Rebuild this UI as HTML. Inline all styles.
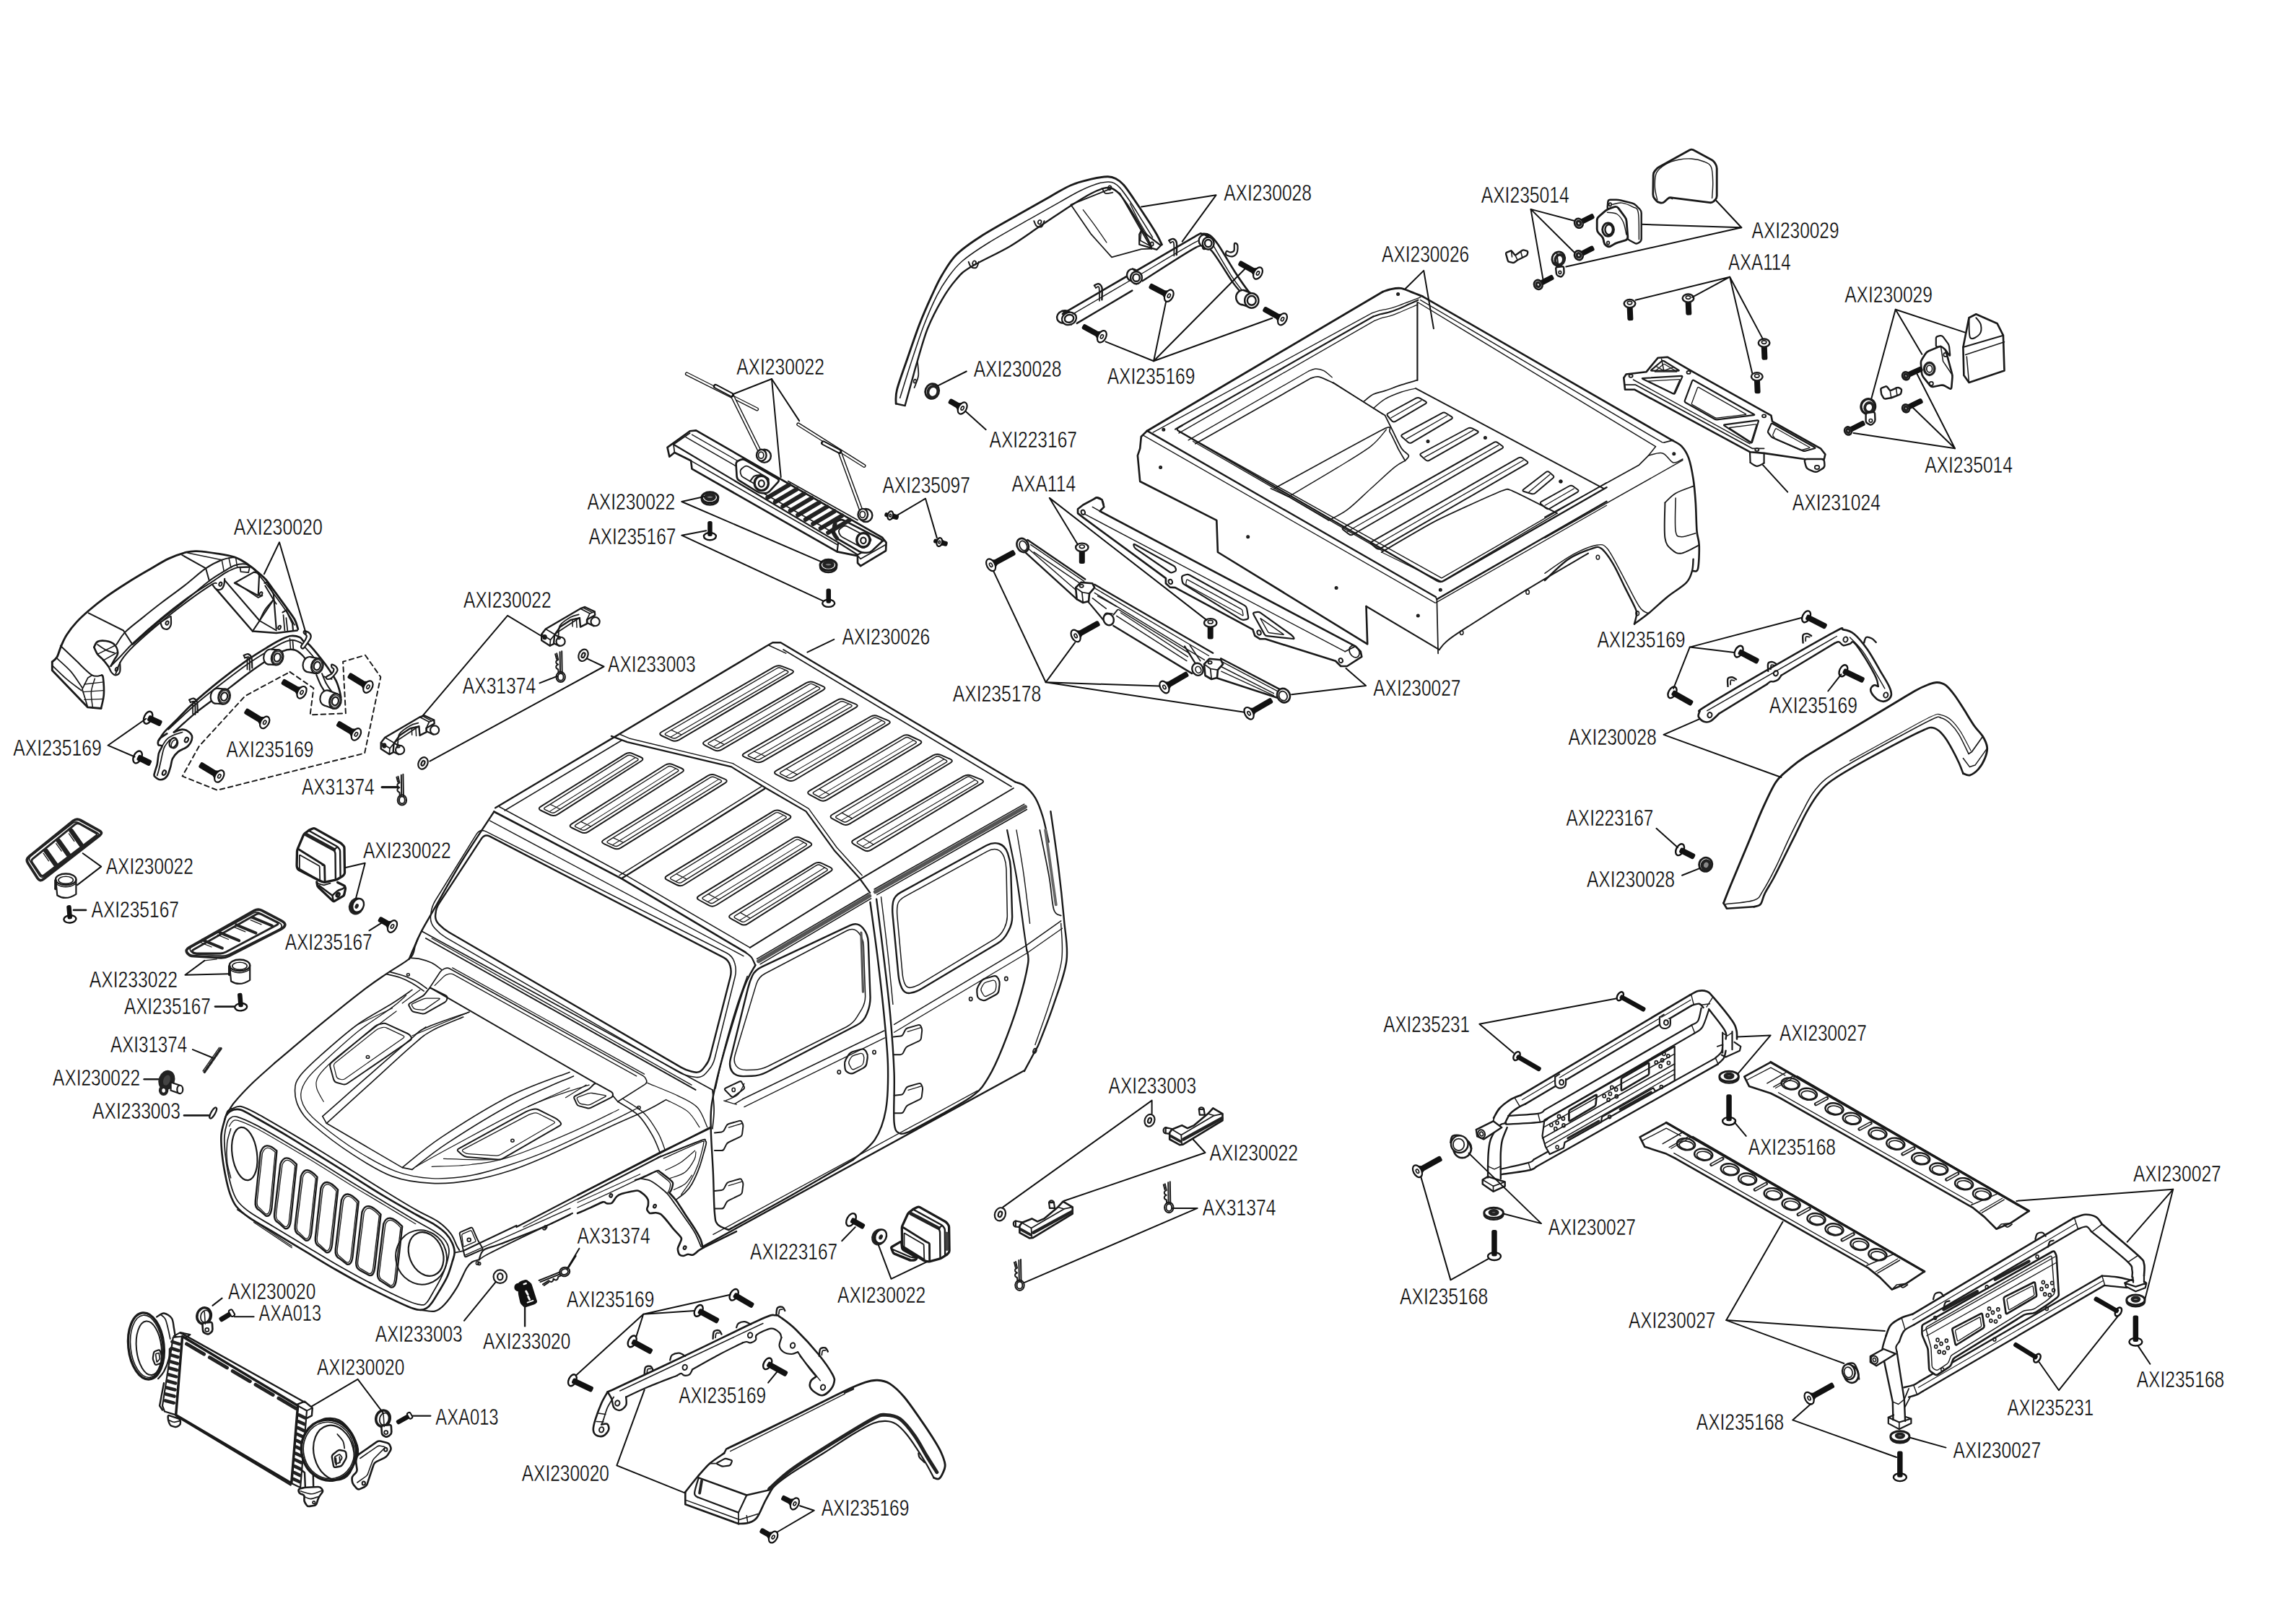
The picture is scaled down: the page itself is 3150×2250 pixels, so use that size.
<!DOCTYPE html>
<html><head><meta charset="utf-8"><title>Body exploded view</title>
<style>
html,body{margin:0;padding:0;background:#fff;}
body{width:3150px;height:2250px;overflow:hidden;}
svg{display:block;}
svg .ld{stroke-width:2;stroke:#111;}
svg text{font-family:"Liberation Sans",sans-serif;font-size:32px;fill:#000;stroke:#fff;stroke-width:0.45px;paint-order:fill stroke;}
</style></head><body>
<svg width="3150" height="2250" viewBox="0 0 3150 2250">
<g fill="none" stroke="#1a1a1a" stroke-width="2" stroke-linejoin="round" stroke-linecap="round">
<path d="M72.3,917 C73.4,915.9 76.9,914 79,910.3 C81.1,906.6 82.5,900 84.8,894.8 C87.1,889.6 89,884.8 92.6,879.3 C96.1,873.8 100.9,867.5 106.1,861.9 C111.2,856.3 116.7,851.3 123.5,845.5 C130.3,839.7 138,833.4 146.7,827.1 C155.4,820.8 166.1,813.8 175.8,807.7 C185.5,801.6 195.1,795.9 204.8,790.3 C214.5,784.7 224.9,778.1 233.8,773.9 C242.7,769.7 251.6,766.9 258,765.2 C264.4,763.5 265.2,763.3 272.5,763.6 C279.8,763.9 292.8,765.7 301.5,767.1 C310.2,768.5 318.4,769.8 324.8,771.9 C331.2,774 335.7,777 340.2,779.7 C344.7,782.5 347.3,784.7 351.8,788.4 C356.3,792.1 362.8,797.1 367.3,801.9 C371.8,806.7 374.4,811.3 378.9,817.4 C383.4,823.5 389.5,831.9 394.4,838.7 C399.2,845.5 404.9,852.5 408,858 C411.1,863.5 412,869.3 412.8,871.6" stroke-width="2.86"/>
<path d="M72.3,917 L72.3,928.7 L121.6,979.9 L140,981.5" stroke-width="2.86"/>
<path d="M140,981.5 C140.6,978.3 143.3,969.5 143.8,962.5 C144.3,955.5 143.4,943.8 142.9,939.3 C142.4,934.8 141.2,936 140.9,935.4" stroke-width="2.64"/>
<path d="M83.9,894.8 C87.3,898 97,907.3 104.2,914.1 C111.5,920.9 121.3,931.9 127.4,935.4 C133.5,938.9 138.7,935.4 140.9,935.4"/>
<path d="M79,912.2 C82.2,915.3 92.6,923.8 98.4,930.6 C104.2,937.4 111.3,949.1 113.9,952.8" stroke-width="1.76"/>
<path d="M73.2,922.8 C76.4,925.9 86,935.6 92.6,941.2 C99.2,946.9 109.5,954.1 112.9,956.7" stroke-width="1.76"/>
<path d="M127.4,935.4 L121.6,939.3 L113.9,954.8 L121.6,979.9" stroke-width="1.76"/>
<path d="M131.3,940.3 C130.5,943.3 126.9,951.8 126.4,958.6 C125.9,965.4 128.1,977.2 128.4,980.9" stroke-width="1.54"/>
<path d="M116.8,948 L141.9,945.1" stroke-width="1.32"/>
<path d="M114.8,958.6 L143.3,956.7" stroke-width="1.32"/>
<path d="M116.8,969.3 L143.6,968.3" stroke-width="1.32"/>
<path d="M122.6,849.3 L170.9,873.5 L183.5,892.9"/>
<path d="M252.2,769 L285.1,787.4 L289.9,804.8"/>
<path d="M307.3,775.8 L310.2,791.3" stroke-width="1.54"/>
<path d="M259.9,766.1 L307.3,775.8" stroke-width="1.54"/>
<path d="M317,772.9 L319.9,786.4" stroke-width="1.54"/>
<path d="M326.7,773.3 L328.6,785.5" stroke-width="1.54"/>
<path d="M161.3,892.9 C163.4,890 167.8,881.5 173.8,875.4 C179.8,869.3 188.7,862.9 197.1,856.1 C205.5,849.3 214.4,842.2 224.1,834.8 C233.8,827.4 244.9,819.5 255.1,811.6 C265.3,803.7 276.4,793.4 285.1,787.4 C293.8,781.4 300.7,778.4 307.3,775.8 C313.9,773.2 321.9,772.5 324.8,771.9"/>
<path d="M183.5,892.9 C187.1,889.7 196.4,880.6 204.8,873.5 C213.2,866.4 224.1,858 233.8,850.3 C243.5,842.6 253.5,834.7 262.8,827.1 C272.1,819.5 282.1,810.6 289.9,804.8 C297.6,799 303.5,795.8 309.3,792.2 C315.1,788.7 319.7,785.3 324.8,783.5 C329.9,781.7 335.7,780.8 340.2,781.6 C344.7,782.4 349.9,787.3 351.8,788.4"/>
<path d="M153.5,922.8 C155.6,920.7 160.8,915.8 166.1,910.3 C171.4,904.8 175.7,899 185.4,890 C195.1,881 211.2,866.8 224.1,856.1 C237,845.5 250.9,834.7 262.8,826.1 C274.7,817.5 287.3,810.3 295.7,804.8 C304.1,799.3 307.6,796.3 313.1,793.2 C318.6,790.1 323.4,787.7 328.6,786.4 C333.8,785.1 341.5,785.6 344.1,785.5"/>
<path d="M160.3,933.5 C161.6,930.4 163.8,921.6 168,915.1 C172.2,908.6 176.1,903.8 185.4,894.8 C194.8,885.8 211.2,871.5 224.1,860.9 C237,850.2 251.2,839.4 262.8,830.9 C274.4,822.4 287.7,813.5 293.8,809.7 C299.9,805.9 298.6,808.4 299.6,808.1" stroke-width="1.98"/>
<path d="M185.4,891.9 C190.2,887.9 206.1,874 214.5,867.7 C222.9,861.4 232.2,856.5 235.8,854.2" stroke-width="1.54"/>
<path d="M130.3,896.7 C131.1,895.4 132.4,890.5 135.1,889 C137.8,887.5 142.8,887.4 146.7,888 C150.6,888.6 155.7,890.1 158.4,892.9 C161.2,895.6 163.2,901 163.2,904.5 C163.2,908 160,911.1 158.4,914.1 C156.8,917.1 154.3,921.3 153.5,922.8" stroke-width="2.64"/>
<path d="M130.3,896.7 C131.1,898.3 133,903.5 135.1,906.4 C137.2,909.3 140.3,911.2 142.9,914.1 C145.5,917 149.3,922.2 150.6,923.8" stroke-width="2.64"/>
<path d="M135.1,892.9 C137,894.2 142.8,898.7 146.7,900.6 C150.6,902.5 156.4,903.9 158.4,904.5" stroke-width="1.76"/>
<path d="M135.1,906.4 L158.4,894.8" stroke-width="1.54"/>
<path d="M142.9,915.1 L161.3,904.5" stroke-width="1.54"/>
<path d="M150.6,923.8 C151.2,925.1 152.9,929.7 154.5,931.6 C156.1,933.5 158.4,935.6 160.3,935.4 C162.2,935.2 165.1,933.5 166.1,930.6 C167.1,927.7 166.1,920.1 166.1,918" stroke-width="2.2"/>
<ellipse cx="161.6" cy="927.3" rx="1.74" ry="2.71" stroke-width="1.98" transform="rotate(20 161.6 927.3)"/>
<path d="M222.2,861.9 C222.7,863.2 223.5,868 225.1,869.6 C226.7,871.2 230,872.2 231.9,871.6 C233.8,871 235.9,868.7 236.7,865.8 C237.5,862.9 236.7,856.1 236.7,854.2" stroke-width="2.2"/>
<ellipse cx="231.5" cy="863.1" rx="1.93" ry="2.71" stroke-width="1.98" transform="rotate(20 231.5 863.1)"/>
<path d="M294.8,810.6 C295.6,811.6 297.7,815.4 299.6,816.4 C301.5,817.4 304.6,817.4 306.4,816.4 C308.2,815.4 309.4,813 310.2,810.6 C311,808.2 311,803.4 311.2,801.9" stroke-width="2.2"/>
<ellipse cx="305.4" cy="809.3" rx="1.93" ry="2.71" stroke-width="1.98" transform="rotate(20 305.4 809.3)"/>
<path d="M299.6,816.4 L349.9,874.5 L382.8,877 L411.8,873.5" stroke-width="2.42"/>
<path d="M311.2,803.9 L359.6,860 L349.9,874.5" stroke-width="2.2"/>
<path d="M359.6,860 L382.8,873.5" stroke-width="1.98"/>
<path d="M359.6,860 C360.9,857.4 364.1,849.4 367.3,844.5 C370.5,839.6 377,833.2 378.9,830.9" stroke-width="1.98"/>
<path d="M324.8,807.7 L351.8,792.6 L359.2,794.2 L357.7,825.1 L324.8,807.7" stroke-width="2.2"/>
<path d="M327.7,808.1 L357.7,828 L363.5,825.1" stroke-width="1.76"/>
<ellipse cx="361.5" cy="822.8" rx="1.74" ry="2.71" stroke-width="1.98" transform="rotate(20 361.5 822.8)"/>
<path d="M332.5,786.4 L346,785.5 L344.1,793.2 L333.5,792.2 L332.5,786.4" stroke-width="1.76"/>
<path d="M366.4,807.7 L370.2,806.8 L378.9,823.2 L382.8,871.6" stroke-width="2.2"/>
<path d="M367.3,811.6 L378.9,830.9 L359.6,860" stroke-width="1.98"/>
<path d="M378.9,830.9 L382.8,836.7" stroke-width="1.76"/>
<path d="M391.5,848.4 L396.4,845.5 L405.1,863.8 L406,873.5" stroke-width="2.2"/>
<path d="M392.5,852.2 L394.4,873.5" stroke-width="1.76"/>
<path d="M396.4,856.1 L398.3,873.5" stroke-width="1.76"/>
<ellipse cx="387.1" cy="869.3" rx="1.74" ry="2.71" stroke-width="1.98" transform="rotate(20 387.1 869.3)"/>
<path d="M351.8,788.4 C354.7,792 363.5,802.3 369.3,809.7 C375.1,817.1 381.6,825.8 386.7,832.9 C391.8,840 396.6,846.7 400.2,852.2 C403.8,857.7 406.7,863.5 408,865.8" stroke-width="1.76"/>
<path d="M220.6,1025.1 C221.7,1023.3 223.7,1018.9 227.4,1014.5 C231.1,1010.1 236.4,1005.5 242.9,999 C249.4,992.5 255.8,985.1 266.1,975.8 C276.4,966.4 291.9,953.2 304.8,942.9 C317.7,932.6 332.2,921.8 343.5,913.9 C354.8,906 364.4,900.4 372.5,895.5 C380.6,890.6 386.7,887.2 391.9,884.8 C397.1,882.4 399.6,881.3 403.5,881 C407.4,880.7 412.2,881.6 415.1,882.9 C418,884.2 418.6,886.9 420.9,888.7 C423.1,890.5 424.7,889.6 428.6,893.5 C432.5,897.4 439.6,906.2 444.1,911.9 C448.6,917.5 452.1,922.2 455.7,927.4 C459.2,932.6 463,938.1 465.4,942.9 C467.8,947.7 469.1,952.5 470.2,956.4 C471.3,960.3 471.9,964.5 472.2,966.1" stroke-width="2.64"/>
<path d="M233.2,1010.6 C239.3,1005 258.1,987 270,976.7 C281.9,966.4 292.6,958.2 304.8,948.7 C317.1,939.2 332.2,927.6 343.5,919.7 C354.8,911.8 364.1,906.3 372.5,901.3 C380.9,896.3 388.3,892.1 393.8,889.7 C399.3,887.3 401.5,886.6 405.4,886.8 C409.3,886.9 415.1,890 417,890.6" stroke-width="1.98"/>
<path d="M240.9,1014.5 C246.4,1009.6 260.9,995.7 273.8,985.4 C286.7,975.1 306.7,961.3 318.3,952.6 C329.9,943.9 335.1,939.3 343.5,933.2 C351.9,927.1 360.5,921 368.6,915.8 C376.7,910.6 385.4,904.8 391.9,902.2 C398.3,899.6 402.8,899.3 407.3,900.3 C411.8,901.3 415.4,904.5 419,908 C422.6,911.5 427,919.3 428.6,921.6" stroke-width="2.42"/>
<path d="M405.4,886.8 L406.4,900.3" stroke-width="1.76"/>
<path d="M401.5,884.8 L402.5,899.9" stroke-width="1.54"/>
<path d="M417,890.6 C419.6,893.5 427.7,902.2 432.5,908 C437.3,913.8 443.8,922.6 446,925.5" stroke-width="1.76"/>
<path d="M438.3,935.1 C439.3,937.4 441.9,944.3 444.1,948.7 C446.4,953.1 450.5,959.2 451.8,961.3" stroke-width="2.2"/>
<path d="M446,933.2 C447,935.5 449.5,942.5 451.8,946.7 C454.1,950.9 458.3,956.5 459.6,958.4" stroke-width="1.98"/>
<path d="M448,937.1 L459.6,940.9" stroke-width="1.76"/>
<ellipse cx="373.5" cy="910" rx="8.13" ry="10.64" stroke-width="2.2" fill="#fff" transform="rotate(15 373.5 910)"/>
<path d="M381.4,921.2 L370.8,920.3 L376.3,899.7 L386.9,900.7Z" fill="#fff" stroke="none"/>
<path d="M381.4,921.2 L370.8,920.3" stroke-width="2.2"/>
<path d="M386.9,900.7 L376.3,899.7" stroke-width="2.2"/>
<ellipse cx="384.1" cy="910.9" rx="8.13" ry="10.64" stroke-width="2.2" fill="#fff" transform="rotate(15 384.1 910.9)"/>
<ellipse cx="384.1" cy="910.9" rx="6.66" ry="8.73" stroke-width="1.32" transform="rotate(15 384.1 910.9)"/>
<ellipse cx="384.1" cy="910.9" rx="4.47" ry="5.85" stroke-width="2.2" transform="rotate(15 384.1 910.9)"/>
<ellipse cx="300" cy="964.2" rx="8.13" ry="10.64" stroke-width="2.2" fill="#fff" transform="rotate(15 300 964.2)"/>
<path d="M307.8,975.4 L297.2,974.5 L302.8,953.9 L313.4,954.8Z" fill="#fff" stroke="none"/>
<path d="M307.8,975.4 L297.2,974.5" stroke-width="2.2"/>
<path d="M313.4,954.8 L302.8,953.9" stroke-width="2.2"/>
<ellipse cx="310.6" cy="965.1" rx="8.13" ry="10.64" stroke-width="2.2" fill="#fff" transform="rotate(15 310.6 965.1)"/>
<ellipse cx="310.6" cy="965.1" rx="6.66" ry="8.73" stroke-width="1.32" transform="rotate(15 310.6 965.1)"/>
<ellipse cx="310.6" cy="965.1" rx="4.47" ry="5.85" stroke-width="2.2" transform="rotate(15 310.6 965.1)"/>
<ellipse cx="427.8" cy="920.5" rx="8.13" ry="10.64" stroke-width="2.2" fill="#fff" transform="rotate(15 427.8 920.5)"/>
<path d="M436.5,932.8 L425.1,930.8 L430.6,910.3 L442,912.3Z" fill="#fff" stroke="none"/>
<path d="M436.5,932.8 L425.1,930.8" stroke-width="2.2"/>
<path d="M442,912.3 L430.6,910.3" stroke-width="2.2"/>
<ellipse cx="439.3" cy="922.6" rx="8.13" ry="10.64" stroke-width="2.2" fill="#fff" transform="rotate(15 439.3 922.6)"/>
<ellipse cx="439.3" cy="922.6" rx="6.66" ry="8.73" stroke-width="1.32" transform="rotate(15 439.3 922.6)"/>
<ellipse cx="439.3" cy="922.6" rx="4.47" ry="5.85" stroke-width="2.2" transform="rotate(15 439.3 922.6)"/>
<ellipse cx="451.7" cy="966.9" rx="8.13" ry="10.64" stroke-width="2.2" fill="#fff" transform="rotate(15 451.7 966.9)"/>
<path d="M461.7,981.8 L448.9,977.2 L454.5,956.6 L467.2,961.2Z" fill="#fff" stroke="none"/>
<path d="M461.7,981.8 L448.9,977.2" stroke-width="2.2"/>
<path d="M467.2,961.2 L454.5,956.6" stroke-width="2.2"/>
<ellipse cx="464.4" cy="971.5" rx="8.13" ry="10.64" stroke-width="2.2" fill="#fff" transform="rotate(15 464.4 971.5)"/>
<ellipse cx="464.4" cy="971.5" rx="6.66" ry="8.73" stroke-width="1.32" transform="rotate(15 464.4 971.5)"/>
<ellipse cx="464.4" cy="971.5" rx="4.47" ry="5.85" stroke-width="2.2" transform="rotate(15 464.4 971.5)"/>
<path d="M337.7,908 C338.7,907.7 341.7,905.6 343.5,906.1 C345.3,906.6 347.3,907.7 348.3,910.9 C349.3,914.1 349.1,923.1 349.3,925.5" stroke-width="2.2"/>
<path d="M339.2,911.5 C340.1,911.3 343.4,909.7 344.5,910.4 C345.6,911.1 345.6,912.8 345.8,915.8 C346,918.8 345.8,926.3 345.8,928.4" stroke-width="1.98"/>
<path d="M337.7,908 L339.2,911.5" stroke-width="1.98"/>
<path d="M342.5,911.9 L342.5,927.4" stroke-width="1.76"/>
<path d="M262.2,969.6 C263.2,969.3 266.2,967.1 268,967.6 C269.8,968.1 271.9,969.3 272.9,972.5 C273.9,975.7 273.6,984.6 273.8,987" stroke-width="2.2"/>
<path d="M263.8,973.1 C264.7,972.9 267.9,971.2 269,971.9 C270.1,972.6 270.2,974.3 270.4,977.3 C270.6,980.3 270.4,987.8 270.4,989.9" stroke-width="1.98"/>
<path d="M262.2,969.6 L263.8,973.1" stroke-width="1.98"/>
<path d="M267.1,973.4 L267.1,988.9" stroke-width="1.76"/>
<path d="M231.3,1016.4 C229.5,1017.7 222.6,1021.5 220.6,1024.1 C218.6,1026.7 218.7,1030.3 219.3,1031.9 C220,1033.5 224.4,1031.9 224.5,1033.8 C224.6,1035.7 221.1,1039.3 220,1043.5 C218.9,1047.7 218.6,1054.8 217.7,1059 C216.8,1063.2 215.4,1065.9 214.8,1068.6 C214.2,1071.3 212.6,1073.5 213.9,1075.4 C215.2,1077.4 219.7,1080.3 222.6,1080.3 C225.5,1080.3 229.1,1078.3 231.3,1075.4 C233.6,1072.5 234.8,1066.8 236.1,1062.8 C237.4,1058.8 237.2,1054.7 239,1051.2 C240.8,1047.7 243.1,1044.5 246.7,1041.6 C250.2,1038.7 257.1,1037 260.3,1033.8 C263.5,1030.6 265.8,1025.4 266.1,1022.2 C266.4,1019 264.4,1016.4 262.2,1014.5 C259.9,1012.6 256.1,1010.6 252.6,1010.6 C249.1,1010.6 242.8,1013.9 240.9,1014.5" stroke-width="2.64"/>
<path d="M235.1,1025.1 C233.8,1026.9 229.4,1031.1 227.4,1035.8 C225.4,1040.5 224.3,1048 223.1,1053.2 C221.9,1058.4 220.9,1063.2 220,1066.7 C219.1,1070.2 218.1,1073.2 217.7,1074.5" stroke-width="1.76"/>
<path d="M224.5,1033.8 C225.6,1032.2 228.6,1026.7 231.3,1024.1 C234,1021.5 237.4,1019.9 240.9,1018.3 C244.4,1016.7 250.7,1015.1 252.6,1014.5" stroke-width="1.76"/>
<ellipse cx="240" cy="1029" rx="5.03" ry="6.97" stroke-width="2.42" transform="rotate(25 240 1029)"/>
<ellipse cx="241.9" cy="1030.9" rx="4.26" ry="6.19" stroke-width="1.54" transform="rotate(25 241.9 1030.9)"/>
<ellipse cx="258.4" cy="1025.1" rx="2.32" ry="3.48" stroke-width="2.2" transform="rotate(25 258.4 1025.1)"/>
<ellipse cx="227.4" cy="1070.6" rx="2.32" ry="3.48" stroke-width="2.2" transform="rotate(25 227.4 1070.6)"/>
<path d="M421.9,874.2 C423.2,874.2 427.2,875.7 428.6,877.1 C430.1,878.5 431.2,880.3 430.6,882.9 C430,885.5 426.6,890 424.8,892.6 C423,895.2 421.2,897.9 419.9,898.4 C418.6,898.9 416.5,897.4 417,895.5 C417.5,893.6 421.5,889.2 422.8,886.8 C424.1,884.4 425.1,882.6 424.8,881 C424.5,879.4 421.4,878.2 420.9,877.1 C420.4,876 420.6,874.2 421.9,874.2Z" stroke-width="2.2" fill="#fff"/>
<path d="M459.6,920.6 C460.6,920.4 464.1,922 465.4,923.5 C466.7,925 468.3,926.7 467.3,929.3 C466.3,931.9 461.9,937.1 459.6,939 C457.4,940.9 455.1,941.1 453.8,940.9 C452.5,940.7 450.8,939.3 451.8,938 C452.8,936.7 457.8,935 459.6,933.2 C461.4,931.4 462.5,928.9 462.5,927.4 C462.5,925.9 460.1,925.6 459.6,924.5 C459.1,923.4 458.6,920.8 459.6,920.6Z" stroke-width="2.2" fill="#fff"/>
<g transform="translate(509.9 951.6) rotate(-148.7)"><rect x="0" y="-4.3" width="31.7" height="8.6" rx="2.5" fill="#111" stroke="none"/><path d="M8.1,-4.3 L0,-9 L0,9 L8.1,4.3Z" fill="#111" stroke="none"/><ellipse cx="0" cy="0" rx="5.6" ry="9" fill="#fff" stroke="#111" stroke-width="2.2"/><ellipse cx="0" cy="0" rx="1.8" ry="2.9" fill="none" stroke="#111" stroke-width="1.6"/></g>
<g transform="translate(418 959.3) rotate(-150.2)"><rect x="0" y="-4.3" width="31.2" height="8.6" rx="2.5" fill="#111" stroke="none"/><path d="M8.1,-4.3 L0,-9 L0,9 L8.1,4.3Z" fill="#111" stroke="none"/><ellipse cx="0" cy="0" rx="5.6" ry="9" fill="#fff" stroke="#111" stroke-width="2.2"/><ellipse cx="0" cy="0" rx="1.8" ry="2.9" fill="none" stroke="#111" stroke-width="1.6"/></g>
<g transform="translate(366.7 1000.9) rotate(-148.8)"><rect x="0" y="-4.3" width="31.7" height="8.6" rx="2.5" fill="#111" stroke="none"/><path d="M8.1,-4.3 L0,-9 L0,9 L8.1,4.3Z" fill="#111" stroke="none"/><ellipse cx="0" cy="0" rx="5.6" ry="9" fill="#fff" stroke="#111" stroke-width="2.2"/><ellipse cx="0" cy="0" rx="1.8" ry="2.9" fill="none" stroke="#111" stroke-width="1.6"/></g>
<g transform="translate(493.4 1017.4) rotate(-149.3)"><rect x="0" y="-4.3" width="30.4" height="8.6" rx="2.5" fill="#111" stroke="none"/><path d="M8.1,-4.3 L0,-9 L0,9 L8.1,4.3Z" fill="#111" stroke="none"/><ellipse cx="0" cy="0" rx="5.6" ry="9" fill="#fff" stroke="#111" stroke-width="2.2"/><ellipse cx="0" cy="0" rx="1.8" ry="2.9" fill="none" stroke="#111" stroke-width="1.6"/></g>
<g transform="translate(303.8 1075.4) rotate(-148.8)"><rect x="0" y="-4.3" width="31.7" height="8.6" rx="2.5" fill="#111" stroke="none"/><path d="M8.1,-4.3 L0,-9 L0,9 L8.1,4.3Z" fill="#111" stroke="none"/><ellipse cx="0" cy="0" rx="5.6" ry="9" fill="#fff" stroke="#111" stroke-width="2.2"/><ellipse cx="0" cy="0" rx="1.8" ry="2.9" fill="none" stroke="#111" stroke-width="1.6"/></g>
<g transform="translate(205.1 994.2) rotate(25.3)"><ellipse cx="0" cy="0" rx="5.4" ry="9" fill="#fff" stroke="#111" stroke-width="2.4"/><rect x="0" y="-4.3" width="20.4" height="8.6" rx="2.5" fill="#111" stroke="none"/></g>
<g transform="translate(190.6 1048.9) rotate(26.3)"><ellipse cx="0" cy="0" rx="5.4" ry="9" fill="#fff" stroke="#111" stroke-width="2.4"/><rect x="0" y="-4.3" width="20.5" height="8.6" rx="2.5" fill="#111" stroke="none"/></g>
<path d="M401.5,930.9 L434.4,953.5 L429.6,990.3 L478.9,988.3 L475.1,916.8 L506,907.7 L527.3,938 L505.1,1043.5 L300.9,1094.8 L252.6,1075.4 L275.8,1033.8 L339.6,964.2Z" stroke-width="1.98" stroke-dasharray="6.5 5"/>
<text x="313.5" y="1048.9" textLength="120.9" lengthAdjust="spacingAndGlyphs">AXI235169</text>
<text x="418" y="1101.2" textLength="100.6" lengthAdjust="spacingAndGlyphs">AX31374</text>
<text x="323.7" y="741.3" textLength="123.1" lengthAdjust="spacingAndGlyphs">AXI230020</text>
<text x="18.3" y="1046.7" textLength="122.4" lengthAdjust="spacingAndGlyphs">AXI235169</text>
<path class="ld" d="M365.9,795.3 L387,751.3 L423.9,877.9"/>
<path class="ld" d="M202.3,995.8 L149.5,1032.7 L186.5,1048.5"/>
<path d="M813.4,850.4 L822.8,854.9 L822.8,867.5 L813.4,863Z" stroke-width="2.2" fill="#fff"/>
<ellipse cx="824.6" cy="861.2" rx="6.06" ry="6.06" stroke-width="2.2" fill="#fff"/>
<path d="M765.4,878 L774.8,882.5 L774.8,895.1 L765.4,890.6Z" stroke-width="2.2" fill="#fff"/>
<ellipse cx="776.6" cy="888.8" rx="6.06" ry="6.06" stroke-width="2.2" fill="#fff"/>
<path d="M750.2,878.7 L755.8,871.5 L804,843.2 L810.3,841 L823.7,847.3 L824.2,852.2 L813,858.5 L813,864.1 L804,868.6 L802.9,856.3 L790.5,858.9 L775.9,868.6 L768.1,879.8 L767,892.1 L761.8,894.8 L750.2,887.2Z" stroke-width="2.42" fill="#fff"/>
<path d="M755.8,871.5 L768.1,878.7 L802.9,855.8" stroke-width="1.76"/>
<path d="M804,843.2 L817,850 L813,858.5" stroke-width="1.76"/>
<path d="M807.3,841.7 L820.1,848.4" stroke-width="1.54"/>
<path d="M817,850 L824.2,847.3" stroke-width="1.54"/>
<path d="M750.2,878.7 L762.5,886.5 L768.1,879.8" stroke-width="1.76"/>
<path d="M762.5,886.5 L761.8,894.8" stroke-width="1.76"/>
<path d="M792.8,858.5 L793.2,867.9" stroke-width="1.54"/>
<path d="M798.4,856.7 L799.1,869.3" stroke-width="1.54"/>
<path d="M773.7,878.7 C774.1,876.6 773.1,870.2 775.9,866.3 C778.7,862.4 786.2,857.6 790.5,855.1 C794.8,852.6 799.8,851.9 801.7,851.3" stroke-width="1.76"/>
<path d="M773.7,878.7 L773,885.4" stroke-width="1.76"/>
<ellipse cx="754.6" cy="882.7" rx="1.57" ry="2.02" stroke-width="3.3" fill="#111"/>
<ellipse cx="774.4" cy="883.6" rx="1.79" ry="1.79" stroke-width="1.76"/>
<path d="M590.9,1000.7 L600.3,1005.2 L600.3,1017.7 L590.9,1013.2Z" stroke-width="2.2" fill="#fff"/>
<ellipse cx="602.1" cy="1011.5" rx="6.06" ry="6.06" stroke-width="2.2" fill="#fff"/>
<path d="M542.9,1028.3 L552.3,1032.8 L552.3,1045.3 L542.9,1040.8Z" stroke-width="2.2" fill="#fff"/>
<ellipse cx="554.1" cy="1039" rx="6.06" ry="6.06" stroke-width="2.2" fill="#fff"/>
<path d="M527.7,1028.9 L533.3,1021.8 L581.5,993.5 L587.8,991.3 L601.2,997.5 L601.7,1002.5 L590.5,1008.8 L590.5,1014.4 L581.5,1018.9 L580.4,1006.5 L568,1009.2 L553.5,1018.9 L545.6,1030.1 L544.5,1042.4 L539.3,1045.1 L527.7,1037.5Z" stroke-width="2.42" fill="#fff"/>
<path d="M533.3,1021.8 L545.6,1028.9 L580.4,1006.1" stroke-width="1.76"/>
<path d="M581.5,993.5 L594.5,1000.2 L590.5,1008.8" stroke-width="1.76"/>
<path d="M584.9,991.9 L597.7,998.7" stroke-width="1.54"/>
<path d="M594.5,1000.2 L601.7,997.5" stroke-width="1.54"/>
<path d="M527.7,1028.9 L540,1036.8 L545.6,1030.1" stroke-width="1.76"/>
<path d="M540,1036.8 L539.3,1045.1" stroke-width="1.76"/>
<path d="M570.3,1008.8 L570.7,1018.2" stroke-width="1.54"/>
<path d="M575.9,1007 L576.6,1019.5" stroke-width="1.54"/>
<path d="M551.2,1028.9 C551.6,1026.9 550.7,1020.5 553.5,1016.6 C556.3,1012.7 563.7,1007.9 568,1005.4 C572.3,1002.9 577.4,1002.2 579.3,1001.6" stroke-width="1.76"/>
<path d="M551.2,1028.9 L550.6,1035.7" stroke-width="1.76"/>
<ellipse cx="532.2" cy="1033" rx="1.57" ry="2.02" stroke-width="3.3" fill="#111"/>
<ellipse cx="551.9" cy="1033.9" rx="1.79" ry="1.79" stroke-width="1.76"/>
<g transform="translate(778.2 902.2) rotate(0) scale(1.0)" stroke-width="2"><path d="M0,0 L0.5,30.2"/><path d="M-2.6,1 L-2.2,29.4"/><ellipse cx="-1.5" cy="35.7" rx="6.2" ry="7.2"/><ellipse cx="-1.5" cy="35.7" rx="3.9" ry="4.9"/><path d="M-7,3 L-5,11.8 C-9,13.4 -9,16.8 -5,18.5 C-9,20.2 -9,23.5 -5,25.2 L-4.5,30.2"/><path d="M-9,4 L-7.2,10.9"/></g>
<g transform="translate(558.4 1072.7) rotate(0) scale(1.0)" stroke-width="2"><path d="M0,0 L0.5,30.2"/><path d="M-2.6,1 L-2.2,29.4"/><ellipse cx="-1.5" cy="35.7" rx="6.2" ry="7.2"/><ellipse cx="-1.5" cy="35.7" rx="3.9" ry="4.9"/><path d="M-7,3 L-5,11.8 C-9,13.4 -9,16.8 -5,18.5 C-9,20.2 -9,23.5 -5,25.2 L-4.5,30.2"/><path d="M-9,4 L-7.2,10.9"/></g>
<ellipse cx="808" cy="907.8" rx="6.28" ry="8.52" stroke-width="2.2" fill="#fff" transform="rotate(25 808 907.8)"/>
<ellipse cx="808" cy="907.8" rx="2.11" ry="3.58" stroke-width="2.2" transform="rotate(25 808 907.8)"/>
<ellipse cx="586" cy="1057.4" rx="6.28" ry="8.52" stroke-width="2.2" fill="#fff" transform="rotate(25 586 1057.4)"/>
<ellipse cx="586" cy="1057.4" rx="2.11" ry="3.58" stroke-width="2.2" transform="rotate(25 586 1057.4)"/>
<text x="642.1" y="842.3" textLength="121.6" lengthAdjust="spacingAndGlyphs">AXI230022</text>
<text x="842.1" y="931.3" textLength="121.6" lengthAdjust="spacingAndGlyphs">AXI233003</text>
<text x="640.7" y="961.1" textLength="101.6" lengthAdjust="spacingAndGlyphs">AX31374</text>
<path class="ld" d="M751.3,882 L703.1,852.9 L585.3,991.9"/>
<path class="ld" d="M813,912.3 L836.5,923.5 L595.4,1054.7"/>
<path class="ld" d="M747.5,946.4 L771.5,937"/>
<path d="M529.2,1090.6 L550.6,1090.6" stroke-width="3.3"/>
<path d="M1070.3,890.3 L1081.4,890.3 L1406.5,1083.5 L1419.4,1089 L1434.2,1105.6 L1445.3,1133.4 L1419.4,1118.6 L1046.3,1337.3 L1031.6,1318 L684.3,1124.5 L688,1114.9Z" fill="#fff" stroke="none"/>
<path d="M686.2,1119.3 L856.1,1018.1 L1061.1,895.5 L1070.3,890.3 L1081.4,890.3 L1406.5,1083.5" stroke-width="2.42"/>
<path d="M1406.5,1083.5 C1408.7,1084.4 1414.8,1085.3 1419.4,1089 C1424,1092.7 1430,1098.5 1434.2,1105.6 C1438.4,1112.7 1441.4,1121.3 1444.5,1131.5 C1447.6,1141.7 1451.3,1160.8 1452.7,1166.6" stroke-width="2.42"/>
<path d="M699.1,1123 L861.6,1025.5" stroke-width="1.54"/>
<path d="M1085.1,899.9 L1400.9,1089.8" stroke-width="1.76"/>
<path d="M1064.8,894 L1088.8,905.1" stroke-width="1.54"/>
<path d="M684.3,1124.5 L861.6,1217.6 L1032.3,1319.2" stroke-width="2.64"/>
<path d="M691.7,1117.8 L865.3,1211.7 L1038.9,1312.9" stroke-width="1.54"/>
<path d="M1032.3,1319.2 C1033.7,1320.4 1038.5,1323.2 1040.8,1326.2 C1043.1,1329.2 1045.4,1335.5 1046.3,1337.3" stroke-width="2.2"/>
<path d="M846.9,1019.9 L869,1028.1 L1013.1,1062.4 L1061.1,1092 L1116.5,1124.1 L1155.3,1177.7 L1190.4,1216.5 L1205.2,1236.8" stroke-width="2.2"/>
<path d="M857.9,1017 L872.7,1023.3 L1014.9,1057.6 L1064.8,1087.2 L1120.2,1120.4 L1159,1174 L1194.1,1212.8" stroke-width="1.43"/>
<path d="M1059.3,1092.7 L861.6,1216.8" stroke-width="2.2"/>
<path d="M1054.5,1089.8 L857.9,1212.8" stroke-width="1.43"/>
<path d="M1038.9,1312.9 L1192.2,1217.6 L1403.9,1092" stroke-width="1.98"/>
<path d="M1050.8,1331.7 L1204.4,1241.2" stroke-width="5.5" stroke="#555"/>
<path d="M1212.6,1235.7 L1420.2,1117.8" stroke-width="5.5" stroke="#555"/>
<path d="M1048.5,1328.4 L1203,1237.5" stroke-width="1.54"/>
<path d="M1053,1335.8 L1206.6,1244.9" stroke-width="1.54"/>
<path d="M1211.1,1232 L1418.7,1114.1" stroke-width="1.54"/>
<path d="M1214.8,1239.7 L1422.4,1121.5" stroke-width="1.54"/>
<path d="M916.9,1019.5 Q911.5,1017 916.6,1014 L1072.6,923.9 Q1077.7,920.9 1083.2,923.1 L1096.2,928.1 Q1101.7,930.2 1096.6,933.2 L940.6,1025.1 Q935.5,1028.1 930.1,1025.6 Z" stroke-width="1.98"/>
<path d="M922.8,1018.6 Q919.8,1017.2 922.7,1015.5 L1076.2,926 Q1079,924.3 1082,925.7 L1090.4,929.5 Q1093.4,930.9 1090.6,932.6 L937.1,1022.1 Q934.2,1023.8 931.2,1022.4 Z" stroke-width="1.43"/>
<path d="M929.7,1011.4 L944.1,1018" stroke-width="1.21"/>
<path d="M928.8,1021.3 L1088,928.4" stroke-width="1.1"/>
<path d="M976.6,1032.6 Q971.3,1029.9 976.5,1027 L1116.9,946.1 Q1122.1,943.1 1127.5,945.4 L1139.9,950.8 Q1145.3,953.1 1140.2,956.1 L999.7,1038.7 Q994.6,1041.7 989.3,1039.1 Z" stroke-width="1.98"/>
<path d="M982.5,1031.7 Q979.5,1030.2 982.4,1028.6 L1120.3,948.3 Q1123.2,946.6 1126.2,948.1 L1134.2,952.2 Q1137.2,953.7 1134.3,955.4 L996.3,1035.7 Q993.5,1037.3 990.5,1035.8 Z" stroke-width="1.43"/>
<path d="M989.4,1024.5 L1003.4,1031.6" stroke-width="1.21"/>
<path d="M988.2,1034.7 L1131.9,951" stroke-width="1.1"/>
<path d="M1031.4,1048.9 Q1026,1046.5 1031.1,1043.6 L1159.4,970.1 Q1164.5,967.1 1170,969.3 L1184.9,975.3 Q1190.4,977.5 1185.3,980.4 L1057,1054.7 Q1051.9,1057.6 1046.4,1055.3 Z" stroke-width="1.98"/>
<path d="M1037.8,1048 Q1034.7,1046.7 1037.6,1045.1 L1163.3,972.7 Q1166.2,971 1169.2,972.3 L1178.6,976.3 Q1181.7,977.6 1178.8,979.3 L1053.1,1051.7 Q1050.2,1053.4 1047.2,1052.1 Z" stroke-width="1.43"/>
<path d="M1044.6,1041 L1060.1,1047.7" stroke-width="1.21"/>
<path d="M1044.4,1050.9 L1175.9,975.2" stroke-width="1.1"/>
<path d="M1075.6,1073.2 Q1070.3,1070.6 1075.5,1067.6 L1205.6,993 Q1210.7,990 1216.2,992.3 L1230,998.1 Q1235.5,1000.4 1230.4,1003.4 L1101.3,1080.5 Q1096.2,1083.5 1090.9,1080.8 Z" stroke-width="1.98"/>
<path d="M1082,1072.6 Q1079,1071.1 1081.9,1069.4 L1209,995.1 Q1211.8,993.4 1214.8,994.9 L1224.4,999.6 Q1227.3,1001.1 1224.5,1002.8 L1097.4,1077.2 Q1094.5,1078.8 1091.6,1077.4 Z" stroke-width="1.43"/>
<path d="M1088.9,1065.3 L1104.4,1073.1" stroke-width="1.21"/>
<path d="M1088.7,1075.9 L1221.5,998.2" stroke-width="1.1"/>
<path d="M1121.7,1101.1 Q1116.5,1098.3 1121.6,1095.3 L1249.9,1020 Q1255,1017 1260.4,1019.5 L1273.7,1025.6 Q1279.1,1028.1 1274,1031.1 L1145.6,1108.1 Q1140.5,1111.2 1135.3,1108.4 Z" stroke-width="1.98"/>
<path d="M1127.7,1100.3 Q1124.8,1098.8 1127.7,1097.1 L1253.5,1022.4 Q1256.3,1020.7 1259.3,1022.3 L1267.8,1026.9 Q1270.8,1028.5 1267.9,1030.2 L1142.1,1104.8 Q1139.2,1106.5 1136.3,1105 Z" stroke-width="1.43"/>
<path d="M1134.7,1092.9 L1149.1,1100.7" stroke-width="1.21"/>
<path d="M1133.8,1103.6 L1265.4,1025.6" stroke-width="1.1"/>
<path d="M1153.1,1134.3 Q1147.9,1131.5 1153,1128.5 L1292.4,1046.6 Q1297.5,1043.6 1302.9,1045.9 L1316.1,1051.6 Q1321.5,1053.9 1316.5,1057 L1177,1141.4 Q1171.9,1144.4 1166.7,1141.6 Z" stroke-width="1.98"/>
<path d="M1159.1,1133.6 Q1156.2,1132 1159.1,1130.3 L1296,1048.7 Q1298.8,1047 1301.8,1048.5 L1310.3,1053.1 Q1313.2,1054.7 1310.4,1056.4 L1173.5,1138.1 Q1170.6,1139.8 1167.7,1138.2 Z" stroke-width="1.43"/>
<path d="M1166,1126.1 L1180.4,1133.9" stroke-width="1.21"/>
<path d="M1165.2,1136.9 L1307.8,1051.8" stroke-width="1.1"/>
<path d="M1182.6,1169.6 Q1177.5,1166.6 1182.6,1163.6 L1334.9,1075.4 Q1340,1072.4 1345.5,1074.6 L1359.3,1080.2 Q1364.7,1082.4 1359.7,1085.4 L1206.5,1177.6 Q1201.5,1180.6 1196.4,1177.7 Z" stroke-width="1.98"/>
<path d="M1188.6,1169 Q1185.8,1167.3 1188.6,1165.6 L1338.8,1076.9 Q1341.7,1075.2 1344.5,1076.9 L1353.2,1082 Q1356.1,1083.7 1353.2,1085.4 L1203,1174.1 Q1200.2,1175.8 1197.3,1174.1 Z" stroke-width="1.43"/>
<path d="M1195.6,1161.5 L1210,1169.9" stroke-width="1.21"/>
<path d="M1194.8,1172.6 L1350.7,1080.5" stroke-width="1.1"/>
<path d="M749.5,1123 Q744.2,1120.4 749.2,1117.3 L865.8,1044.9 Q870.9,1041.7 876.3,1044.1 L887.6,1049 Q893,1051.3 888.1,1054.5 L772.4,1128.3 Q767.4,1131.5 762.1,1129 Z" stroke-width="1.98"/>
<path d="M755.3,1121.9 Q752.3,1120.5 755.1,1118.7 L868.7,1047.2 Q871.5,1045.4 874.5,1046.8 L882.5,1050.6 Q885.5,1052 882.7,1053.8 L769,1125.4 Q766.2,1127.1 763.2,1125.7 Z" stroke-width="1.43"/>
<path d="M762,1114.4 L775.9,1121" stroke-width="1.21"/>
<path d="M761,1124.6 L880.3,1049.5" stroke-width="1.1"/>
<path d="M792.3,1147 Q787,1144.4 792,1141.3 L921.3,1060 Q926.3,1056.9 931.7,1059.2 L944.1,1064.5 Q949.6,1066.9 944.6,1070 L814.9,1152.3 Q809.9,1155.5 804.6,1152.9 Z" stroke-width="1.98"/>
<path d="M798,1145.9 Q795,1144.5 797.8,1142.7 L924.8,1062.5 Q927.6,1060.7 930.6,1062.2 L938.4,1065.9 Q941.4,1067.4 938.5,1069.1 L811.6,1149.4 Q808.8,1151.1 805.8,1149.7 Z" stroke-width="1.43"/>
<path d="M804.7,1138.4 L818.5,1145" stroke-width="1.21"/>
<path d="M803.6,1148.6 L936.2,1064.9" stroke-width="1.1"/>
<path d="M836.7,1169.1 Q831.3,1166.6 836.4,1163.5 L980.4,1074.8 Q985.4,1071.7 990.8,1073.9 L1003.9,1079.4 Q1009.4,1081.6 1004.4,1084.8 L860,1174.6 Q855,1177.7 849.6,1175.2 Z" stroke-width="1.98"/>
<path d="M842.5,1168.1 Q839.5,1166.7 842.4,1164.9 L984,1077.2 Q986.8,1075.5 989.9,1076.9 L998,1080.7 Q1001,1082.1 998.2,1083.9 L856.5,1171.6 Q853.7,1173.3 850.7,1171.9 Z" stroke-width="1.43"/>
<path d="M849.3,1160.6 L863.4,1167.3" stroke-width="1.21"/>
<path d="M848.4,1170.8 L995.7,1079.6" stroke-width="1.1"/>
<path d="M924.2,1219.1 Q918.9,1216.5 923.9,1213.4 L1070.8,1124.2 Q1075.9,1121.2 1081.2,1123.7 L1092.7,1129 Q1098,1131.5 1093,1134.6 L947.9,1225.5 Q942.9,1228.7 937.6,1226 Z" stroke-width="1.98"/>
<path d="M930.1,1218.3 Q927.2,1216.8 930,1215 L1073.5,1126.6 Q1076.3,1124.8 1079.3,1126.3 L1087.7,1130.6 Q1090.7,1132.1 1087.9,1133.9 L944.4,1222.3 Q941.6,1224.1 938.6,1222.6 Z" stroke-width="1.43"/>
<path d="M936.9,1210.8 L951.3,1218.1" stroke-width="1.21"/>
<path d="M936.2,1221.3 L1085.3,1129.4" stroke-width="1.1"/>
<path d="M968.4,1247 Q963.2,1244.2 968.3,1241.1 L1098.5,1161.5 Q1103.6,1158.5 1108.9,1161 L1121.5,1167 Q1126.9,1169.6 1121.9,1172.7 L992.2,1254 Q987.2,1257.1 982,1254.3 Z" stroke-width="1.98"/>
<path d="M974.4,1246.2 Q971.5,1244.6 974.3,1242.9 L1101.7,1164 Q1104.6,1162.3 1107.5,1163.8 L1116,1168.5 Q1119,1170 1116.1,1171.8 L988.7,1250.6 Q985.9,1252.4 983,1250.8 Z" stroke-width="1.43"/>
<path d="M981.2,1238.6 L995.6,1246.3" stroke-width="1.21"/>
<path d="M980.5,1249.5 L1113.6,1167.1" stroke-width="1.1"/>
<path d="M1012.7,1272.9 Q1007.5,1270 1012.6,1267 L1128.1,1196.6 Q1133.1,1193.6 1138.5,1196.1 L1150,1201.7 Q1155.3,1204.3 1150.3,1207.4 L1035.8,1279.8 Q1030.8,1283 1025.7,1280.1 Z" stroke-width="1.98"/>
<path d="M1018.6,1272.1 Q1015.7,1270.5 1018.5,1268.7 L1131,1198.9 Q1133.8,1197.2 1136.7,1198.8 L1144.8,1203.3 Q1147.8,1204.9 1144.9,1206.7 L1032.4,1276.5 Q1029.6,1278.2 1026.7,1276.6 Z" stroke-width="1.43"/>
<path d="M1025.4,1264.4 L1039.3,1272.2" stroke-width="1.21"/>
<path d="M1024.4,1275.3 L1142.5,1202" stroke-width="1.1"/>
<text x="1166.4" y="893.1" textLength="121.9" lengthAdjust="spacingAndGlyphs">AXI230026</text>
<path class="ld" d="M1155.3,885.9 L1118.4,903.6"/>
<path d="M380,1473.1 C391.4,1463.6 427.8,1432.7 448.2,1415.9 C468.6,1399.1 488.2,1383.4 502.7,1372.3 C517.2,1361.2 524.5,1356.6 535.4,1349.1 C546.3,1341.6 561.5,1333.7 568.1,1327.3 C574.7,1320.9 573.1,1315.5 574.9,1310.9 C576.7,1306.4 578.3,1301.8 579,1300" stroke-width="2.2"/>
<path d="M535.4,1349.6 C538.6,1350.4 548.6,1352.4 554.5,1354.5 C560.4,1356.6 565.4,1359.1 570.9,1362.2 C576.4,1365.3 584.5,1371.3 587.2,1373.1" stroke-width="1.65"/>
<path d="M539.5,1346.4 C542.5,1347.2 551.3,1349.3 557.2,1351.3 C563.1,1353.3 569.2,1355.6 574.9,1358.6 C580.6,1361.6 588.6,1367.7 591.3,1369.5" stroke-width="1.65"/>
<path d="M568.1,1327.3 C570.4,1327.5 576.8,1327.5 581.8,1328.6 C586.8,1329.7 593.1,1331.6 598.1,1334.1 C603.1,1336.6 609.5,1342 611.8,1343.6" stroke-width="1.65"/>
<ellipse cx="565.4" cy="1350.4" rx="1.91" ry="1.64" stroke-width="1.54"/>
<path d="M595.4,1368.2 L824.4,1500.4" stroke-width="1.98"/>
<path d="M595.4,1368.2 L609.6,1346.8 Q611.8,1343.6 615.3,1342.2 L616.4,1341.8 Q619.9,1340.4 623.3,1342.2 L890.6,1490.4 Q893.9,1492.2 895.1,1495.8 L895.5,1496.8 Q896.7,1500.4 893.4,1502.4 L855.8,1526.3" stroke-width="1.65"/>
<path d="M602.2,1365.4 L614.5,1353.1 Q617.2,1350.4 620.9,1349.6 L621.7,1349.4 Q625.4,1348.5 628.7,1350.4 L881.7,1490.9" stroke-width="1.32"/>
<path d="M626.7,1340.9 L892.6,1488.1" stroke-width="1.21"/>
<path d="M855.8,1526.3 L849,1518.1" stroke-width="1.65"/>
<path d="M446.8,1546.7 C456.6,1538.1 485.2,1512.6 505.4,1494.9 C525.6,1477.2 554,1452.2 568.1,1440.4 C582.2,1428.6 576.3,1430.5 589.9,1424.1 C603.5,1417.7 639.9,1405.8 649.9,1402.2" stroke-width="1.65"/>
<path d="M452.3,1556.3 C462.1,1547.4 491.1,1521 510.9,1503.1 C530.7,1485.1 556.4,1461.1 570.9,1448.6 C585.4,1436.1 586.3,1434.7 598.1,1428.1 C609.9,1421.5 634.4,1412.3 641.7,1409.1" stroke-width="1.65"/>
<path d="M446.8,1546.7 L452.3,1556.3 L557.2,1617.6 L570.9,1620.4" stroke-width="1.65"/>
<path d="M557.2,1617.6 C566.3,1610.6 586.8,1592 611.8,1575.4 C636.8,1558.8 677.7,1533.1 707.2,1518.1 C736.7,1503.1 775.4,1490.9 789,1485.4" stroke-width="1.65"/>
<path d="M570.9,1620.4 C579.1,1614.3 596.3,1599 619.9,1583.6 C643.5,1568.1 683.5,1543.2 712.6,1527.7 C741.7,1512.2 780.8,1497 794.4,1490.9" stroke-width="1.65"/>
<path d="M576.3,1616.3 C584.5,1611.8 599,1603.1 625.4,1589 C651.8,1574.9 702.6,1546.1 734.4,1531.8 C766.2,1517.5 802.6,1507.9 816.2,1503.1" stroke-width="1.32"/>
<path d="M570.9,1435 L649.9,1402.2" stroke-width="1.32"/>
<path d="M574.9,1433.6 L589.9,1422.7" stroke-width="1.32"/>
<path d="M570.9,1371.4 C566.4,1374.5 556.3,1381.9 543.6,1390 C530.9,1398.1 511.3,1407.7 494.5,1420 C477.7,1432.3 455.9,1451.8 442.7,1463.6 C429.5,1475.4 421.1,1483.2 415.4,1490.9 C409.7,1498.6 408.8,1502.6 408.6,1509.9 C408.4,1517.2 409.8,1526.3 414.1,1534.5 C418.4,1542.7 422,1548.1 434.5,1559 C447,1569.9 470.9,1588.1 489.1,1599.9 C507.3,1611.7 525.4,1623.3 543.6,1629.9 C561.8,1636.5 579.9,1638.5 598.1,1639.4 C616.3,1640.3 634.4,1638.4 652.6,1635.4 C670.8,1632.5 689,1627.6 707.2,1621.7 C725.4,1615.8 739,1609.9 761.7,1599.9 C784.4,1589.9 820.8,1572.2 843.5,1561.7 C866.2,1551.2 884.8,1543.6 898,1537.2 C911.2,1530.8 918.5,1525.9 922.6,1523.6" stroke-width="1.65"/>
<path d="M562.7,1379.1 C559.5,1381.8 554.5,1387.2 543.6,1395.4 C532.7,1403.6 512.6,1415.8 497.2,1428.1 C481.8,1440.4 462.7,1458.1 450.9,1469 C439.1,1479.9 432.1,1485.9 426.4,1493.6 C420.7,1501.3 417.3,1508.1 416.8,1515.4 C416.3,1522.7 418.8,1529.9 423.6,1537.2 C428.4,1544.5 433.6,1549.5 445.4,1559 C457.2,1568.5 477.2,1583.8 494.5,1594.5 C511.8,1605.2 531.7,1616.8 549,1623.1 C566.3,1629.4 580.8,1631.7 598.1,1632.6 C615.4,1633.5 634.4,1631.7 652.6,1628.5 C670.8,1625.3 689,1619.4 707.2,1613.5 C725.4,1607.6 739,1602.9 761.7,1593.1 C784.4,1583.3 823,1564.7 843.5,1554.9 C864,1545.1 877.6,1537.9 884.4,1534.5" stroke-width="1.32"/>
<path d="M549,1400.9 C541.3,1406.8 517.2,1425 502.7,1436.3 C488.2,1447.6 472,1459.9 461.8,1469 C451.6,1478.1 445.2,1484.5 441.3,1490.9 C437.4,1497.3 437.5,1501.3 438.6,1507.2 C439.8,1513.1 446.6,1523.1 448.2,1526.3" stroke-width="1.21"/>
<path d="M598.1,1616.3 C607.2,1615.8 634.4,1615.8 652.6,1613.5 C670.8,1611.2 684.5,1609.9 707.2,1602.6 C729.9,1595.3 764,1580.8 789,1569.9 C814,1559 845.8,1542.7 857.1,1537.2" stroke-width="1.21"/>
<path d="M614.5,1605.4 C620.9,1605.6 639.4,1606.5 652.6,1606.7 C665.8,1606.9 686.7,1606.7 693.5,1606.7" stroke-width="1.21"/>
<path d="M457.4,1478.2 Q456.3,1474.5 459.3,1472.1 L518.8,1422.4 Q521.8,1420 525.5,1419 L529,1418.2 Q532.7,1417.2 536.1,1418.8 L564.7,1432 Q568.1,1433.6 569.5,1436.6 L569.5,1436.6 Q570.9,1439.6 567.7,1441.8 L481.3,1501 Q478.2,1503.1 474.5,1502.1 L466.8,1500 Q463.2,1499 462.1,1495.4 Z" stroke-width="1.98"/>
<path d="M462.6,1477.7 Q461.8,1474.5 464.3,1472.5 L520.6,1427.5 Q523.1,1425.4 526.3,1424.5 L529.5,1423.6 Q532.7,1422.7 535.6,1424.1 L558.4,1434.9 Q561.3,1436.3 558.6,1438.2 L478.1,1494.4 Q475.4,1496.3 472.3,1495.5 L469.9,1494.9 Q466.7,1494.1 465.9,1491 Z" stroke-width="1.21"/>
<path d="M494.5,1420 L543.6,1396.8" stroke-width="1.21"/>
<ellipse cx="509.5" cy="1464.4" rx="2.18" ry="1.91" stroke-width="1.54"/>
<path d="M635.1,1595.6 Q632.2,1593.1 635.5,1591.3 L728.4,1540.4 Q731.7,1538.6 735.4,1537.6 L738.9,1536.8 Q742.6,1535.8 746,1537.5 L769.2,1549.1 Q772.6,1550.8 775.1,1553.7 L776.1,1554.8 Q778.6,1557.7 775.3,1559.6 L696.9,1604.8 Q693.5,1606.7 689.7,1606.4 L646.9,1602.9 Q643.1,1602.6 640.2,1600.1 Z" stroke-width="1.98"/>
<path d="M641.7,1595.8 Q639,1593.9 641.9,1592.4 L730.2,1545.6 Q733.1,1544 736.2,1543.1 L739.5,1542.2 Q742.6,1541.3 745.5,1542.8 L767,1553.5 Q769.9,1554.9 767.1,1556.6 L693.6,1599.6 Q690.8,1601.3 687.6,1601.1 L649.1,1598.7 Q645.8,1598.5 643.1,1596.7 Z" stroke-width="1.21"/>
<path d="M731.7,1533.1 L789,1507.2" stroke-width="1.21"/>
<ellipse cx="709.9" cy="1580.3" rx="2.18" ry="1.91" stroke-width="1.54"/>
<path d="M566.7,1393.7 Q565.4,1391.3 567.8,1390 L584.8,1380.4 Q587.2,1379.1 588.8,1376.9 L593.8,1370.3 Q595.4,1368.2 597.8,1369.4 L617.5,1379.2 Q619.9,1380.4 619.4,1383.1 L619.1,1384.6 Q618.6,1387.2 616.2,1388.6 L589.6,1403.6 Q587.2,1405 584.5,1404.4 L573.5,1402 Q570.9,1401.4 569.6,1399 Z" stroke-width="1.98"/>
<path d="M570.9,1393.7 Q569.5,1391.3 572,1390.3 L586.1,1384.2 Q588.6,1383.2 591.3,1383.2 L607.7,1383.2 Q610.4,1383.2 608.2,1384.7 L589.4,1397.9 Q587.2,1399.5 584.5,1399.2 L576.3,1398.4 Q573.6,1398.2 572.2,1395.8 Z" stroke-width="1.32"/>
<path d="M557.2,1390 L581.8,1371.4" stroke-width="1.21"/>
<path d="M795.5,1522 Q794.4,1519.5 796.9,1518.3 L813.8,1509.8 Q816.2,1508.6 818.2,1506.6 L822.5,1502.3 Q824.4,1500.4 826.8,1501.7 L846.6,1512.7 Q849,1514 849,1516.8 L849,1516.8 Q849,1519.5 846.5,1520.7 L818.7,1534.6 Q816.2,1535.8 813.6,1535.2 L802.5,1532.4 Q799.9,1531.8 798.8,1529.3 Z" stroke-width="1.98"/>
<path d="M799.7,1523.3 Q798.5,1520.8 801.1,1519.9 L815,1514.9 Q817.6,1514 820.3,1514.5 L838.1,1517.6 Q840.8,1518.1 838.4,1519.4 L818.6,1529.9 Q816.2,1531.2 813.5,1530.8 L805.3,1529.5 Q802.6,1529 801.4,1526.6 Z" stroke-width="1.32"/>
<path d="M783.5,1520.8 L812.1,1503.1" stroke-width="1.21"/>
<ellipse cx="884.9" cy="1534.5" rx="2.18" ry="1.91" stroke-width="1.54"/>
<path d="M855.8,1526.3 C860.6,1529.5 876.4,1537.7 884.4,1545.4 C892.4,1553.1 898.5,1564 903.5,1572.6 C908.5,1581.2 912.6,1593.1 914.4,1597.2" stroke-width="1.65"/>
<path d="M862.6,1522.2 C867.6,1525.6 884.4,1534.8 892.6,1542.7 C900.8,1550.7 906.9,1561.5 911.7,1569.9 C916.5,1578.3 919.6,1589.2 921.2,1593.1" stroke-width="1.32"/>
<path d="M896.7,1500.4 C903.7,1503.4 927.3,1512.4 938.9,1518.1 C950.5,1523.8 959.4,1527.2 966.2,1534.5 C973,1541.8 977.5,1557.2 979.8,1561.7" stroke-width="1.32"/>
<path d="M922.6,1523.6 C927.6,1526.3 944.9,1533.6 952.6,1539.9 C960.3,1546.2 966.2,1558.1 968.9,1561.7" stroke-width="1.21"/>
<path d="M715.4,1700 L914.4,1596.6 L983.9,1563.1" stroke-width="2.2"/>
<path d="M724.9,1700 L915.8,1601.3" stroke-width="1.32"/>
<path d="M589.9,1300 L963.5,1509.9" stroke-width="1.98"/>
<path d="M598.1,1300 L958,1503.1" stroke-width="1.32"/>
<path d="M310.9,1552.8 C312.2,1548 312.2,1546.5 314.2,1544 C316.2,1541.5 319.7,1538.8 323,1537.8 C326.3,1536.8 328.5,1535.8 334,1537.8 C339.5,1539.8 345,1543.3 356,1549.5 C367,1555.7 385.2,1566 399.9,1574.8 C414.5,1583.6 429.2,1593 443.9,1602.2 C458.6,1611.4 473.2,1620.5 487.9,1629.7 C502.6,1638.9 517.2,1648.4 531.9,1657.2 C546.5,1666 564.1,1675.9 575.8,1682.5 C587.5,1689.1 595.2,1692.4 602.2,1696.8 C609.2,1701.2 613.6,1704.7 617.6,1708.9 C621.6,1713.1 624.4,1717.7 626.4,1722.1 C628.4,1726.5 629.7,1730.9 629.7,1735.3 C629.7,1739.7 628,1743 626.4,1748.5 C624.8,1754 622.7,1761.6 619.8,1768.2 C616.9,1774.8 612.5,1781.8 608.8,1788 C605.1,1794.2 600.7,1801.6 597.8,1805.6 C594.9,1809.6 593.8,1810.7 591.2,1812.2 C588.6,1813.8 586.8,1815.3 582.4,1814.9 C578,1814.5 576.9,1815.2 564.8,1810 C552.7,1804.8 526.4,1792 509.9,1783.6 C493.4,1775.2 480.6,1767.9 465.9,1759.5 C451.2,1751.1 436.5,1741.9 421.9,1733.1 C407.2,1724.3 390.8,1714.4 378,1706.7 C365.2,1699 353.4,1692.8 345,1686.9 C336.6,1681 331.8,1677 327.4,1671.5 C323,1666 321.2,1661.2 318.6,1653.9 C316,1646.6 313.8,1636.7 312,1627.5 C310.2,1618.3 308.5,1608.1 307.6,1598.9 C306.7,1589.8 305.9,1580.3 306.5,1572.6 C307.1,1564.9 309.6,1557.6 310.9,1552.8Z" stroke-width="2.64" fill="#fff"/>
<path d="M314.2,1557.2 C315.5,1553 316.2,1551.2 318.6,1549.5 C321,1547.8 322.3,1545.6 328.5,1547.3 C334.7,1549 344.1,1553.2 356,1559.4 C367.9,1565.6 385.2,1576.1 399.9,1584.7 C414.5,1593.3 429.2,1602 443.9,1611 C458.6,1620 473.2,1629.5 487.9,1638.5 C502.6,1647.5 517.2,1656.1 531.9,1664.9 C546.5,1673.7 563.7,1684.2 575.8,1691.3 C587.9,1698.4 597.4,1703 604.4,1707.8 C611.4,1712.6 614.7,1715.7 617.6,1719.9 C620.5,1724.1 621.8,1728 622,1733.1 C622.2,1738.2 620.5,1744.5 618.7,1750.7 C616.9,1756.9 614.1,1763.8 611,1770.4 C607.9,1777 603.3,1784.5 600,1790.2 C596.7,1795.9 594,1801.6 591.2,1804.5 C588.5,1807.4 587.9,1808.2 583.5,1807.8 C579.1,1807.4 577.1,1807.6 564.8,1802.3 C552.5,1797 526.4,1784.3 509.9,1775.9 C493.4,1767.5 480.6,1760.2 465.9,1751.8 C451.2,1743.4 436.5,1734.2 421.9,1725.4 C407.2,1716.6 390.4,1706.5 378,1699 C365.6,1691.5 355.1,1685.8 347.2,1680.3 C339.3,1674.8 334.7,1670.8 330.7,1666 C326.7,1661.2 325.4,1658.1 323,1651.7 C320.6,1645.3 318.2,1636.3 316.4,1627.5 C314.6,1618.7 312.9,1607.7 312,1598.9 C311.1,1590.1 310.5,1581.8 310.9,1574.8 C311.3,1567.8 312.9,1561.4 314.2,1557.2Z" stroke-width="1.76"/>
<path d="M317.5,1560.5 C318.2,1559.4 319.9,1555.3 321.9,1553.9 C323.9,1552.5 323.9,1550.7 329.6,1552.3 C335.3,1553.9 344.3,1557.7 356,1563.8 C367.7,1569.9 385.2,1580.5 399.9,1589.1 C414.5,1597.7 429.2,1606.4 443.9,1615.4 C458.6,1624.4 473.2,1633.9 487.9,1642.9 C502.6,1651.9 517.2,1660.5 531.9,1669.3 C546.5,1678.1 568.5,1691.3 575.8,1695.7" stroke-width="1.21"/>
<path d="M320.8,1536.3 C323,1535.8 328.1,1531.9 334,1533 C339.9,1534.1 345,1537 356,1542.9 C367,1548.8 385.2,1559.6 399.9,1568.2 C414.5,1576.8 429.2,1585.5 443.9,1594.5 C458.6,1603.5 473.2,1612.8 487.9,1622 C502.6,1631.2 517.2,1640.5 531.9,1649.5 C546.5,1658.5 563.3,1668.8 575.8,1675.9 C588.2,1683.1 598.5,1686.9 606.6,1692.4 C614.7,1697.9 619.8,1703.2 624.2,1708.9 C628.6,1714.6 631,1722.7 633,1726.5 C635,1730.3 635.8,1731.1 636.3,1732" stroke-width="1.98"/>
<path d="M310.9,1552.8 C311.6,1550.6 313.6,1542.3 315.3,1539.6 C317,1536.8 319.9,1536.8 320.8,1536.3" stroke-width="1.98"/>
<path d="M360.8 1596.7 Q367 1579.2 383.4 1594.5 L376.4 1673.7 Q374.7 1686.9 368.1 1684.3 L359.3 1676.6 Q352.7 1673.7 353.8 1663.8 Z" stroke-width="2.42"/>
<path d="M363.4 1597.8 Q368.5 1583.6 381.2 1596.3 L374 1673.7 Q372.9 1683.8 367.6 1681.6 L360.4 1674.4 Q355.1 1671.7 356.2 1663.8 Z" stroke-width="1.32"/>
<path d="M388.3 1613.2 Q394.4 1595.6 410.9 1613.2 L402.8 1691.3 Q401 1704.5 394.4 1701.8 L385.6 1694.2 Q379.1 1691.3 380.1 1681.4 Z" stroke-width="2.42"/>
<path d="M390.9 1614.3 Q396 1600 408.7 1615 L400.4 1691.3 Q399.3 1701.4 394 1699.2 L386.7 1692 Q381.5 1689.3 382.6 1681.4 Z" stroke-width="1.32"/>
<path d="M416.9 1629.7 Q423 1612.1 439.5 1630.8 L431.4 1707.8 Q429.6 1721 423 1718.3 L414.2 1710.6 Q407.6 1707.8 408.7 1697.9 Z" stroke-width="2.42"/>
<path d="M419.5 1630.8 Q424.6 1616.5 437.3 1632.6 L429 1707.8 Q427.9 1717.9 422.6 1715.7 L415.3 1708.4 Q410.1 1705.8 411.2 1697.9 Z" stroke-width="1.32"/>
<path d="M444.4 1646.2 Q450.5 1628.6 468.1 1648.4 L460 1724.3 Q458.2 1737.5 451.6 1734.8 L442.4 1727.1 Q435.8 1724.3 436.9 1714.4 Z" stroke-width="2.42"/>
<path d="M447 1647.3 Q452 1633 465.9 1650.2 L457.5 1724.3 Q456.4 1734.4 451.2 1732.2 L443.5 1724.9 Q438.2 1722.3 439.3 1714.4 Z" stroke-width="1.32"/>
<path d="M472.9 1662.7 Q479.1 1645.1 496.7 1664.9 L488.5 1740.8 Q486.8 1754 480.2 1751.3 L470.3 1743.6 Q463.7 1740.8 464.8 1730.9 Z" stroke-width="2.42"/>
<path d="M475.6 1663.8 Q480.6 1649.5 494.5 1666.7 L486.1 1740.8 Q485 1750.9 479.8 1748.7 L471.4 1741.4 Q466.1 1738.8 467.2 1730.9 Z" stroke-width="1.32"/>
<path d="M501.5 1679.2 Q507.7 1661.6 527.5 1682.5 L519.3 1756.2 Q517.6 1769.3 511 1766.7 L498.9 1760.1 Q492.3 1757.3 493.4 1747.4 Z" stroke-width="2.42"/>
<path d="M504.2 1680.3 Q509.2 1666 525.3 1684.3 L516.9 1756.2 Q515.8 1766.3 510.5 1764.1 L500 1757.9 Q494.7 1755.3 495.8 1747.4 Z" stroke-width="1.32"/>
<path d="M531.2 1695.7 Q537.4 1678.1 557.2 1699 L549 1772.6 Q547.3 1785.8 540.7 1783.2 L528.6 1775.5 Q522 1772.6 523.1 1762.8 Z" stroke-width="2.42"/>
<path d="M533.8 1696.8 Q538.9 1682.5 555 1700.7 L546.6 1772.6 Q545.5 1782.8 540.2 1780.6 L529.7 1773.3 Q524.4 1770.7 525.5 1762.8 Z" stroke-width="1.32"/>
<ellipse cx="338.8" cy="1598.5" rx="17.15" ry="36.94" stroke-width="2.2" transform="rotate(-8 338.8 1598.5)"/>
<path d="M319.7,1563.8 C318.9,1567.1 315.5,1575.9 314.6,1583.6 C313.8,1591.3 313.8,1601.9 314.6,1609.9 C315.5,1618 318.9,1628.2 319.7,1631.9" stroke-width="1.54"/>
<ellipse cx="583.5" cy="1741.9" rx="35.18" ry="37.82" stroke-width="1.98" transform="rotate(-15 583.5 1741.9)"/>
<ellipse cx="590.1" cy="1737.5" rx="23.09" ry="31.22" stroke-width="2.2" transform="rotate(-22 590.1 1737.5)"/>
<path d="M328.5,1675.9 L404.3,1726.5" stroke-width="1.32"/>
<path d="M351.6,1693.5 L404.3,1728.7" stroke-width="1.32"/>
<path d="M583.5,1814.9 C586.6,1815.2 596.9,1817.8 602.2,1816.6 C607.5,1815.4 610.3,1813.3 615.4,1807.8 C620.5,1802.3 627.9,1792 633,1783.6 C638.1,1775.2 642.7,1763.1 646.2,1757.3 C649.7,1751.5 651,1750.5 653.9,1748.5 C656.8,1746.5 662.1,1745.8 663.8,1745.2" stroke-width="2.2"/>
<path d="M636.8,1709.9 Q636.3,1707.8 638.3,1706.9 L651.9,1701 Q653.9,1700.1 654.8,1702.1 L660.7,1715.7 Q661.6,1717.7 662.7,1719.6 L668.2,1729 Q669.3,1730.9 667.3,1731.7 L646,1741 Q644,1741.9 643.5,1739.7 Z" stroke-width="1.98"/>
<path d="M639.8,1711.7 Q639.6,1710 641.2,1709.3 L651.2,1705.2 Q652.8,1704.5 653.5,1706.1 L658.7,1718.3 Q659.4,1719.9 657.8,1720.6 L643.4,1726.9 Q641.8,1727.6 641.6,1725.8 Z" stroke-width="1.32"/>
<ellipse cx="649.7" cy="1717.7" rx="2.42" ry="2.42" stroke-width="1.76"/>
<path d="M629.7,1735.7 L641.8,1733.1" stroke-width="1.76"/>
<text x="315.9" y="1800.1" textLength="121.4" lengthAdjust="spacingAndGlyphs">AXI230020</text>
<text x="358.6" y="1830.4" textLength="86.4" lengthAdjust="spacingAndGlyphs">AXA013</text>
<path class="ld" d="M324.7,1824.3 L351.6,1824.3"/>
<path class="ld" d="M294.4,1808.9 L307.6,1798.6"/>
<g transform="translate(319.7 1819.9) rotate(148.9)"><rect x="0" y="-3.5" width="18" height="7" rx="2.5" fill="#111" stroke="none"/><rect x="-4.2" y="-4.8" width="5.4" height="9.6" rx="2" fill="#fff" stroke="#111" stroke-width="2"/></g>
<ellipse cx="692.8" cy="1768.7" rx="9.23" ry="9.23" stroke-width="2.2" fill="#fff"/>
<ellipse cx="692.8" cy="1768.7" rx="3.69" ry="4.62" stroke-width="2.2"/>
<path class="ld" d="M686.9,1775.9 L642.9,1829.8"/>
<path d="M380,1473.3 C374.8,1478 358.5,1492 349,1501.3 C339.5,1510.6 328.9,1522.1 323.1,1529.3 C317.4,1536.5 315.9,1541.9 314.5,1544.4" stroke-width="2.2"/>
<path d="M684.3,1124.6 C677,1135.9 654.2,1169.7 640.3,1192.2 C626.4,1214.8 610.5,1243.6 601.1,1259.9 C591.7,1276.2 588.6,1281.1 583.9,1290.1 C579.2,1299.1 576,1307.3 573.1,1313.8 C570.2,1320.3 567.7,1326.4 566.6,1328.9" stroke-width="2.42"/>
<path d="M667.1,1161.7 Q671.4,1155.2 678.3,1158.7 L1002.4,1326.6 Q1009.3,1330.2 1011.3,1337.7 L1011.6,1338.6 Q1013.6,1346.1 1011.7,1353.6 L983.6,1463.6 Q981.7,1471.1 976.8,1477.1 L973.7,1481 Q968.8,1487.1 961.2,1485.3 L957.8,1484.5 Q950.3,1482.8 943.6,1478.9 L622.1,1291.8 Q615.3,1287.9 609.9,1282.4 L607.9,1280.5 Q602.4,1275 603.2,1267.3 L603.4,1265.5 Q604.1,1257.8 608.4,1251.3 Z" stroke-width="2.42"/>
<path d="M659.9,1155.9 Q664.9,1147.8 673.4,1152.1 L1006.4,1320.3 Q1014.9,1324.6 1017.5,1333.7 L1017.9,1334.9 Q1020.5,1344 1018.2,1353.2 L990.1,1466.2 Q987.8,1475.4 981.6,1482.6 L978,1486.8 Q971.8,1494 962.5,1492.3 L956.6,1491.3 Q947.2,1489.7 939,1484.9 L617.9,1299.1 Q609.7,1294.4 603.4,1287.3 L601.8,1285.5 Q595.5,1278.4 596.6,1269 L597,1265 Q598.1,1255.6 603.1,1247.5 Z" stroke-width="1.54"/>
<path d="M678.7,1137.1 L1030,1324.6" stroke-width="1.43"/>
<path d="M583.9,1290.1 L986.9,1509.9" stroke-width="1.76"/>
<path d="M1046.4,1337.1 C1044,1341.8 1037.2,1351.4 1031.7,1365.5 C1026.2,1379.6 1019.5,1402.2 1013.6,1421.6 C1007.7,1441 1001,1464 996.4,1481.9 C991.8,1499.9 988,1515.7 986,1529.3 C984,1542.9 984.4,1548 984.7,1563.8 C985,1579.6 986.9,1604.7 987.8,1624.1 C988.7,1643.5 988.8,1668.1 989.9,1680.2 C991,1692.3 991,1692.6 994.2,1696.6 C997.4,1700.5 1006.8,1702.7 1009.3,1703.9" stroke-width="2.42"/>
<path d="M1035.2,1352.6 C1032.7,1359.8 1025.5,1378.5 1020.1,1395.7 C1014.7,1412.9 1007.6,1437.3 1002.8,1456 C998,1474.7 993.1,1499.2 991.2,1507.8" stroke-width="1.54"/>
<path d="M986.9,1509.9 C987.3,1514.6 989.1,1528.9 989.1,1537.9 C989.1,1546.9 987.3,1559.5 986.9,1563.8" stroke-width="1.76"/>
<path d="M1042.3,1351.5 Q1045.9,1344 1056.1,1339.2 L1178,1281.9 Q1188.2,1277.2 1195.3,1285.8 L1195.3,1285.8 Q1202.4,1294.4 1202.8,1305.6 L1205.5,1380.2 Q1205.9,1391.4 1201.9,1401.8 L1200.8,1404.6 Q1196.8,1415.1 1186.9,1420.3 L1062.3,1485.3 Q1052.4,1490.5 1041.2,1490.8 L1030,1491.1 Q1018.8,1491.4 1014.1,1484.5 L1014.1,1484.5 Q1009.3,1477.6 1012,1466.7 L1035.9,1369.9 Q1038.6,1359.1 1042.3,1351.5 Z" stroke-width="2.42"/>
<path d="M1047.7,1363.4 Q1050.7,1353.4 1059.9,1348.7 L1173.4,1289.3 Q1182.6,1284.5 1189.3,1292.2 L1189.3,1292.2 Q1195.9,1300 1196.3,1310.3 L1198.6,1378.9 Q1199,1389.2 1193.7,1398.1 L1187,1409.2 Q1181.7,1418.1 1172.5,1422.7 L1063.8,1477.3 Q1054.6,1481.9 1044.2,1482.2 L1034.7,1482.5 Q1024.4,1482.8 1019.9,1476.9 L1019.9,1476.9 Q1015.3,1471.1 1018.3,1461.2 Z" stroke-width="1.54"/>
<path d="M1192.9,1292.2 L1195.5,1374.1" stroke-width="3.3" stroke="#555"/>
<path d="M1236.6,1268.1 Q1235.6,1257.8 1237.1,1249.6 L1237.1,1249.6 Q1238.6,1241.4 1247.7,1236.4 L1366.6,1171.3 Q1375.7,1166.4 1383.9,1169 L1383.9,1169 Q1392.1,1171.6 1395.6,1181.3 L1396.3,1183.4 Q1399.8,1193.1 1400.1,1203.4 L1402.1,1269 Q1402.4,1279.3 1397.6,1288.5 L1395.5,1292.5 Q1390.8,1301.7 1381.9,1307 L1276.8,1369.7 Q1267.9,1375 1260.4,1375.9 L1260.4,1375.9 Q1252.8,1376.7 1249.2,1369 L1249.2,1369 Q1245.5,1361.2 1244.5,1350.9 Z" stroke-width="2.42"/>
<path d="M1242.9,1269.4 Q1242.1,1259.9 1243.4,1253.4 L1243.4,1253.4 Q1244.7,1247 1253,1242.4 L1367.4,1179.6 Q1375.7,1175 1381.7,1177.2 L1381.7,1177.2 Q1387.8,1179.3 1390.8,1187.3 L1390.8,1187.3 Q1393.8,1195.3 1394,1204.7 L1395.3,1267.7 Q1395.5,1277.2 1391.4,1285.7 L1390.6,1287.2 Q1386.5,1295.7 1378.3,1300.6 L1275.2,1362.8 Q1267.1,1367.7 1261.5,1368.3 L1261.5,1368.3 Q1255.9,1369 1253.3,1362.9 L1253.3,1362.9 Q1250.7,1356.9 1249.9,1347.5 Z" stroke-width="1.54"/>
<path d="M1205.4,1250 C1207.2,1263.5 1213,1304.6 1216.2,1331 C1219.4,1357.4 1222.5,1384.2 1224.8,1408.6 C1227.1,1433 1229.6,1456 1230,1477.6 C1230.4,1499.1 1230,1521 1227,1537.9 C1224,1554.8 1219.5,1567.4 1211.9,1578.9 C1204.4,1590.4 1186.7,1602.2 1181.7,1606.9" stroke-width="2.42"/>
<path d="M1214.1,1245.7 C1215.9,1259.9 1221.6,1303.8 1224.8,1331 C1228,1358.2 1231.1,1382.7 1233.4,1408.6 C1235.7,1434.5 1237.7,1461.8 1238.6,1486.2 C1239.5,1510.6 1237.3,1541.2 1238.6,1555.2 C1239.9,1569.2 1243,1568.2 1246.4,1570.3 C1249.9,1572.4 1257.2,1568.5 1259.3,1568.1" stroke-width="2.42"/>
<path d="M1220.5,1242.7 C1222.1,1256 1227.3,1297.6 1230,1322.4 C1232.7,1347.2 1235.8,1379.9 1236.9,1391.4" stroke-width="1.43"/>
<path d="M1028.7,1522.8 L1224.8,1428" stroke-width="1.54"/>
<path d="M1017.9,1529.3 L1028.7,1522.8" stroke-width="1.54"/>
<path d="M1030.9,1533.6 L1225.7,1437.9" stroke-width="1.32"/>
<path d="M1238.6,1419.4 L1420.9,1310.3 L1469.7,1275.9" stroke-width="1.54"/>
<path d="M1238.6,1430.2 L1422.2,1320.7 L1471.4,1286.2" stroke-width="1.32"/>
<path d="M1009.3,1703.9 C1023.7,1696 1066.8,1672.7 1095.5,1656.5 C1124.2,1640.3 1167.3,1615.2 1181.7,1606.9" stroke-width="2.42"/>
<path d="M1259.3,1568.1 C1267.9,1563.4 1295.9,1548.7 1311,1540.1 C1326.1,1531.5 1340.1,1524.3 1349.8,1516.4 C1359.5,1508.5 1362.7,1503.5 1369.2,1492.7 C1375.7,1481.9 1381.8,1468.6 1388.6,1451.7 C1395.4,1434.8 1404.3,1410.8 1410.2,1391.4 C1416.1,1372 1422,1347.9 1424,1335.3 C1426,1322.7 1422.5,1319.1 1422.2,1315.9" stroke-width="2.42"/>
<path d="M1395.1,1150 C1397.2,1160.8 1404,1191 1408,1214.7 C1412,1238.4 1416.4,1275.3 1418.8,1292.2 C1421.2,1309.1 1421.6,1312 1422.2,1315.9" stroke-width="2.2"/>
<path d="M1408,1150 C1409.7,1160 1414.8,1188.8 1417.9,1210.3 C1421,1231.8 1425.1,1267.8 1426.6,1279.3" stroke-width="1.43"/>
<path d="M1440.3,1150 C1442.5,1160.8 1450.1,1196.4 1453.3,1214.7 C1456.5,1233 1457,1250.9 1459.7,1259.9 C1462.4,1268.9 1468,1267.1 1469.7,1268.5" stroke-width="1.76"/>
<path d="M1448.1,1150 L1462.8,1253.4" stroke-width="3.85" stroke="#666"/>
<path d="M1455.4,1124.1 C1457.2,1137 1463.1,1176.5 1466.2,1201.7 C1469.3,1226.9 1472.1,1253.5 1474,1275 C1475.9,1296.5 1479.8,1311.6 1477.4,1331 C1475,1350.4 1465.9,1372.7 1459.7,1391.4 C1453.5,1410.1 1444.6,1432.3 1440.3,1443.1 C1436,1453.9 1437.5,1449.2 1433.9,1456 C1430.3,1462.8 1421.3,1479.4 1418.8,1484.1" stroke-width="2.42"/>
<path d="M1469.7,1279.3 C1469.8,1287.9 1473.2,1312.3 1470.5,1331 C1467.8,1349.7 1459.4,1372 1453.3,1391.4 C1447.2,1410.8 1437.1,1438.1 1433.9,1447.4" stroke-width="1.43"/>
<ellipse cx="1433.4" cy="1456" rx="2.16" ry="3.45" stroke-width="1.76" transform="rotate(20 1433.4 1456)"/>
<path d="M972.7,1727.6 L1418.8,1483.2" stroke-width="2.42"/>
<path d="M987.8,1710.3 L1354.1,1511.2" stroke-width="1.32"/>
<path d="M1170.1,1475.4 Q1169.7,1471.1 1171.9,1467.4 L1175.2,1461.9 Q1177.4,1458.2 1181.6,1457 L1192.7,1453.8 Q1196.8,1452.6 1199.2,1456.2 L1200.1,1457.6 Q1202.4,1461.2 1201.7,1465.5 L1200.5,1473.3 Q1199.8,1477.6 1196,1479.6 L1183.4,1486.3 Q1179.6,1488.4 1175.7,1486.4 L1174.8,1486 Q1170.9,1484.1 1170.5,1479.8 Z" stroke-width="2.2"/>
<path d="M1176.6,1475.4 Q1174.8,1472.4 1176.5,1469.4 L1178.3,1466 Q1180,1462.9 1183.3,1462 L1191.3,1459.6 Q1194.7,1458.6 1195.9,1461.6 L1195.9,1461.6 Q1197.2,1464.7 1196.7,1468.1 L1196.1,1472 Q1195.5,1475.4 1192.4,1477 L1183.9,1481.2 Q1180.9,1482.8 1179.1,1479.8 Z" stroke-width="1.32"/>
<ellipse cx="1211" cy="1457.8" rx="2.16" ry="2.59" stroke-width="1.65"/>
<ellipse cx="1162.3" cy="1485.3" rx="2.16" ry="2.59" stroke-width="1.65"/>
<path d="M1353.3,1374.1 Q1352.8,1369.8 1355.1,1366.1 L1358.4,1360.6 Q1360.6,1356.9 1364.7,1355.7 L1375.9,1352.5 Q1380,1351.3 1382.2,1355 L1383,1356.2 Q1385.2,1359.9 1384.6,1364.2 L1383.6,1372 Q1383,1376.3 1379.2,1378.3 L1366.6,1385 Q1362.8,1387.1 1358.9,1385.1 L1358,1384.7 Q1354.1,1382.8 1353.7,1378.5 Z" stroke-width="2.2"/>
<path d="M1359.8,1374.1 Q1358,1371.1 1359.7,1368.1 L1361.5,1364.7 Q1363.2,1361.6 1366.5,1360.7 L1374.5,1358.3 Q1377.8,1357.3 1379.1,1360.3 L1379.1,1360.3 Q1380.4,1363.4 1379.9,1366.8 L1379.3,1370.7 Q1378.7,1374.1 1375.6,1375.7 L1367.1,1379.9 Q1364.1,1381.5 1362.3,1378.5 Z" stroke-width="1.32"/>
<ellipse cx="1393.8" cy="1356" rx="2.16" ry="2.59" stroke-width="1.65"/>
<ellipse cx="1344.7" cy="1384.1" rx="2.16" ry="2.59" stroke-width="1.65"/>
<path d="M989.9,1569.4 L999.4,1568.4 Q1002,1568.1 1003.1,1565.8 L1006,1560.1 Q1007.2,1557.8 1009.6,1557 L1024.1,1552.9 Q1026.6,1552.2 1027.6,1554.5 L1028.5,1556.3 Q1029.6,1558.6 1029.3,1561.2 L1028.1,1571.1 Q1027.8,1573.7 1025.5,1574.8 L1009.5,1582.5 Q1007.2,1583.6 1006,1585.9 L1003.1,1591.7 Q1002,1594 999.4,1594 L989.9,1594" stroke-width="1.98"/>
<path d="M1009.3,1562.1 L1027.8,1556.5" stroke-width="1.32"/>
<path d="M989.9,1650 L999.4,1649 Q1002,1648.7 1003.1,1646.4 L1006,1640.7 Q1007.2,1638.4 1009.6,1637.6 L1024.1,1633.5 Q1026.6,1632.8 1027.6,1635.1 L1028.5,1636.9 Q1029.6,1639.2 1029.3,1641.8 L1028.1,1651.7 Q1027.8,1654.3 1025.5,1655.4 L1009.5,1663.1 Q1007.2,1664.2 1006,1666.5 L1003.1,1672.3 Q1002,1674.6 999.4,1674.6 L989.9,1674.6" stroke-width="1.98"/>
<path d="M1009.3,1642.7 L1027.8,1637.1" stroke-width="1.32"/>
<path d="M1237.8,1436.6 L1247.3,1435.6 Q1249.8,1435.3 1251,1433 L1253.8,1427.3 Q1255,1425 1257.5,1424.3 L1271.9,1420.1 Q1274.4,1419.4 1275.5,1421.7 L1276.3,1423.5 Q1277.4,1425.9 1277.1,1428.4 L1276,1438.4 Q1275.7,1440.9 1273.4,1442.1 L1257.3,1449.7 Q1255,1450.9 1253.8,1453.2 L1251,1458.9 Q1249.8,1461.2 1247.2,1461.2 L1237.8,1461.2" stroke-width="1.98"/>
<path d="M1257.2,1429.3 L1275.7,1423.7" stroke-width="1.32"/>
<path d="M1238.6,1517.7 L1248.1,1516.7 Q1250.7,1516.4 1251.8,1514.1 L1254.7,1508.3 Q1255.9,1506 1258.3,1505.3 L1272.8,1501.1 Q1275.3,1500.4 1276.4,1502.8 L1277.2,1504.6 Q1278.3,1506.9 1278,1509.5 L1276.8,1519.4 Q1276.6,1522 1274.2,1523.1 L1258.2,1530.8 Q1255.9,1531.9 1254.7,1534.2 L1251.8,1539.9 Q1250.7,1542.2 1248.1,1542.2 L1238.6,1542.2" stroke-width="1.98"/>
<path d="M1258,1510.3 L1276.6,1504.7" stroke-width="1.32"/>
<path d="M1004.6,1510.5 Q1002.8,1508.6 1005.2,1507.5 L1024.2,1498.5 Q1026.6,1497.4 1027.7,1499.7 L1030.6,1505.4 Q1031.7,1507.8 1029.7,1509.3 L1016.6,1519.1 Q1014.5,1520.7 1012.7,1518.8 Z" stroke-width="1.98"/>
<ellipse cx="1016.2" cy="1509.9" rx="2.16" ry="2.59" stroke-width="1.54"/>
<path d="M1005,1525 C1007.9,1523.6 1017.9,1520.4 1022.2,1516.4 C1026.5,1512.5 1029.5,1503.8 1030.9,1501.3" stroke-width="1.32"/>
<path d="M1002.8,1525 L1020.1,1530.2" stroke-width="1.32"/>
<path d="M800,1655.8 L984.2,1561.9" stroke-width="2.42"/>
<path d="M800,1661.9 L915.1,1602.6 L972.7,1579.6" stroke-width="1.32"/>
<path d="M800,1666 L886.7,1626.7" stroke-width="1.21"/>
<path d="M911.1,1603.9 C918.2,1601.1 964.3,1582.3 972,1579.6 C979.7,1576.9 976.1,1580 976.8,1580.6 C977.5,1581.2 979,1580.9 978.1,1585 C977.2,1589.1 971.6,1609.5 969.3,1615.9 C967,1622.3 960.9,1635.9 958.5,1640.2 C956.1,1644.5 951.5,1649.9 949,1652.4 C946.5,1654.9 938.2,1660.8 936.8,1661.9" stroke-width="1.76"/>
<path d="M919.2,1604.8 C925.2,1602.2 963.9,1584.6 970.4,1582.3 C976.9,1580 974.9,1581.2 974.5,1585 C974.1,1588.8 968.8,1608.4 966.6,1614.5 C964.4,1620.6 958.5,1632.8 955.8,1637.5 C953.1,1642.2 945,1653 943.6,1655.1" stroke-width="1.32"/>
<path d="M921.9,1621.3 C925.3,1619.6 935.4,1615.6 942.2,1611.1 C949,1606.6 959.2,1597 962.6,1594.2" stroke-width="1.21"/>
<path d="M928.7,1632.4 C932.1,1631 943.5,1628.3 949,1624 C954.5,1619.7 959.4,1611.1 961.9,1606.4 C964.4,1601.7 963.6,1597.6 963.9,1595.8" stroke-width="1.21"/>
<path d="M933.4,1648.4 C936,1647 944.8,1643.6 949,1640.2 C953.2,1636.8 956.9,1630.1 958.5,1628.1" stroke-width="1.21"/>
<path d="M879.9,1635.1 C881.3,1634.6 883.4,1634.1 888.1,1632.1 C892.9,1630.1 904.4,1624.6 908.4,1622.9 C912.4,1621.2 911.7,1622.2 912.4,1622.1" stroke-width="2.42"/>
<path d="M912.4,1622.1 C914.3,1623.6 926.4,1632.8 928.7,1634.8 C931,1636.8 931.9,1637.6 932.1,1639.2 C932.3,1640.8 930.6,1646.8 930,1648.4 C929.4,1650 927.6,1652.2 927.3,1652.7" stroke-width="2.42"/>
<path d="M910.4,1623.7 C912.2,1625.2 923.9,1634.3 926,1636.2 C928.1,1638.1 928.6,1638.8 928.7,1640.2 C928.8,1641.6 927.6,1646.9 927.1,1648.4 C926.6,1649.9 924.9,1652.6 924.6,1653.1" stroke-width="1.32"/>
<path d="M927.3,1652.7 C928.9,1654.5 933.2,1658.6 936.8,1663.5 C940.4,1668.4 944.7,1675.7 949,1682.2 C953.3,1688.7 959,1696.7 962.6,1702.6 C966.2,1708.5 968.9,1713.2 970.7,1717.5 C972.5,1721.8 973,1726.8 973.4,1728.6" stroke-width="2.64"/>
<path d="M888.1,1632.9 C890.4,1633.5 897.1,1634.1 901.6,1636.2 C906.1,1638.3 911.3,1642.7 915.1,1645.7 C918.9,1648.7 921.2,1650.3 924.6,1654.1 C928,1657.9 931.4,1663.1 935.5,1668.7 C939.6,1674.3 944.5,1681.2 949,1687.7 C953.5,1694.2 958.9,1701.4 962.6,1708 C966.3,1714.6 969.6,1724 971,1727.2" stroke-width="1.76"/>
<path d="M800,1680.9 C802.3,1679.9 812.9,1675.5 817.6,1673.4 C822.3,1671.3 832.1,1666.2 835.2,1665.4 C838.3,1664.6 839,1667.1 840.6,1667.3 C842.2,1667.5 845.6,1668 847.4,1666.7 C849.2,1665.4 852.4,1659.6 854.2,1657.9 C856,1656.2 858.1,1655.1 861,1654.1 C863.9,1653.1 872.8,1651.1 875.9,1650.5 C879,1649.9 881.8,1649.1 884,1649.7 C886.2,1650.3 890.3,1653.5 892.1,1655.1 C893.9,1656.7 896.7,1659.9 897.5,1661.9 C898.3,1663.9 898,1668.2 897.8,1670 C897.6,1671.8 895.9,1674 896.2,1675.5 C896.5,1677 898.6,1680.3 900.2,1680.9 C901.8,1681.5 906.4,1680.1 908.4,1680.3 C910.4,1680.5 913.3,1681 915.1,1682.2 C916.9,1683.4 919.5,1686.3 921.9,1689 C924.3,1691.7 929.9,1699.2 932.8,1702.6 C935.7,1706 942.3,1712.3 943.6,1714.8 C944.9,1717.3 942.8,1719.5 942.2,1721.5 C941.6,1723.5 939.1,1727.5 938.9,1729.7 C938.7,1731.9 939.9,1736.4 940.9,1737.8 C941.9,1739.2 944.7,1740 946.3,1740 C947.9,1740 951.3,1738 953.1,1737.8 C954.9,1737.6 957.9,1739.3 959.9,1738.6 C961.9,1737.9 966,1733.8 968,1732.4 C970,1731 973.9,1728.8 974.8,1728.3" stroke-width="2.64"/>
<path d="M800,1673 L844.7,1652.7 L881.3,1635.1" stroke-width="1.32"/>
<ellipse cx="846.3" cy="1656.5" rx="1.76" ry="2.3" stroke-width="2.2" transform="rotate(25 846.3 1656.5)"/>
<ellipse cx="907" cy="1671.1" rx="1.76" ry="2.3" stroke-width="2.2" transform="rotate(25 907 1671.1)"/>
<ellipse cx="948.6" cy="1728.6" rx="1.76" ry="2.3" stroke-width="2.2" transform="rotate(25 948.6 1728.6)"/>
<path d="M974.8,1728.3 L1020,1706.1" stroke-width="2.42"/>
<ellipse cx="661.5" cy="1750" rx="2.16" ry="2.16" stroke-width="1.54"/>
<ellipse cx="754.1" cy="1701.7" rx="2.16" ry="2.16" stroke-width="1.54"/>
<path d="M663.6,1745.3 C664.7,1743.1 665.1,1735.6 670.1,1731.9 C675.1,1728.2 679.8,1728.7 693.8,1723.3 C707.8,1717.9 737.6,1706.6 754.1,1699.6 C770.6,1692.5 786.4,1684.1 792.9,1681" stroke-width="2.2"/>
<path d="M641.8,1733.1 L715.5,1697.9" stroke-width="2.2"/>
<path d="M644,1739.2 L790,1674.1" stroke-width="1.32"/>
<path d="M663.8,1745.2 C666,1743.8 666,1742.7 677,1737 C688,1731.3 711,1720.1 729.8,1711.1 C748.6,1702.1 780,1687.6 790,1682.9" stroke-width="1.76"/>
<ellipse cx="663.8" cy="1750.7" rx="1.98" ry="1.98" stroke-width="1.54"/>
<ellipse cx="755.7" cy="1700.1" rx="1.98" ry="1.98" stroke-width="1.54"/>
<text x="799.4" y="1723" textLength="101.3" lengthAdjust="spacingAndGlyphs">AX31374</text>
<path class="ld" d="M802.4,1729.7 L785.2,1758.6"/>
<path d="M38.8,1195.9 Q35.4,1190.7 40.3,1186.7 L101.4,1137.3 Q106.2,1133.4 111.7,1136.5 L137.6,1150.8 Q143.1,1153.8 138.1,1157.6 L60.2,1218 Q55.2,1221.8 51.9,1216.6 Z" stroke-width="3.74" fill="#fff" stroke="#222"/>
<path d="M41.7,1193.3 Q38.9,1189.1 42.9,1185.9 L100.7,1140.7 Q104.8,1137.6 109.2,1140 L134.5,1153.5 Q139,1155.9 134.9,1159 L61.4,1214.1 Q57.3,1217.1 54.5,1212.9 Z" stroke-width="1.65" stroke="#222"/>
<path d="M44.7,1195.3 Q42.5,1192.1 45.6,1189.6 L104,1142.2 Q107.1,1139.7 110.6,1141.6 L132.5,1153.9 Q136,1155.8 132.8,1158.2 L61.2,1212.3 Q58.1,1214.7 55.8,1211.5 Z" stroke-width="2.86" stroke="#222"/>
<path d="M63.3,1178.4 L76.9,1197.7" stroke-width="6.6" stroke="#222"/>
<path d="M60,1182.2 L67.5,1192.8" stroke-width="1.32"/>
<path d="M81,1164.8 L94.6,1184" stroke-width="6.6" stroke="#222"/>
<path d="M77.7,1168.6 L85.2,1179.2" stroke-width="1.32"/>
<path d="M98.7,1151.1 L112.3,1170.4" stroke-width="6.6" stroke="#222"/>
<path d="M95.4,1154.9 L102.9,1165.5" stroke-width="1.32"/>
<path d="M77.1 1218.4 L79.3 1240.5 Q91.2 1248.2 105.4 1238.8 L105.4 1218.4" stroke-width="2.2" fill="#fff"/>
<ellipse cx="91.2" cy="1218.4" rx="14.17" ry="7.93" stroke-width="2.42" fill="#fff"/>
<ellipse cx="91.2" cy="1219.3" rx="10.2" ry="5.1" stroke-width="1.65"/>
<path d="M77.6 1224.7 Q91.2 1233.2 105.4 1224.1" stroke-width="1.54"/>
<path d="M77.1,1219.8 L77.1,1231.2" stroke-width="3.85"/>
<g transform="translate(96.9 1273.4) rotate(-95.0)"><ellipse cx="0" cy="0" rx="5.1" ry="8.5" fill="#fff" stroke="#111" stroke-width="2.4"/><rect x="0" y="-3.2" width="19.4" height="6.5" rx="2.5" fill="#111" stroke="none"/></g>
<g transform="translate(333.7 1395.2) rotate(-95.0)"><ellipse cx="0" cy="0" rx="5.1" ry="8.5" fill="#fff" stroke="#111" stroke-width="2.4"/><rect x="0" y="-3.2" width="19.4" height="6.5" rx="2.5" fill="#111" stroke="none"/></g>
<text x="146.8" y="1211.1" textLength="121" lengthAdjust="spacingAndGlyphs">AXI230022</text>
<text x="126.6" y="1271.4" textLength="121.3" lengthAdjust="spacingAndGlyphs">AXI235167</text>
<path class="ld" d="M114.7,1182.2 L140.2,1200.6 L107.1,1226.1"/>
<path d="M102,1260.9 L119,1260.9" stroke-width="2.64"/>
<path d="M259.2,1320.1 Q256.4,1315.9 261.8,1312.8 L352.1,1261.7 Q357.5,1258.7 363.1,1261.6 L389.7,1275.6 Q395.2,1278.5 394.8,1281.6 L394.8,1281.6 Q394.4,1284.7 388.8,1287.6 L317.2,1324.4 Q311.6,1327.2 305.4,1326.9 L268.3,1324.7 Q262.1,1324.4 259.2,1320.1 Z" stroke-width="3.74" fill="#fff" stroke="#222"/>
<path d="M264.2,1317.9 Q261.5,1314.1 266,1311.7 L351.1,1265.1 Q355.6,1262.6 360.1,1264.9 L386.1,1278.1 Q390.6,1280.5 390.2,1283.3 L390.2,1283.3 Q389.8,1286.1 385.3,1288.3 L317.5,1322 Q312.9,1324.3 307.8,1324 L271.9,1322 Q266.8,1321.8 264.2,1317.9 Z" stroke-width="1.65" stroke="#222"/>
<path d="M266.7,1319.1 Q264.9,1317.3 268.4,1315.4 L354.9,1266.8 Q358.4,1264.9 361.9,1266.7 L383.5,1277.8 Q387,1279.6 383.5,1281.5 L312.9,1319.1 Q309.4,1321 305.4,1321 L272.5,1321 Q268.6,1321 266.7,1319.1 Z" stroke-width="2.86" stroke="#222"/>
<path d="M280.7,1302.4 L307.9,1313.7" stroke-width="3.96" stroke="#222"/>
<path d="M278.1,1305.8 L293,1312" stroke-width="1.32"/>
<path d="M304,1291.8 L331.2,1303.2" stroke-width="3.96" stroke="#222"/>
<path d="M301.4,1295.2 L316.4,1301.5" stroke-width="1.32"/>
<path d="M327.3,1281.3 L354.5,1292.6" stroke-width="3.96" stroke="#222"/>
<path d="M324.7,1284.7 L339.7,1290.9" stroke-width="1.32"/>
<path d="M349.7,1271.2 L376.9,1282.5" stroke-width="3.96" stroke="#222"/>
<path d="M347.1,1274.6 L362,1280.8" stroke-width="1.32"/>
<path d="M300.3,1328.9 L283.3,1330.9" stroke-width="1.32"/>
<path d="M317.9 1337.4 L320.1 1359.5 Q332 1367.2 346.2 1357.8 L346.2 1337.4" stroke-width="2.2" fill="#fff"/>
<ellipse cx="332" cy="1337.4" rx="14.17" ry="7.93" stroke-width="2.42" fill="#fff"/>
<ellipse cx="332" cy="1338.3" rx="10.2" ry="5.1" stroke-width="1.65"/>
<path d="M318.4 1343.6 Q332 1352.1 346.2 1343.1" stroke-width="1.54"/>
<path d="M317.9,1338.8 L317.9,1350.2" stroke-width="3.85"/>
<text x="123.8" y="1367.5" textLength="122.1" lengthAdjust="spacingAndGlyphs">AXI233022</text>
<text x="172" y="1405.2" textLength="119.8" lengthAdjust="spacingAndGlyphs">AXI235167</text>
<path class="ld" d="M283.3,1330.9 L256.4,1350.7 L317.3,1349.3"/>
<path d="M298,1394.6 L324.4,1394.6" stroke-width="2.64"/>
<path d="M411.5,1179.6 Q411.6,1177.6 412.4,1175.8 L420.2,1157.3 Q421,1155.5 422.6,1154.3 L426.1,1151.7 Q427.7,1150.5 429.5,1149.6 L433.1,1148 Q434.9,1147.2 436.6,1148.1 L471.4,1167.8 Q473.1,1168.8 474.4,1170.3 L475.7,1171.7 Q477,1173.2 477,1175.2 L477.5,1208.9 Q477.6,1210.9 476.1,1212.3 L475.6,1212.8 Q474.2,1214.2 472.5,1215.2 L468.2,1217.7 Q466.5,1218.7 464.5,1219.1 L450.7,1222.1 Q448.7,1222.5 446.9,1221.8 L445,1221.1 Q443.2,1220.3 441.4,1219.4 L413.9,1205.2 Q412.1,1204.2 411.7,1202.3 L411.5,1201.8 Q411,1199.8 411.1,1197.8 Z" stroke-width="3.3" fill="#fff"/>
<path d="M423.8,1156 L462.6,1177.1" stroke-width="4.95" stroke="#222"/>
<path d="M427.7,1150.8 L466,1172.3 Q467.6,1173.2 468.7,1174.6 L470,1176.3 Q471.1,1177.6 471.1,1179.4 L471.6,1215.3" stroke-width="2.42"/>
<path d="M462.6,1177.1 L464.1,1181 Q464.5,1182.1 464.5,1183.2 L464.9,1218.7" stroke-width="2.42"/>
<path d="M462.6,1177.1 L467.6,1173.4" stroke-width="1.98"/>
<path d="M413.8,1176.8 L444.3,1195.8 Q445.4,1196.5 446.6,1197.2 L448.5,1198.3 Q449.6,1198.9 449.6,1200.3 L450.1,1221.4" stroke-width="2.86"/>
<path d="M414.9,1203.1 L414.9,1185.2 Q414.9,1184.3 415.7,1184.7 L441.9,1199.6 Q442.6,1200 442.7,1200.9 L443.2,1219.8" stroke-width="1.76"/>
<path d="M412.1,1202 L443.2,1219.8" stroke-width="1.54"/>
<path d="M445.4,1196.5 L446.5,1198.9 L449.6,1198.9" stroke-width="1.54"/>
<path d="M438.8,1222 L439.6,1226.6 Q439.9,1228.1 441,1229.2 L460.9,1248.1 Q462,1249.1 463.4,1248.4 L475.1,1241.6 Q476.4,1240.8 476.8,1239.3 L478.3,1232.4 Q478.7,1230.9 478.2,1229.4 L478,1229 Q477.6,1227.5 476.2,1226.8 L467.6,1222.5" stroke-width="3.3"/>
<path d="M442.1,1227 L460.4,1240.8 L462,1249.1" stroke-width="2.42"/>
<path d="M460.4,1240.8 C461.6,1239.7 465.1,1235.8 467.6,1234.2 C470.1,1232.6 473.6,1232 475.3,1230.9 C477,1229.8 477.2,1228.3 477.6,1227.8" stroke-width="2.42"/>
<path d="M440.4,1224.2 L448.7,1226.4 L457.6,1223.6" stroke-width="1.76"/>
<ellipse cx="468.1" cy="1239.7" rx="2.22" ry="3.1" stroke-width="2.42" transform="rotate(25 468.1 1239.7)"/>
<ellipse cx="468.4" cy="1239.9" rx="1.11" ry="1.66" stroke-width="1.65" transform="rotate(25 468.4 1239.9)"/>
<ellipse cx="493.6" cy="1255.5" rx="9.31" ry="11.09" stroke-width="2.2" fill="#222" stroke="#222" transform="rotate(25 493.6 1255.5)"/>
<ellipse cx="496.1" cy="1254.4" rx="7.54" ry="9.76" stroke-width="2.42" fill="#fff" transform="rotate(25 496.1 1254.4)"/>
<ellipse cx="494.2" cy="1255.5" rx="1.33" ry="2.44" stroke-width="2.2" fill="#222" stroke="#222" transform="rotate(25 494.2 1255.5)"/>
<g transform="translate(543.5 1283.5) rotate(-150.4)"><rect x="0" y="-4" width="21.6" height="8" rx="2.5" fill="#111" stroke="none"/><path d="M8.1,-4 L0,-9 L0,9 L8.1,4Z" fill="#111" stroke="none"/><ellipse cx="0" cy="0" rx="5.6" ry="9" fill="#fff" stroke="#111" stroke-width="2.2"/><ellipse cx="0" cy="0" rx="1.8" ry="2.9" fill="none" stroke="#111" stroke-width="1.6"/></g>
<text x="502.9" y="1189" textLength="121.8" lengthAdjust="spacingAndGlyphs">AXI230022</text>
<text x="394.7" y="1315.9" textLength="121" lengthAdjust="spacingAndGlyphs">AXI235167</text>
<path class="ld" d="M478.8,1202 L505.7,1195.8 L493,1244.5"/>
<path class="ld" d="M511.4,1289.3 L529.8,1277.9"/>
<text x="153" y="1457.6" textLength="106.2" lengthAdjust="spacingAndGlyphs">AXI31374</text>
<path class="ld" d="M266.9,1454.1 L294.6,1465.5"/>
<path d="M306,1452.7 L283.3,1485.3" stroke-width="3.52" stroke="#222" stroke-dasharray="5 2.5"/>
<path d="M303.7,1451.3 L281,1483.9" stroke-width="1.32"/>
<text x="73.1" y="1504.3" textLength="121" lengthAdjust="spacingAndGlyphs">AXI230022</text>
<path d="M199.7,1495.2 L223.8,1495.2" stroke-width="2.64"/>
<ellipse cx="230.9" cy="1496.6" rx="7.93" ry="10.77" stroke-width="6.6" fill="#444" stroke="#222" transform="rotate(20 230.9 1496.6)"/>
<path d="M236.6,1499.5 L249.3,1503.7 L249.3,1515.1 L236.6,1510.8Z" stroke-width="2.2" fill="#fff"/>
<ellipse cx="249.3" cy="1509.4" rx="3.97" ry="5.67" stroke-width="2.2" fill="#fff"/>
<ellipse cx="226.6" cy="1510.8" rx="4.53" ry="5.1" stroke-width="4.4" fill="#fff" stroke="#222"/>
<text x="128.1" y="1550.2" textLength="121.8" lengthAdjust="spacingAndGlyphs">AXI233003</text>
<path d="M255,1545.4 L289,1545.4" stroke-width="2.64"/>
<ellipse cx="295.2" cy="1542" rx="2.83" ry="8.5" stroke-width="2.2" fill="#fff" transform="rotate(30 295.2 1542)"/>
<path d="M217.1,1824.5 C218.8,1823.7 223.6,1819.2 227,1819.5 C230.4,1819.8 235.5,1823.1 237.8,1826.4 C240.1,1829.7 240,1835.1 240.8,1839.2 C241.6,1843.3 242.4,1849.1 242.7,1851.1" stroke-width="2.42"/>
<path d="M223,1821.5 C224,1822.5 227.2,1824.1 228.9,1827.4 C230.6,1830.7 231.8,1836.6 232.9,1841.2 C234.1,1845.8 235.3,1852.7 235.8,1855" stroke-width="1.76"/>
<ellipse cx="202.4" cy="1864.9" rx="24.62" ry="46.29" stroke-width="3.3" fill="#fff" transform="rotate(-6 202.4 1864.9)"/>
<ellipse cx="202.9" cy="1865.3" rx="22.06" ry="43.34" stroke-width="1.65" transform="rotate(-6 202.9 1865.3)"/>
<ellipse cx="206.3" cy="1867.8" rx="17.34" ry="37.43" stroke-width="1.98" transform="rotate(-6 206.3 1867.8)"/>
<path d="M212.9,1874.7 Q213.2,1872.7 215,1872 L219.2,1870.5 Q221.1,1869.8 221.7,1871.7 L223.4,1876.8 Q224,1878.6 223.8,1880.6 L223.2,1886.5 Q223,1888.5 221.2,1889.2 L217,1890.8 Q215.2,1891.5 214.4,1889.6 L212.3,1884.4 Q211.6,1882.6 211.9,1880.6 Z" stroke-width="2.2" fill="#fff"/>
<path d="M215.7,1876.9 Q215.6,1875.7 216.7,1875.4 L219,1874.7 Q220.1,1874.3 220.3,1875.5 L221.3,1881.4 Q221.5,1882.6 220.7,1883.5 L217.9,1886.6 Q217.1,1887.5 217,1886.3 Z" stroke-width="1.65"/>
<path d="M219.1,1910.2 C220.4,1908.5 224.5,1904.9 227,1900.3 C229.5,1895.7 232.6,1887.8 233.9,1882.6 C235.2,1877.3 234.7,1871.1 234.9,1868.8" stroke-width="2.2"/>
<path d="M240.8,1851.1 L249.6,1846.1 L263.4,1849.1 L254.6,1855Z" stroke-width="2.2" fill="#fff"/>
<path d="M239.8,1853 L225,1947.6 L228,1955.5 L243.7,1960.4 L252.6,1851.5Z" stroke-width="2.2" fill="#fff"/>
<path d="M238.4,1858.9 L248.3,1862.1" stroke-width="4.62" stroke="#222"/>
<path d="M237.3,1868 L247.4,1871.2" stroke-width="4.62" stroke="#222"/>
<path d="M236.2,1877.1 L246.6,1880.2" stroke-width="4.62" stroke="#222"/>
<path d="M235.2,1886.1 L245.8,1889.3" stroke-width="4.62" stroke="#222"/>
<path d="M234.1,1895.2 L244.9,1898.3" stroke-width="4.62" stroke="#222"/>
<path d="M233,1904.3 L244.1,1907.4" stroke-width="4.62" stroke="#222"/>
<path d="M231.9,1913.3 L243.3,1916.5" stroke-width="4.62" stroke="#222"/>
<path d="M230.8,1922.4 L242.5,1925.5" stroke-width="4.62" stroke="#222"/>
<path d="M229.7,1931.4 L241.6,1934.6" stroke-width="4.62" stroke="#222"/>
<path d="M228.7,1940.5 L240.8,1943.7" stroke-width="4.62" stroke="#222"/>
<path d="M227,1916.1 L221.1,1947.6 L225,1953.5" stroke-width="2.42"/>
<path d="M412.2,1945.6 L422,1941.7 L432.8,1950.6 L431.9,1961.4 L424,1965.3" stroke-width="2.42" fill="#fff"/>
<path d="M412.6,1947.6 L425,1954.5 L416.1,2060.9 L403.7,2055Z" stroke-width="2.2" fill="#fff"/>
<path d="M414.1,1960.4 L422.4,1964.3" stroke-width="4.62" stroke="#222"/>
<path d="M413.4,1969.3 L421.7,1973.2" stroke-width="4.62" stroke="#222"/>
<path d="M412.6,1978.1 L420.9,1982.1" stroke-width="4.62" stroke="#222"/>
<path d="M411.9,1987 L420.2,1990.9" stroke-width="4.62" stroke="#222"/>
<path d="M411.1,1995.9 L419.4,1999.8" stroke-width="4.62" stroke="#222"/>
<path d="M410.4,2004.7 L418.7,2008.7" stroke-width="4.62" stroke="#222"/>
<path d="M409.6,2013.6 L417.9,2017.5" stroke-width="4.62" stroke="#222"/>
<path d="M408.9,2022.5 L417.2,2026.4" stroke-width="4.62" stroke="#222"/>
<path d="M408.1,2031.3 L416.4,2035.3" stroke-width="4.62" stroke="#222"/>
<path d="M407.4,2040.2 L415.7,2044.1" stroke-width="4.62" stroke="#222"/>
<path d="M406.6,2049.1 L414.9,2053" stroke-width="4.62" stroke="#222"/>
<path d="M425,1954.5 L432.8,1950.6" stroke-width="1.76"/>
<path d="M252.6,1851.5 L412.6,1947.6 L403.7,2055 L243.7,1960.4Z" stroke-width="3.52" fill="#fff"/>
<path d="M254.6,1849.1 L422,1942.7" stroke-width="2.42"/>
<path d="M249.6,1847.1 L254.6,1849.1" stroke-width="1.76"/>
<path d="M258.5,1861.9 L410.2,1951.5" stroke-width="4.95" stroke="#222" stroke-dasharray="28 9"/>
<path d="M244.7,1962.4 L402.7,2057.5" stroke-width="2.2"/>
<path d="M232.6,1963.2 Q232.5,1960.4 235.1,1961.3 L247,1965.4 Q249.6,1966.3 249.9,1969.1 L250,1970.5 Q250.2,1973.2 248.1,1974.9 L246.9,1975.8 Q244.7,1977.5 242,1976.8 L238.5,1975.9 Q235.8,1975.2 234.8,1972.6 L234,1970.8 Q232.9,1968.3 232.8,1965.5 Z" stroke-width="2.42" fill="#fff"/>
<path d="M233.3,1967.3 C234.6,1967.8 238.1,1970.1 240.8,1970.3 C243.6,1970.5 248.3,1968.6 249.8,1968.3" stroke-width="1.65"/>
<path d="M417.1,2036.2 L422,2040.2 L423,2063.8" stroke-width="2.42"/>
<path d="M433.8,2044.1 L434.2,2061.9" stroke-width="2.42"/>
<path d="M413.6,2065.8 Q413.1,2062.8 416.2,2062.2 L418.9,2061.6 Q422,2060.9 425.2,2060.7 L440.5,2060 Q443.7,2059.9 445.5,2062.4 L446.1,2063.3 Q448,2065.8 446,2068.3 L443.7,2071.2 Q441.7,2073.7 440.7,2076.7 L438.8,2082.5 Q437.8,2085.5 434.7,2086 L429.1,2086.9 Q425.9,2087.5 424.3,2084.8 L422.7,2082.3 Q421,2079.6 421.4,2076.5 L421.6,2074.8 Q422,2071.7 419.1,2070.6 L417.1,2069.9 Q414.1,2068.8 413.6,2065.8 Z" stroke-width="2.64" fill="#fff"/>
<path d="M416.1,2065.8 C418.7,2066.5 426.8,2069.9 431.9,2069.7 C437,2069.5 444.2,2065.6 446.6,2064.8" stroke-width="1.65"/>
<path d="M422,2073.7 C423.3,2074.2 426.8,2076.6 429.9,2076.6 C433,2076.6 438.9,2074.2 440.7,2073.7" stroke-width="1.65"/>
<ellipse cx="434.8" cy="2081.6" rx="1.77" ry="1.77" stroke-width="1.65"/>
<ellipse cx="455.5" cy="2009.1" rx="37.82" ry="42.35" stroke-width="3.52" fill="#fff" transform="rotate(-12 455.5 2009.1)"/>
<ellipse cx="455.5" cy="2009.5" rx="35.07" ry="39.4" stroke-width="1.65" transform="rotate(-12 455.5 2009.5)"/>
<ellipse cx="462.4" cy="2012.6" rx="27.58" ry="38.41" stroke-width="2.2" transform="rotate(-14 462.4 2012.6)"/>
<path d="M435.8,1972.2 C438.4,1971 446,1966.1 451.6,1965.3 C457.2,1964.5 463.7,1964.5 469.3,1967.3 C474.9,1970.1 480.7,1976.2 485,1982.1 C489.3,1988 493.1,1997.1 494.9,2002.8 C496.7,2008.5 495.7,2014.2 495.9,2016.5" stroke-width="2.42"/>
<path d="M467.3,1987 C468.6,1988.6 473.6,1993.5 475.2,1996.8 C476.8,2000.1 476.9,2005 477.2,2006.7" stroke-width="1.76"/>
<path d="M459.9,2019.3 Q459.4,2016.5 461.6,2014.8 L467.1,2010.4 Q469.3,2008.7 472,2009.2 L476.4,2010.1 Q479.1,2010.6 479.4,2013.4 L479.8,2016.8 Q480.1,2019.5 478.7,2021.9 L474.6,2028.9 Q473.2,2031.3 470.5,2031.8 L465.1,2032.8 Q462.4,2033.3 461.9,2030.6 Z" stroke-width="2.42" fill="#fff"/>
<path d="M463.6,2020.1 Q463.4,2018.5 464.7,2017.7 L468.9,2015.4 Q470.3,2014.6 471.3,2015.8 L473.2,2018.3 Q474.2,2019.5 473.4,2020.8 L470.1,2026 Q469.3,2027.4 467.7,2027.4 L465.9,2027.4 Q464.4,2027.4 464.2,2025.8 Z" stroke-width="1.76"/>
<path d="M465,2020.5 L465.7,2029.4" stroke-width="2.42"/>
<path d="M470.3,2018.5 L470.9,2026.4" stroke-width="1.76"/>
<path d="M494.1,2019.6 Q494.9,2016.5 497.5,2014.7 L521.9,1997.7 Q524.4,1995.9 527.5,1996.7 L536.2,1999 Q539.2,1999.8 540.3,2002.8 L541.1,2004.7 Q542.2,2007.7 540.5,2010.3 L537,2015.9 Q535.3,2018.5 532.4,2019.9 L521.4,2025.1 Q518.5,2026.4 517.5,2029.4 L513.6,2041.1 Q512.6,2044.1 511.6,2047.1 L508.7,2055.9 Q507.7,2058.9 504.8,2060.2 L498.8,2062.9 Q495.9,2064.2 493.8,2061.8 L490,2057.4 Q488,2055 487.8,2051.8 L487.6,2049.2 Q487.4,2046.1 489.6,2043.9 L492.7,2040.8 Q494.9,2038.6 494.5,2035.5 L493.4,2027.5 Q492.9,2024.4 493.7,2021.4 Z" stroke-width="2.64" fill="#fff"/>
<path d="M498.8,2020.5 L522.5,2004.1 Q524.4,2002.8 526.8,2003.2 L532,2004.3 Q534.3,2004.7 532.6,2006.4 L518.2,2020.8 Q516.6,2022.5 515.8,2024.7 L509.5,2041.9 Q508.7,2044.1 506.8,2045.5 L494.9,2054" stroke-width="1.54"/>
<ellipse cx="534.3" cy="2008.3" rx="2.17" ry="2.56" stroke-width="1.98"/>
<ellipse cx="503.8" cy="2055" rx="2.17" ry="2.56" stroke-width="1.98"/>
<ellipse cx="282.6" cy="1823.1" rx="9.63" ry="11.33" stroke-width="3.52" fill="#fff" transform="rotate(15 282.6 1823.1)"/>
<ellipse cx="284.3" cy="1823.7" rx="6.23" ry="8.5" stroke-width="1.76" transform="rotate(15 284.3 1823.7)"/>
<path d="M280.5,1835.8 Q280.3,1833 283.1,1832.7 L291.1,1831.9 Q293.9,1831.6 294,1834.4 L294.4,1841.5 Q294.5,1844.3 292.2,1846.1 L290.5,1847.4 Q288.3,1849.2 285.7,1847.9 L283.7,1847 Q281.2,1845.8 281,1842.9 Z" stroke-width="2.64" fill="#fff"/>
<ellipse cx="286.8" cy="1842.4" rx="2.55" ry="2.55" stroke-width="1.76"/>
<path d="M283.2,1817.4 L284.3,1834.4" stroke-width="1.54"/>
<ellipse cx="530.5" cy="1965.3" rx="9.63" ry="11.33" stroke-width="3.52" fill="#fff" transform="rotate(15 530.5 1965.3)"/>
<ellipse cx="532.2" cy="1965.9" rx="6.23" ry="8.5" stroke-width="1.76" transform="rotate(15 532.2 1965.9)"/>
<path d="M528.4,1978.1 Q528.2,1975.2 531,1974.9 L539,1974.1 Q541.8,1973.8 541.9,1976.6 L542.3,1983.7 Q542.4,1986.6 540.1,1988.3 L538.4,1989.6 Q536.2,1991.4 533.6,1990.2 L531.6,1989.2 Q529.1,1988 528.9,1985.2 Z" stroke-width="2.64" fill="#fff"/>
<ellipse cx="534.7" cy="1984.6" rx="2.55" ry="2.55" stroke-width="1.76"/>
<path d="M531.1,1959.7 L532.2,1976.6" stroke-width="1.54"/>
<g transform="translate(566.5 1961.9) rotate(150.5)"><rect x="0" y="-3.2" width="19.5" height="6.5" rx="2.5" fill="#111" stroke="none"/><rect x="-3.8" y="-4.4" width="5" height="8.8" rx="2" fill="#fff" stroke="#111" stroke-width="2"/></g>
<text x="519.7" y="1858.8" textLength="121" lengthAdjust="spacingAndGlyphs">AXI233003</text>
<text x="669" y="1869" textLength="121.3" lengthAdjust="spacingAndGlyphs">AXI233020</text>
<text x="439" y="1905" textLength="121.3" lengthAdjust="spacingAndGlyphs">AXI230020</text>
<path class="ld" d="M431.9,1948.3 L495.6,1910.9 L531.1,1958.2"/>
<text x="603.3" y="1974.4" textLength="87.3" lengthAdjust="spacingAndGlyphs">AXA013</text>
<path d="M571.6,1961.6 L596.2,1961.6" stroke-width="2.42"/>
<ellipse cx="717.8" cy="1783.5" rx="4.33" ry="4.73" stroke-width="2.2" fill="#111" stroke="#111"/>
<path d="M718.9,1780.5 Q718.8,1779.1 719.8,1778.2 L720.8,1777.3 Q721.8,1776.4 723.1,1776 L727.3,1774.8 Q728.7,1774.4 729.8,1775.2 L733.7,1778.3 Q734.8,1779.1 735.2,1780.4 L742.2,1802.4 Q742.7,1803.7 741.5,1804.5 L740.7,1805 Q739.5,1805.7 738.2,1806.1 L728.2,1809.4 Q726.9,1809.9 725.9,1808.9 L723.2,1806.2 Q722.3,1805.2 722,1803.9 L719.9,1794.3 Q719.6,1792.9 719.5,1791.5 Z" stroke-width="3.3" fill="#111" stroke="#111"/>
<path d="M725.7,1779.1 L728.7,1778.1" stroke-width="2.42" stroke="#fff"/>
<path d="M728.7,1789 L731.1,1793.4" stroke-width="2.86" stroke="#fff"/>
<path d="M731.6,1796.4 L733.6,1800.3" stroke-width="2.86" stroke="#fff"/>
<path d="M730.6,1804.7 L738.5,1801.8" stroke-width="1.76" stroke="#fff"/>
<path d="M727.1,1808.1 L727.1,1837.3" stroke-width="2.42"/>
<path d="M949.3,2067.2 C952.1,2063.7 960.6,2052.6 966.3,2046 C972,2039.4 977.2,2033 983.3,2027.6 C989.4,2022.2 999.8,2015.8 1003.1,2013.4" stroke-width="2.64"/>
<path d="M1003.1,2013.4 L1006,2007.7 L1008.8,2006.3" stroke-width="2.42"/>
<path d="M1008.8,2006.3 C1023.4,1999.2 1069.7,1977 1096.6,1963.8 C1123.5,1950.6 1153.3,1935.1 1170.3,1927 C1187.3,1918.9 1191,1917.5 1198.6,1915.1 C1206.1,1912.6 1209.9,1912 1215.6,1912.3 C1221.3,1912.6 1226.4,1913.2 1232.6,1917.1 C1238.8,1921 1245.4,1927.2 1252.5,1935.5 C1259.6,1943.8 1268.5,1957.2 1275.1,1966.6 C1281.7,1976 1287.4,1984.5 1292.1,1992.1 C1296.8,1999.7 1300.7,2005.8 1303.5,2012 C1306.3,2018.2 1308.6,2024.3 1309.1,2029 C1309.6,2033.7 1307.7,2037 1306.3,2040.3 C1304.9,2043.6 1302.7,2047.6 1300.6,2048.8 C1298.5,2050 1294.7,2047.6 1293.5,2047.4" stroke-width="2.86"/>
<path d="M1293.5,2047.4 C1291.8,2044.3 1287.6,2035.8 1283.6,2029 C1279.6,2022.2 1274.2,2013.4 1269.5,2006.3 C1264.8,1999.2 1260,1992.1 1255.3,1986.5 C1250.6,1980.9 1245.8,1975.8 1241.1,1972.9 C1236.4,1970 1232.2,1969.1 1227,1968.9 C1221.8,1968.7 1217.6,1968.7 1210,1971.7 C1202.4,1974.7 1192.9,1980.2 1181.6,1987 C1170.3,1993.8 1156.2,2003.5 1142,2012.5 C1127.8,2021.5 1107.9,2033.3 1096.6,2040.9 C1085.3,2048.5 1079,2053.5 1074,2057.9 C1069,2062.3 1068.1,2065.6 1066.9,2067.2" stroke-width="2.2"/>
<path d="M1065.5,2063 C1070.7,2058.5 1082,2046.7 1096.6,2036.1 C1111.2,2025.5 1134.4,2011 1153.3,1999.2 C1172.2,1987.4 1197.7,1971.7 1210,1965.2 C1222.3,1958.7 1220.9,1960.2 1227,1960.4 C1233.1,1960.6 1240.2,1961.4 1246.8,1966.1 C1253.4,1970.8 1260.5,1980.2 1266.6,1988.7 C1272.7,1997.2 1278.4,2008.6 1283.6,2017.1 C1288.8,2025.6 1295.4,2035.9 1297.8,2039.7" stroke-width="4.95" stroke="#222"/>
<path d="M1066.9,2067.2 C1065.7,2069.3 1062.9,2074.1 1059.8,2080 C1056.7,2085.9 1052.3,2097.7 1048.5,2102.6 C1044.7,2107.5 1041.3,2108.3 1037.1,2109.7 C1032.8,2111.1 1025.3,2110.9 1023,2111.1" stroke-width="2.64"/>
<path d="M1023,2111.1 L949.3,2084.2 L949.3,2067.2" stroke-width="2.64"/>
<path d="M967.7,2047.4 L1034.3,2071.5 L1065.5,2064.4" stroke-width="2.42"/>
<path d="M967.7,2047.4 C966.8,2050.9 962.3,2064.1 962.1,2068.6 C961.9,2073.1 965.6,2073.4 966.3,2074.3" stroke-width="2.2"/>
<path d="M966.3,2074.3 L1023,2095.6 L1034.3,2071.5" stroke-width="2.2"/>
<path d="M950.7,2078.6 L1024.4,2105.5 L1049.9,2097.5" stroke-width="1.54"/>
<path d="M972,2051.6 L969.1,2068.6" stroke-width="3.85" stroke="#222"/>
<path d="M1023,2095.6 L1023,2111.1" stroke-width="1.76"/>
<path d="M1034.3,2099.8 L1035.7,2109.7" stroke-width="1.54"/>
<path d="M993.8,2028.6 Q991.8,2027.6 993.8,2026.5 L1002.6,2021.6 Q1004.6,2020.5 1006.7,2021.1 L1012.3,2022.7 Q1014.5,2023.3 1013.6,2025.4 L1012.5,2028.3 Q1011.6,2030.4 1009.4,2030.7 L1002.6,2031.5 Q1000.3,2031.8 998.3,2030.8 Z" stroke-width="2.2"/>
<path d="M983.3,2027.6 L991.8,2027.6" stroke-width="1.76"/>
<path d="M1170.3,1929.3 L1181.6,1924.2" stroke-width="3.3" stroke="#222"/>
<path d="M1272.3,2013.4 C1272.5,2014.4 1272.3,2017 1273.7,2019.1 C1275.1,2021.2 1279.6,2024.9 1280.8,2026.1" stroke-width="2.2"/>
<path d="M1011.6,2010.6 C1025.8,2003.5 1070.1,1981.3 1096.6,1968.1 C1123,1954.9 1158,1937.3 1170.3,1931.2" stroke-width="1.32"/>
<path d="M841.7,1928.4 C843.8,1927.5 835.5,1931.5 854.4,1922.7 C873.3,1913.9 921.7,1891.2 955,1875.4 C988.3,1859.6 1034.3,1836.7 1054.1,1827.8 C1073.9,1818.9 1069.5,1822.7 1074,1822.2 C1078.5,1821.7 1076.4,1821.7 1081.1,1825 C1085.8,1828.3 1093.6,1833.5 1102.3,1842 C1111,1850.5 1125,1865.6 1133.5,1876 C1142,1886.4 1149.7,1897.7 1153.3,1904.3 C1156.9,1910.9 1156,1911.9 1155.3,1915.7 C1154.6,1919.5 1151.7,1924.1 1149,1927 C1146.3,1929.9 1142.4,1932.8 1139.1,1933.2 C1135.8,1933.6 1132,1931.3 1129.2,1929.3 C1126.4,1927.3 1123,1924 1122.1,1921.3 C1121.2,1918.5 1122.2,1915.1 1123.6,1912.8 C1125,1910.5 1129.4,1908.1 1130.6,1907.2" stroke-width="2.64"/>
<path d="M867.2,1935.5 C872.4,1933.1 886.5,1926.3 898.3,1921.3 C910.1,1916.3 931.4,1908.3 938,1905.7" stroke-width="2.2"/>
<path d="M938,1905.7 C938.9,1905.2 942,1902.9 943.6,1902.9 C945.2,1902.9 946,1905.5 947.9,1905.7 C949.8,1905.9 953.1,1905.7 955,1904.3 C956.9,1902.9 958.5,1898.4 959.2,1897.2" stroke-width="2.2"/>
<path d="M959.2,1897.2 C965.6,1893.7 985.9,1882.1 997.5,1876 C1009.1,1869.9 1023.4,1863 1028.6,1860.4" stroke-width="2.2"/>
<path d="M1028.6,1860.4 C1029.5,1860.2 1032.4,1859 1034.3,1859 C1036.2,1859 1037.9,1860.9 1040,1860.4 C1042.1,1859.9 1045.7,1858.1 1047.1,1856.2 C1048.5,1854.3 1045,1851.7 1048.5,1849.1 C1052,1846.5 1063.1,1841.1 1068.3,1840.6 C1073.5,1840.1 1077.2,1844.1 1079.6,1846.2 C1082,1848.3 1082,1852.1 1082.5,1853.3" stroke-width="2.2"/>
<path d="M1082.5,1853.3 C1082,1855.2 1079.1,1861.4 1079.6,1864.7 C1080.1,1868 1082.5,1871.3 1085.3,1873.2 C1088.1,1875.1 1093.3,1876 1096.6,1876 C1099.9,1876 1103.7,1873.7 1105.1,1873.2" stroke-width="2.2"/>
<path d="M1105.1,1873.2 C1107.5,1876.5 1115,1887.3 1119.3,1893 C1123.5,1898.7 1128.7,1904.8 1130.6,1907.2" stroke-width="2.2"/>
<path d="M1108,1878.8 C1110.8,1882.1 1120.3,1893 1125,1898.7 C1129.7,1904.4 1134.4,1910.5 1136.3,1912.8" stroke-width="1.43"/>
<path d="M858.7,1927 L1057,1833.5" stroke-width="1.43"/>
<path d="M841.7,1928.4 C840.3,1931 836,1937.6 833.2,1944 C830.4,1950.4 826.6,1960.5 824.7,1966.6 C822.8,1972.7 821.6,1977.1 821.8,1980.8 C822,1984.5 823.7,1987.3 826.1,1988.7 C828.5,1990.1 833.2,1990.6 836,1989.3 C838.8,1988 842.2,1983.5 843.1,1980.8 C844,1978.1 842.8,1974.1 841.1,1972.9 C839.5,1971.7 834.5,1973.6 833.2,1973.7" stroke-width="2.64"/>
<path d="M850.2,1935.5 C848.8,1937.9 844.1,1944.5 841.7,1949.7 C839.3,1954.9 837.4,1962.6 836,1966.6 C834.6,1970.6 833.7,1972.5 833.2,1973.7" stroke-width="1.76"/>
<path d="M841.7,1928.4 C842.6,1930.1 845.9,1934.8 847.3,1938.3 C848.7,1941.8 848.3,1947.1 850.2,1949.7 C852.1,1952.3 855.9,1954.4 858.7,1953.9 C861.5,1953.4 865.8,1949.9 867.2,1946.8 C868.6,1943.7 867.2,1937.4 867.2,1935.5" stroke-width="2.42"/>
<ellipse cx="855.3" cy="1944" rx="3.12" ry="3.68" stroke-width="1.98" transform="rotate(15 855.3 1944)"/>
<ellipse cx="948.7" cy="1894.4" rx="3.12" ry="3.68" stroke-width="1.98" transform="rotate(15 948.7 1894.4)"/>
<ellipse cx="1039.1" cy="1849.9" rx="3.12" ry="3.68" stroke-width="1.98" transform="rotate(15 1039.1 1849.9)"/>
<ellipse cx="1098.1" cy="1864.1" rx="3.12" ry="3.68" stroke-width="1.98" transform="rotate(15 1098.1 1864.1)"/>
<ellipse cx="1140" cy="1922.2" rx="3.12" ry="3.68" stroke-width="1.98" transform="rotate(15 1140 1922.2)"/>
<ellipse cx="833.2" cy="1980.8" rx="3.12" ry="3.68" stroke-width="1.98" transform="rotate(15 833.2 1980.8)"/>
<path d="M828.9,1958.1 L838.8,1959.6" stroke-width="1.54"/>
<path d="M826.1,1969.5 L836,1970" stroke-width="1.54"/>
<path d="M928.1,1884.5 C928.6,1883.3 928.8,1879.1 930.9,1877.4 C933,1875.8 937.7,1874.4 940.8,1874.6 C943.9,1874.8 947.9,1878.1 949.3,1878.8" stroke-width="2.2"/>
<path d="M1020.1,1839.2 C1020.6,1838.2 1021.1,1834.8 1023,1833.5 C1024.9,1832.2 1028.7,1831 1031.5,1831.2 C1034.3,1831.4 1038.6,1834.3 1040,1834.9" stroke-width="2.2"/>
<path d="M892.7,1904.3 C892.9,1902.7 892.7,1896.3 894.1,1894.4 C895.5,1892.5 899.5,1892.4 901.2,1893 C903,1893.6 904,1897.2 904.6,1898.1" stroke-width="2.42"/>
<path d="M896.1,1902.9 C896.3,1901.9 896.4,1898.1 897.2,1897 C898.1,1895.9 900.5,1896.5 901.2,1896.4" stroke-width="1.76"/>
<path d="M987.6,1854.7 C987.8,1853 987.6,1846.7 989,1844.8 C990.4,1842.9 994.4,1842.8 996.1,1843.4 C997.9,1844 998.9,1847.7 999.5,1848.5" stroke-width="2.42"/>
<path d="M991,1853.3 C991.2,1852.3 991.2,1848.5 992.1,1847.4 C993,1846.3 995.4,1846.9 996.1,1846.8" stroke-width="1.76"/>
<path d="M1075.4,1822.2 C1075.6,1820.5 1075.4,1814.1 1076.8,1812.2 C1078.2,1810.3 1082.2,1810.2 1083.9,1810.8 C1085.7,1811.4 1086.7,1815.1 1087.3,1815.9" stroke-width="2.42"/>
<path d="M1078.8,1820.7 C1079,1819.7 1079.1,1815.9 1079.9,1814.8 C1080.8,1813.7 1083.2,1814.3 1083.9,1814.2" stroke-width="1.76"/>
<path d="M1134.9,1878.8 C1135.1,1877.2 1134.9,1870.8 1136.3,1868.9 C1137.7,1867 1141.7,1866.9 1143.4,1867.5 C1145.2,1868.1 1146.2,1871.8 1146.8,1872.6" stroke-width="2.42"/>
<path d="M1138.3,1877.4 C1138.5,1876.4 1138.6,1872.6 1139.4,1871.5 C1140.2,1870.4 1142.7,1871 1143.4,1870.9" stroke-width="1.76"/>
<g transform="translate(1016.7 1793.8) rotate(30.3)"><ellipse cx="0" cy="0" rx="5.1" ry="8.5" fill="#fff" stroke="#111" stroke-width="2.4"/><rect x="0" y="-4" width="30.9" height="8" rx="2.5" fill="#111" stroke="none"/></g>
<g transform="translate(967.7 1815.9) rotate(28.3)"><ellipse cx="0" cy="0" rx="5.1" ry="8.5" fill="#fff" stroke="#111" stroke-width="2.4"/><rect x="0" y="-4" width="31.2" height="8" rx="2.5" fill="#111" stroke="none"/></g>
<g transform="translate(875.7 1858.4) rotate(28.4)"><ellipse cx="0" cy="0" rx="5.1" ry="8.5" fill="#fff" stroke="#111" stroke-width="2.4"/><rect x="0" y="-4" width="31.1" height="8" rx="2.5" fill="#111" stroke="none"/></g>
<g transform="translate(792.9 1912.3) rotate(25.3)"><ellipse cx="0" cy="0" rx="5.1" ry="8.5" fill="#fff" stroke="#111" stroke-width="2.4"/><rect x="0" y="-4" width="31.1" height="8" rx="2.5" fill="#111" stroke="none"/></g>
<g transform="translate(1063.2 1889.3) rotate(29.1)"><ellipse cx="0" cy="0" rx="5.1" ry="8.5" fill="#fff" stroke="#111" stroke-width="2.4"/><rect x="0" y="-4" width="30.8" height="8" rx="2.5" fill="#111" stroke="none"/></g>
<g transform="translate(1100.9 2083.4) rotate(-153.1)"><rect x="0" y="-3.8" width="20.1" height="7.5" rx="2.5" fill="#111" stroke="none"/><path d="M7.7,-3.8 L0,-8.5 L0,8.5 L7.7,3.8Z" fill="#111" stroke="none"/><ellipse cx="0" cy="0" rx="5.3" ry="8.5" fill="#fff" stroke="#111" stroke-width="2.2"/><ellipse cx="0" cy="0" rx="1.7" ry="2.7" fill="none" stroke="#111" stroke-width="1.6"/></g>
<g transform="translate(1071.1 2129.6) rotate(-150.7)"><rect x="0" y="-3.8" width="20.4" height="7.5" rx="2.5" fill="#111" stroke="none"/><path d="M7.7,-3.8 L0,-8.5 L0,8.5 L7.7,3.8Z" fill="#111" stroke="none"/><ellipse cx="0" cy="0" rx="5.3" ry="8.5" fill="#fff" stroke="#111" stroke-width="2.2"/><ellipse cx="0" cy="0" rx="1.7" ry="2.7" fill="none" stroke="#111" stroke-width="1.6"/></g>
<text x="785" y="1811.4" textLength="121.3" lengthAdjust="spacingAndGlyphs">AXI235169</text>
<path class="ld" d="M1011.6,1793.8 L891.2,1820.7 L962.1,1815.9"/>
<path class="ld" d="M881.3,1851.9 L891.2,1820.7 L797.7,1905.7"/>
<text x="940.2" y="1944" textLength="121" lengthAdjust="spacingAndGlyphs">AXI235169</text>
<path class="ld" d="M1064.1,1915.7 L1076.8,1900.1"/>
<text x="722.7" y="2052.2" textLength="121.3" lengthAdjust="spacingAndGlyphs">AXI230020</text>
<path class="ld" d="M892.7,1925.6 L854.4,2030.4 L949.3,2068.6"/>
<text x="1137.7" y="2100.4" textLength="121.8" lengthAdjust="spacingAndGlyphs">AXI235169</text>
<path class="ld" d="M1108,2086.2 L1127.8,2092.7 L1076.8,2122.5"/>
<g transform="translate(746.7 1774) rotate(-111) scale(1.0)" stroke-width="2"><path d="M0,0 L0.5,31.7"/><path d="M-2.6,1 L-2.2,30.8"/><ellipse cx="-1.5" cy="37.4" rx="6.2" ry="7.2"/><ellipse cx="-1.5" cy="37.4" rx="3.9" ry="4.9"/><path d="M-7,3 L-5,12.3 C-9,14.1 -9,17.6 -5,19.4 C-9,21.1 -9,24.6 -5,26.4 L-4.5,31.7"/><path d="M-9,4 L-7.2,11.4"/></g>
<path class="ld" d="M787.8,1755.6 L797.7,1740"/>
<g transform="translate(1179 1689.9) rotate(29.4)"><ellipse cx="0" cy="0" rx="5.7" ry="9.5" fill="#fff" stroke="#111" stroke-width="2.4"/><rect x="0" y="-4" width="20.8" height="8" rx="2.5" fill="#111" stroke="none"/></g>
<ellipse cx="1217.6" cy="1713.9" rx="9.09" ry="10.86" stroke-width="2.2" fill="#222" stroke="#222" transform="rotate(25 1217.6 1713.9)"/>
<ellipse cx="1220.1" cy="1713" rx="7.54" ry="9.76" stroke-width="2.42" fill="#fff" transform="rotate(25 1220.1 1713)"/>
<ellipse cx="1220.1" cy="1713.9" rx="1.44" ry="2.66" stroke-width="2.2" fill="#222" stroke="#222" transform="rotate(25 1220.1 1713.9)"/>
<path d="M1234.9,1729.8 Q1234.2,1728.2 1235.8,1727.3 L1247.1,1720.7 Q1248.7,1719.9 1248.8,1721.6 L1249.6,1729.2 Q1249.8,1730.9 1251.3,1731.8 L1269.3,1741.7 Q1270.8,1742.6 1269.6,1743.8 L1268.8,1744.7 Q1267.5,1745.9 1265.7,1746 L1262.6,1746.2 Q1260.9,1746.2 1259.2,1745.6 L1239.2,1737.2 Q1237.6,1736.5 1236.9,1734.8 Z" stroke-width="3.3" fill="#fff"/>
<path d="M1236.5,1730.9 L1260.9,1741.5 L1267.5,1742.6" stroke-width="2.2"/>
<path d="M1238.7,1735.9 L1260.9,1744.8" stroke-width="1.65"/>
<path d="M1249.3,1701.9 Q1249.2,1699.9 1250,1698.1 L1257.3,1682.3 Q1258.1,1680.5 1259.7,1679.3 L1263.1,1676.7 Q1264.7,1675.5 1266.5,1674.6 L1270.7,1672.5 Q1272.5,1671.6 1274.2,1672.6 L1309,1692.3 Q1310.7,1693.3 1312,1694.8 L1313.4,1696.7 Q1314.6,1698.2 1314.6,1700.2 L1315.1,1732.3 Q1315.2,1734.3 1313.9,1735.8 L1313.1,1736.6 Q1311.8,1738.2 1310.2,1739.2 L1304.7,1742.6 Q1303,1743.7 1301.1,1744.2 L1288.3,1747.6 Q1286.4,1748.1 1284.4,1747.7 L1282.8,1747.4 Q1280.8,1747 1279.1,1746 L1251.5,1728.7 Q1249.8,1727.6 1249.7,1725.6 Z" stroke-width="3.3" fill="#fff"/>
<path d="M1261.4,1681.1 L1300.2,1701.6" stroke-width="4.95" stroke="#222"/>
<path d="M1265.3,1675.7 L1303.6,1696.8 Q1305.2,1697.7 1306.3,1699.1 L1307.6,1700.7 Q1308.7,1702.1 1308.8,1703.9 L1309.2,1739.8" stroke-width="2.42"/>
<path d="M1300.2,1701.6 L1301.7,1705.5 Q1302.1,1706.6 1302.1,1707.7 L1302.5,1743.1" stroke-width="2.42"/>
<path d="M1300.2,1701.6 L1305.2,1697.9" stroke-width="1.98"/>
<path d="M1251.4,1700.8 L1281.9,1719.7 Q1283,1720.4 1284.2,1721 L1286.3,1722 Q1287.5,1722.6 1287.5,1724 L1287.7,1747.6" stroke-width="2.86"/>
<path d="M1252.5,1726.5 L1252.5,1709.1 Q1252.5,1708.2 1253.3,1708.7 L1278.9,1723.8 Q1279.7,1724.3 1279.7,1725.2 L1280.3,1745.4" stroke-width="1.76"/>
<path d="M1250.3,1726 L1280.8,1744.8" stroke-width="1.54"/>
<path d="M1311.3,1708.8 L1311.8,1730.9" stroke-width="4.4" stroke="#444"/>
<text x="1039.1" y="1745.3" textLength="121" lengthAdjust="spacingAndGlyphs">AXI223167</text>
<path class="ld" d="M1166.2,1719.2 L1184.7,1700.1"/>
<text x="1160" y="1805.4" textLength="122.2" lengthAdjust="spacingAndGlyphs">AXI230022</text>
<path class="ld" d="M1217,1725.3 L1234.5,1771.8 L1284.7,1747.8"/>
<text x="1535.6" y="1515.4" textLength="121.6" lengthAdjust="spacingAndGlyphs">AXI233003</text>
<path class="ld" d="M1595.6,1543.1 L1595.6,1524.6 L1389.4,1672.4"/>
<ellipse cx="1592.5" cy="1552.3" rx="6.77" ry="8.62" stroke-width="2.2" fill="#fff" transform="rotate(20 1592.5 1552.3)"/>
<ellipse cx="1592.5" cy="1552.3" rx="2.28" ry="3.62" stroke-width="2.2" transform="rotate(20 1592.5 1552.3)"/>
<ellipse cx="1385.4" cy="1682.3" rx="7.39" ry="9.23" stroke-width="2.2" fill="#fff" transform="rotate(20 1385.4 1682.3)"/>
<ellipse cx="1385.4" cy="1682.3" rx="2.48" ry="3.88" stroke-width="2.2" transform="rotate(20 1385.4 1682.3)"/>
<ellipse cx="1614.7" cy="1566.2" rx="3.08" ry="4.0" stroke-width="2.2" fill="#fff"/>
<path d="M1614.7,1562.2 L1623.3,1564 L1623.3,1571.4 L1614.7,1570.2Z" stroke-width="2.2" fill="#fff"/>
<ellipse cx="1664.2" cy="1537" rx="3.39" ry="2.77" stroke-width="2.2" fill="#fff"/>
<path d="M1660.9,1537 L1661.8,1544.7 L1668.9,1544.7 L1667.6,1537Z" stroke-width="2.2" fill="#fff"/>
<path d="M1623.3,1564.7 L1637.2,1559.1 L1644.9,1563.1 L1654.1,1559.1 L1673.2,1543.1 L1680.3,1535.4 L1693.5,1543.1 L1693.5,1552.3 L1638.7,1585.6 L1634.1,1586.2 L1620.2,1578.5 L1620.2,1569.3Z" stroke-width="2.64" fill="#fff"/>
<path d="M1623.3,1564.7 L1636.2,1572.4 L1681.8,1545.6 L1693.5,1543.1" stroke-width="1.76"/>
<path d="M1636.2,1572.4 L1637.2,1585.6" stroke-width="1.76"/>
<path d="M1639.3,1578.5 L1692.6,1549.3" stroke-width="4.4" stroke="#222"/>
<path d="M1621.8,1573.9 L1635.6,1581.6" stroke-width="3.85" stroke="#222"/>
<path d="M1673.2,1543.1 L1681.8,1545.6" stroke-width="1.54"/>
<ellipse cx="1406.9" cy="1695.5" rx="3.08" ry="4.0" stroke-width="2.2" fill="#fff"/>
<path d="M1406.9,1691.5 L1415.5,1693.3 L1415.5,1700.7 L1406.9,1699.5Z" stroke-width="2.2" fill="#fff"/>
<ellipse cx="1456.5" cy="1666.2" rx="3.39" ry="2.77" stroke-width="2.2" fill="#fff"/>
<path d="M1453.1,1666.2 L1454,1673.9 L1461.1,1673.9 L1459.9,1666.2Z" stroke-width="2.2" fill="#fff"/>
<path d="M1415.5,1693.9 L1429.4,1688.4 L1437.1,1692.4 L1446.3,1688.4 L1465.4,1672.4 L1472.5,1664.7 L1485.7,1672.4 L1485.7,1681.6 L1430.9,1714.9 L1426.3,1715.5 L1412.4,1707.8 L1412.4,1698.6Z" stroke-width="2.64" fill="#fff"/>
<path d="M1415.5,1693.9 L1428.5,1701.6 L1474,1674.9 L1485.7,1672.4" stroke-width="1.76"/>
<path d="M1428.5,1701.6 L1429.4,1714.9" stroke-width="1.76"/>
<path d="M1431.5,1707.8 L1484.8,1678.6" stroke-width="4.4" stroke="#222"/>
<path d="M1414,1703.2 L1427.8,1710.9" stroke-width="3.85" stroke="#222"/>
<path d="M1465.4,1672.4 L1474,1674.9" stroke-width="1.54"/>
<text x="1675.6" y="1607.7" textLength="122.5" lengthAdjust="spacingAndGlyphs">AXI230022</text>
<path class="ld" d="M1652.6,1578.5 L1669.5,1597 L1474,1663.8"/>
<text x="1665.8" y="1683.8" textLength="101.6" lengthAdjust="spacingAndGlyphs">AX31374</text>
<path class="ld" d="M1623.3,1673.9 L1658.7,1673.9 L1418.6,1777.1"/>
<g transform="translate(1620.8 1637.3) rotate(0) scale(1.0)" stroke-width="2"><path d="M0,0 L0.5,30.2"/><path d="M-2.6,1 L-2.2,29.4"/><ellipse cx="-1.5" cy="35.7" rx="6.2" ry="7.2"/><ellipse cx="-1.5" cy="35.7" rx="3.9" ry="4.9"/><path d="M-7,3 L-5,11.8 C-9,13.4 -9,16.8 -5,18.5 C-9,20.2 -9,23.5 -5,25.2 L-4.5,30.2"/><path d="M-9,4 L-7.2,10.9"/></g>
<g transform="translate(1414 1745) rotate(0) scale(1.0)" stroke-width="2"><path d="M0,0 L0.5,30.2"/><path d="M-2.6,1 L-2.2,29.4"/><ellipse cx="-1.5" cy="35.7" rx="6.2" ry="7.2"/><ellipse cx="-1.5" cy="35.7" rx="3.9" ry="4.9"/><path d="M-7,3 L-5,11.8 C-9,13.4 -9,16.8 -5,18.5 C-9,20.2 -9,23.5 -5,25.2 L-4.5,30.2"/><path d="M-9,4 L-7.2,10.9"/></g>
<path d="M924.5,619.9 L955.7,597.2 L964.2,596.4 L1222,744.6 L1227.6,751.6 L1227.1,763 L1192.2,784.2 L1188,780 L1188,770.1 L1159.6,764.4 L958.5,649.7 L957.1,638.3 L934.4,627 L927.3,632.7Z" stroke-width="2.64" fill="#fff"/>
<path d="M934.4,627 L933,615.7 L955.7,600.1" stroke-width="1.76"/>
<path d="M933,615.7 L1161.1,751.6 L1159.6,764.4" stroke-width="2.2"/>
<path d="M950,605.7 L1023.6,648.2" stroke-width="1.54"/>
<path d="M957.1,638.3 L1159.6,754.5" stroke-width="1.54"/>
<path d="M964.2,596.4 L1222,744.6" stroke-width="1.54"/>
<path d="M958.5,602.1 L1026.5,641.2" stroke-width="1.32"/>
<path d="M1161.1,751.6 L1188,768.6 L1224.8,748.8" stroke-width="2.2"/>
<path d="M1188,770.1 L1192.2,774.3 L1227.1,754.5" stroke-width="1.76"/>
<path d="M1019.6,643.7 Q1019.4,639.7 1023,638.2 L1025.7,637 Q1029.3,635.5 1032.7,637.5 L1076.9,663.2 Q1080.3,665.2 1077.6,668.1 L1066,680.7 Q1063.3,683.6 1059.3,683.4 L1055.9,683.3 Q1052,683.1 1048.6,681 L1024.2,665.9 Q1020.8,663.8 1020.6,659.9 Z" stroke-width="2.64" fill="#fff"/>
<path d="M1025.6,654.4 Q1025.1,651.1 1027.8,649 L1030.9,646.6 Q1033.6,644.6 1036.5,646.3 L1063.2,662.1 Q1066.1,663.8 1064.1,666.5 L1058.3,673.9 Q1056.2,676.6 1053.3,674.9 L1029.4,661.3 Q1026.5,659.6 1025.9,656.2 Z" stroke-width="1.76"/>
<ellipse cx="1054.8" cy="669.5" rx="9.63" ry="10.2" stroke-width="3.3" fill="#fff"/>
<ellipse cx="1054.8" cy="670" rx="3.97" ry="4.53" stroke-width="2.2"/>
<path d="M1039.2,666.6 C1040.2,665.4 1042.5,661 1044.9,659.6 C1047.3,658.2 1052,658.4 1053.4,658.1" stroke-width="2.2"/>
<path d="M1154.6,730.1 Q1154,726.1 1157.3,724 L1161.9,721.2 Q1165.3,719.1 1168.8,720.9 L1219.9,747 Q1223.4,748.8 1220.5,751.5 L1207.9,763.1 Q1205,765.8 1201,765.8 L1197.6,765.8 Q1193.6,765.8 1190.2,763.8 L1160.2,746.5 Q1156.8,744.6 1156.2,740.6 Z" stroke-width="2.64" fill="#fff"/>
<path d="M1162.2,737.8 Q1161.1,734.6 1163.8,732.6 L1167.7,729.6 Q1170.4,727.6 1173.4,729.2 L1204.8,745.8 Q1207.8,747.4 1205.5,749.9 L1198.7,757.6 Q1196.5,760.1 1193.5,758.5 L1166.9,744.2 Q1163.9,742.6 1162.7,739.4 Z" stroke-width="1.76"/>
<ellipse cx="1195.9" cy="748.2" rx="9.07" ry="9.63" stroke-width="3.3" fill="#fff"/>
<ellipse cx="1195.9" cy="748.8" rx="3.68" ry="4.25" stroke-width="2.2"/>
<path d="M1156.8,726.1 C1156.4,728 1154,734.2 1154.5,737.5 C1155,740.8 1158.8,744.6 1159.6,746" stroke-width="5.5" stroke="#222"/>
<path d="M1063.3,689.3 L1093.1,671.7" stroke-width="6.05" stroke="#222"/>
<path d="M1073.8,695.4 L1103.5,677.8" stroke-width="6.05" stroke="#222"/>
<path d="M1084.3,701.5 L1114,683.9" stroke-width="6.05" stroke="#222"/>
<path d="M1094.8,707.6 L1124.5,690" stroke-width="6.05" stroke="#222"/>
<path d="M1105.2,713.7 L1135,696.1" stroke-width="6.05" stroke="#222"/>
<path d="M1115.7,719.8 L1145.5,702.2" stroke-width="6.05" stroke="#222"/>
<path d="M1126.2,725.9 L1156,708.3" stroke-width="6.05" stroke="#222"/>
<path d="M1136.7,732 L1166.4,714.4" stroke-width="6.05" stroke="#222"/>
<path d="M1147.2,738 L1176.9,720.5" stroke-width="6.05" stroke="#222"/>
<path d="M1059.1,684.2 L1158.2,740.3" stroke-width="1.76"/>
<path d="M1091.6,666.6 L1188,720.5" stroke-width="1.76"/>
<path d="M951.4,517.9 L1048.6,566.9" stroke-width="5.06" stroke="#111"/>
<path d="M951.4,517.9 L1048.6,566.9" stroke-width="2.42" stroke="#fff"/>
<path d="M1013.7,547.1 L1052.5,625.6" stroke-width="5.5" stroke="#111"/>
<path d="M1013.7,547.1 L1052.5,625.6" stroke-width="2.64" stroke="#fff"/>
<ellipse cx="1058.8" cy="631.8" rx="9.07" ry="9.07" stroke-width="2.42" fill="#fff"/>
<ellipse cx="1054.8" cy="630.7" rx="6.8" ry="7.93" stroke-width="2.42" fill="#fff"/>
<ellipse cx="1054.2" cy="630.7" rx="3.68" ry="4.53" stroke-width="1.76"/>
<path d="M991.1,535.2 L1013.7,547.1" stroke-width="6.6" stroke="#111"/>
<path d="M991.6,535.5 L1012.9,546.7" stroke-width="2.75" stroke="#fff"/>
<path d="M1105.8,587.9 L1197,645.4" stroke-width="5.06" stroke="#111"/>
<path d="M1105.8,587.9 L1197,645.4" stroke-width="2.42" stroke="#fff"/>
<path d="M1163,625.6 L1193.1,707.7" stroke-width="5.5" stroke="#111"/>
<path d="M1163,625.6 L1193.1,707.7" stroke-width="2.64" stroke="#fff"/>
<ellipse cx="1199.3" cy="714" rx="9.07" ry="9.07" stroke-width="2.42" fill="#fff"/>
<ellipse cx="1195.3" cy="712.8" rx="6.8" ry="7.93" stroke-width="2.42" fill="#fff"/>
<ellipse cx="1194.8" cy="712.8" rx="3.68" ry="4.53" stroke-width="1.76"/>
<path d="M1140.4,613.7 L1163,625.6" stroke-width="6.6" stroke="#111"/>
<path d="M1140.9,614 L1162.2,625.1" stroke-width="2.75" stroke="#fff"/>
<ellipse cx="983.4" cy="692.1" rx="11.33" ry="7.37" stroke-width="2.64" fill="#fff"/>
<ellipse cx="983.4" cy="689.3" rx="11.33" ry="7.37" stroke-width="3.3" fill="#fff"/>
<ellipse cx="983.4" cy="688.7" rx="6.23" ry="3.4" stroke-width="4.4" fill="#777" stroke="#222"/>
<ellipse cx="1147.5" cy="785.6" rx="11.33" ry="7.37" stroke-width="2.64" fill="#fff"/>
<ellipse cx="1147.5" cy="782.8" rx="11.33" ry="7.37" stroke-width="3.3" fill="#fff"/>
<ellipse cx="1147.5" cy="782.2" rx="6.23" ry="3.4" stroke-width="4.4" fill="#777" stroke="#222"/>
<g transform="translate(983.4 743.1) rotate(-90.0)"><ellipse cx="0" cy="0" rx="5.1" ry="8.5" fill="#fff" stroke="#111" stroke-width="2.4"/><rect x="0" y="-3.2" width="21.2" height="6.5" rx="2.5" fill="#111" stroke="none"/></g>
<g transform="translate(1147.7 835.8) rotate(-90.0)"><ellipse cx="0" cy="0" rx="5.1" ry="8.5" fill="#fff" stroke="#111" stroke-width="2.4"/><rect x="0" y="-3.2" width="20.4" height="6.5" rx="2.5" fill="#111" stroke="none"/></g>
<g transform="translate(1233.3 714.2) rotate(14.4)"><rect x="0" y="-3.5" width="11.7" height="7" rx="2.5" fill="#111" stroke="none"/><path d="M5.4,-3.5 L0,-6 L0,6 L5.4,3.5Z" fill="#111" stroke="none"/><ellipse cx="0" cy="0" rx="3.7" ry="6" fill="#fff" stroke="#111" stroke-width="2.2"/><ellipse cx="0" cy="0" rx="1.2" ry="1.9" fill="none" stroke="#111" stroke-width="1.6"/></g>
<g transform="translate(1230.5 713.7) rotate(-166.8)"><rect x="0" y="-3" width="5.2" height="6" rx="2.5" fill="#111" stroke="none"/></g>
<g transform="translate(1301.3 751.1) rotate(13.9)"><rect x="0" y="-3.5" width="11.6" height="7" rx="2.5" fill="#111" stroke="none"/><path d="M5.4,-3.5 L0,-6 L0,6 L5.4,3.5Z" fill="#111" stroke="none"/><ellipse cx="0" cy="0" rx="3.7" ry="6" fill="#fff" stroke="#111" stroke-width="2.2"/><ellipse cx="0" cy="0" rx="1.2" ry="1.9" fill="none" stroke="#111" stroke-width="1.6"/></g>
<g transform="translate(1298.5 750.5) rotate(-161.6)"><rect x="0" y="-3" width="5.4" height="6" rx="2.5" fill="#111" stroke="none"/></g>
<text x="1020.2" y="518.5" textLength="121.8" lengthAdjust="spacingAndGlyphs">AXI230022</text>
<path class="ld" d="M1015.1,546.2 L1069,525 L1081.7,661"/>
<path class="ld" d="M1069,525 L1107.2,583.1"/>
<text x="813.4" y="705.5" textLength="121.8" lengthAdjust="spacingAndGlyphs">AXI230022</text>
<path class="ld" d="M975.5,687.9 L944.3,695 L1138.4,778.6"/>
<text x="815.4" y="753.7" textLength="121" lengthAdjust="spacingAndGlyphs">AXI235167</text>
<path class="ld" d="M978.3,735.2 L944.3,741.7 L1139.8,832.4"/>
<text x="1222.5" y="682.8" textLength="121.3" lengthAdjust="spacingAndGlyphs">AXI235097</text>
<path class="ld" d="M1242.4,714.2 L1282,690.7 L1297.9,745.4"/>
<path d="M1483.3,283.6 L1540,260.9 L1551.3,268 L1595.2,344.5 L1581.1,345.1 L1540,356.4 L1511.6,324.7Z" stroke-width="1.76" fill="#fff"/>
<path d="M1500.3,290.7 C1503.1,294.5 1511.9,305.8 1517.3,313.3 C1522.7,320.9 1530.3,332.2 1532.9,336" stroke-width="1.32"/>
<path d="M1241.1,559.2 C1241.3,556 1239.9,550.3 1242.5,540 C1245.1,529.7 1251.5,512.6 1256.7,497.5 C1261.9,482.4 1268,463.9 1273.7,449.3 C1279.4,434.7 1285.5,421 1290.7,409.7 C1295.9,398.4 1299.1,390.8 1304.8,381.3 C1310.5,371.9 1315.7,362 1324.7,353 C1333.7,344 1344.1,336.9 1358.7,327.5 C1373.3,318.1 1396.5,305.5 1412.5,296.3 C1428.5,287.1 1443.2,278.8 1455,272.2 C1466.8,265.6 1473.9,260.7 1483.3,256.7 C1492.7,252.7 1503.1,250.2 1511.6,248.2 C1520.1,246.2 1528.6,244.9 1534.3,244.8 C1540,244.7 1541.8,245.6 1545.6,247.6 C1549.4,249.6 1552.8,251.9 1557,256.7 C1561.2,261.5 1565.9,268.9 1571.1,276.5 C1576.3,284.1 1582.9,294 1588.1,302 C1593.3,310 1598.8,318.6 1602.3,324.7 C1605.8,330.8 1608.2,336.4 1609.4,338.8" stroke-width="2.86"/>
<path d="M1253.8,561.2 C1255.7,554.4 1262.4,530.2 1265.2,520.1 C1268,510 1267.5,511.2 1270.8,500.3 C1274.1,489.4 1279.3,469.2 1285,455 C1290.7,440.8 1298.2,426.6 1304.8,415.3 C1311.4,404 1318.1,394.6 1324.7,387 C1331.3,379.4 1332.2,377.6 1344.5,370 C1356.8,362.4 1382.2,351.1 1398.3,341.7 C1414.3,332.2 1426.6,322.8 1440.8,313.3 C1455,303.9 1471.5,292.6 1483.3,285 C1495.1,277.4 1504,272 1511.6,268 C1519.1,264 1523.9,262.1 1528.6,260.9 C1533.3,259.7 1536.5,259.7 1540,260.9 C1543.5,262.1 1546.1,264 1549.9,268 C1553.7,272 1557.6,277.4 1562.6,285 C1567.5,292.6 1574.9,305.3 1579.6,313.3 C1584.3,321.3 1588.4,328 1591,333.2 C1593.6,338.4 1594.5,342.6 1595.2,344.5" stroke-width="2.42"/>
<path d="M1246.7,551.3 C1249.1,543.8 1255.5,522.5 1260.9,506 C1266.3,489.5 1273.2,468.2 1279.3,452.1 C1285.4,436.1 1292,421 1297.7,409.7 C1303.4,398.4 1307.4,392.2 1313.3,384.2 C1319.2,376.2 1323.8,369.5 1333.2,361.5 C1342.7,353.5 1354.4,345.7 1370,336 C1385.6,326.3 1410.1,312.8 1426.6,303.4 C1443.1,293.9 1457.3,285.9 1469.1,279.3 C1480.9,272.7 1488.5,267.9 1497.5,263.7 C1506.5,259.4 1515.9,255.7 1523,253.8 C1530.1,251.9 1535.3,251.3 1540,252.4 C1544.7,253.5 1547,255.6 1551.3,260.1 C1555.5,264.6 1560.3,271.6 1565.5,279.3 C1570.7,287 1577.3,297.9 1582.5,306.2 C1587.7,314.5 1594.2,325.1 1596.6,328.9" stroke-width="1.54"/>
<path d="M1241.1,559.2 L1253.8,562.1" stroke-width="2.42"/>
<path d="M1609.4,338.8 L1602.3,345.9 L1578.2,338.8 L1578.2,324.7 L1581.1,319 L1595.2,330.3 L1608,340.2" stroke-width="2.2"/>
<path d="M1581.1,319 L1579.6,333.2 L1595.2,341.7" stroke-width="1.54"/>
<ellipse cx="1595.8" cy="338" rx="1.98" ry="2.55" stroke-width="1.76"/>
<path d="M1432.3,306.2 C1432.9,307.4 1434.2,312 1436,313.3 C1437.8,314.6 1441.3,315.1 1443.1,313.9 C1444.8,312.7 1445.9,307.5 1446.5,306.2" stroke-width="1.98"/>
<ellipse cx="1440.2" cy="307.7" rx="2.27" ry="2.83" stroke-width="1.76" transform="rotate(20 1440.2 307.7)"/>
<path d="M1341.7,362.9 C1342.3,364.1 1343.5,368.7 1345.3,370 C1347.1,371.3 1350.7,371.8 1352.4,370.6 C1354.2,369.4 1355.2,364.2 1355.8,362.9" stroke-width="1.98"/>
<ellipse cx="1349.6" cy="364.3" rx="2.27" ry="2.83" stroke-width="1.76" transform="rotate(20 1349.6 364.3)"/>
<ellipse cx="1537.1" cy="260.3" rx="2.27" ry="2.83" stroke-width="1.76" transform="rotate(20 1537.1 260.3)"/>
<path d="M1527.2,261.8 C1527.9,262.8 1529.1,267.2 1531.5,268 C1533.9,268.8 1539.8,266.8 1541.4,266.6" stroke-width="1.76"/>
<path d="M1270.8,500.3 C1271,503.6 1272.9,514 1272.2,520.1 C1271.5,526.2 1267.5,534.3 1266.6,537.1" stroke-width="1.76"/>
<ellipse cx="1267.4" cy="528.1" rx="1.7" ry="2.55" stroke-width="1.65" transform="rotate(10 1267.4 528.1)"/>
<path d="M1565.5,282.2 C1567.4,286 1572.9,297.7 1576.8,304.8 C1580.7,311.9 1586.7,321.4 1588.7,324.7" stroke-width="1.32"/>
<ellipse cx="1474.1" cy="438.9" rx="10.2" ry="8.5" stroke-width="2.42" fill="#fff" transform="rotate(-20 1474.1 438.9)"/>
<path d="M1484,449.4 L1477,446.8 L1471.2,430.9 L1478.1,433.4Z" fill="#fff" stroke="none"/>
<path d="M1484,449.4 L1477,446.8" stroke-width="2.42"/>
<path d="M1478.1,433.4 L1471.2,430.9" stroke-width="2.42"/>
<ellipse cx="1481" cy="441.4" rx="10.2" ry="8.5" stroke-width="2.42" fill="#fff" transform="rotate(-20 1481 441.4)"/>
<ellipse cx="1481" cy="441.4" rx="6.32" ry="5.27" stroke-width="2.42" transform="rotate(-20 1481 441.4)"/>
<path d="M1472,435.1 C1473.9,433.9 1467.2,437.5 1483.3,428.1 C1499.3,418.7 1540,395 1568.3,378.5 C1596.6,362 1637.2,338 1653.3,328.9 C1669.3,319.8 1660.8,324.6 1664.6,324.1 C1668.4,323.6 1672.2,323.7 1676,326.1 C1679.8,328.6 1681.6,330.5 1687.3,338.8 C1693,347.1 1702.9,364.8 1710,375.7 C1717.1,386.6 1724.8,397.9 1729.8,404 C1734.8,410.1 1738,411.1 1739.7,412.5" stroke-width="2.64"/>
<path d="M1491.8,447.9 L1568.3,402.6" stroke-width="2.42"/>
<path d="M1582.5,389.3 C1594.8,381.6 1641.9,350.5 1656.1,343.1 C1670.3,335.7 1663.7,344.3 1667.5,345.1 C1671.3,345.9 1672.2,340.3 1678.8,347.9 C1685.4,355.4 1700.5,380.9 1707.1,390.4 C1713.7,399.8 1716.6,402.2 1718.5,404.6" stroke-width="2.42"/>
<path d="M1486.1,435.1 C1499.8,427.1 1540,403.6 1568.3,387 C1596.6,370.4 1639.1,344.4 1656.1,335.4 C1673.1,326.4 1667.9,333.6 1670.3,333.2" stroke-width="1.43"/>
<path d="M1681.6,341.7 C1685.8,348.8 1700,373.3 1707.1,384.2 C1714.2,395.1 1721.3,403 1724.1,406.8" stroke-width="1.43"/>
<ellipse cx="1568.9" cy="381.1" rx="7.93" ry="8.5" stroke-width="2.42" fill="#fff"/>
<path d="M1574,393.2 L1568.9,389.6 L1568.9,372.6 L1574,376.2Z" fill="#fff" stroke="none"/>
<path d="M1574,393.2 L1568.9,389.6" stroke-width="2.42"/>
<path d="M1574,376.2 L1568.9,372.6" stroke-width="2.42"/>
<ellipse cx="1574" cy="384.7" rx="7.93" ry="8.5" stroke-width="2.42" fill="#fff"/>
<ellipse cx="1574" cy="384.7" rx="4.76" ry="5.1" stroke-width="2.42"/>
<ellipse cx="1668.6" cy="333.5" rx="7.93" ry="8.5" stroke-width="2.42" fill="#fff"/>
<path d="M1673.7,345.6 L1668.6,342 L1668.6,325 L1673.7,328.6Z" fill="#fff" stroke="none"/>
<path d="M1673.7,345.6 L1668.6,342" stroke-width="2.42"/>
<path d="M1673.7,328.6 L1668.6,325" stroke-width="2.42"/>
<ellipse cx="1673.7" cy="337.1" rx="7.93" ry="8.5" stroke-width="2.42" fill="#fff"/>
<ellipse cx="1673.7" cy="337.1" rx="4.76" ry="5.1" stroke-width="2.42"/>
<ellipse cx="1721.8" cy="412.1" rx="9.63" ry="10.2" stroke-width="2.42" fill="#fff"/>
<path d="M1733.8,426.6 L1721.8,422.3 L1721.8,401.9 L1733.8,406.3Z" fill="#fff" stroke="none"/>
<path d="M1733.8,426.6 L1721.8,422.3" stroke-width="2.42"/>
<path d="M1733.8,406.3 L1721.8,401.9" stroke-width="2.42"/>
<ellipse cx="1733.8" cy="416.4" rx="9.63" ry="10.2" stroke-width="2.42" fill="#fff"/>
<ellipse cx="1733.8" cy="416.4" rx="5.97" ry="6.32" stroke-width="2.42"/>
<path d="M1515.9,395.5 C1516.9,395.1 1519.8,392.7 1521.6,393.2 C1523.3,393.7 1525.6,394.6 1526.4,398.3 C1527.2,402 1526.4,412.5 1526.4,415.3" stroke-width="2.42"/>
<path d="M1517.9,398.9 C1518.7,398.8 1521.6,395.3 1522.4,398.3 C1523.2,401.3 1522.9,413.6 1523,416.7" stroke-width="1.76"/>
<path d="M1515.9,395.5 L1517.9,398.9" stroke-width="1.76"/>
<path d="M1619.3,333.2 C1620.2,332.8 1623.2,330.4 1625,330.9 C1626.8,331.4 1629,332.3 1629.8,336 C1630.6,339.7 1629.8,350.2 1629.8,353" stroke-width="2.42"/>
<path d="M1621.3,336.6 C1622,336.5 1624.9,333 1625.8,336 C1626.7,339 1626.3,351.3 1626.4,354.4" stroke-width="1.76"/>
<path d="M1619.3,333.2 L1621.3,336.6" stroke-width="1.76"/>
<path d="M1698.6,353 C1699.9,354.2 1704.6,355.8 1707.1,355.3 C1709.6,354.8 1712.2,352.9 1713.4,350.2 C1714.6,347.5 1714.8,341.5 1714.2,339.4 C1713.6,337.3 1710.8,336.1 1710,337.4 C1709.2,338.7 1710.4,345.3 1709.4,347.3 C1708.5,349.3 1706,349.5 1704.3,349.6 C1702.6,349.7 1700.2,347.3 1699.2,347.9 C1698.2,348.5 1697.3,351.8 1698.6,353Z" stroke-width="2.2" fill="#fff"/>
<g transform="translate(1742.5 378.5) rotate(-150.8)"><rect x="0" y="-3.9" width="30.1" height="7.8" rx="2.5" fill="#111" stroke="none"/><path d="M7.9,-3.9 L0,-8.8 L0,8.8 L7.9,3.9Z" fill="#111" stroke="none"/><ellipse cx="0" cy="0" rx="5.5" ry="8.8" fill="#fff" stroke="#111" stroke-width="2.2"/><ellipse cx="0" cy="0" rx="1.8" ry="2.8" fill="none" stroke="#111" stroke-width="1.6"/></g>
<g transform="translate(1619.3 409.7) rotate(-152.2)"><rect x="0" y="-3.9" width="30.4" height="7.8" rx="2.5" fill="#111" stroke="none"/><path d="M7.9,-3.9 L0,-8.8 L0,8.8 L7.9,3.9Z" fill="#111" stroke="none"/><ellipse cx="0" cy="0" rx="5.5" ry="8.8" fill="#fff" stroke="#111" stroke-width="2.2"/><ellipse cx="0" cy="0" rx="1.8" ry="2.8" fill="none" stroke="#111" stroke-width="1.6"/></g>
<g transform="translate(1776.5 442.2) rotate(-150.8)"><rect x="0" y="-3.9" width="30.1" height="7.8" rx="2.5" fill="#111" stroke="none"/><path d="M7.9,-3.9 L0,-8.8 L0,8.8 L7.9,3.9Z" fill="#111" stroke="none"/><ellipse cx="0" cy="0" rx="5.5" ry="8.8" fill="#fff" stroke="#111" stroke-width="2.2"/><ellipse cx="0" cy="0" rx="1.8" ry="2.8" fill="none" stroke="#111" stroke-width="1.6"/></g>
<g transform="translate(1526.4 466.3) rotate(-151.2)"><rect x="0" y="-3.9" width="30.5" height="7.8" rx="2.5" fill="#111" stroke="none"/><path d="M7.9,-3.9 L0,-8.8 L0,8.8 L7.9,3.9Z" fill="#111" stroke="none"/><ellipse cx="0" cy="0" rx="5.5" ry="8.8" fill="#fff" stroke="#111" stroke-width="2.2"/><ellipse cx="0" cy="0" rx="1.8" ry="2.8" fill="none" stroke="#111" stroke-width="1.6"/></g>
<g transform="translate(1333.2 565.5) rotate(-150.4)"><rect x="0" y="-3.9" width="21.3" height="7.8" rx="2.5" fill="#111" stroke="none"/><path d="M7.9,-3.9 L0,-8.8 L0,8.8 L7.9,3.9Z" fill="#111" stroke="none"/><ellipse cx="0" cy="0" rx="5.5" ry="8.8" fill="#fff" stroke="#111" stroke-width="2.2"/><ellipse cx="0" cy="0" rx="1.8" ry="2.8" fill="none" stroke="#111" stroke-width="1.6"/></g>
<ellipse cx="1291.2" cy="542" rx="9.35" ry="10.48" stroke-width="2.86" fill="#fff" transform="rotate(20 1291.2 542)"/>
<ellipse cx="1292.4" cy="542.8" rx="6.8" ry="7.93" stroke-width="3.85" stroke="#222" transform="rotate(20 1292.4 542.8)"/>
<text x="1695.2" y="277.7" textLength="121.8" lengthAdjust="spacingAndGlyphs">AXI230028</text>
<path class="ld" d="M1581.1,286.4 L1684.5,270.3 L1637.7,334.6"/>
<text x="1348.7" y="521.6" textLength="121.8" lengthAdjust="spacingAndGlyphs">AXI230028</text>
<path class="ld" d="M1338.8,514.5 L1299.2,534.3"/>
<text x="1533.7" y="531.5" textLength="121.8" lengthAdjust="spacingAndGlyphs">AXI235169</text>
<path class="ld" d="M1531.5,473.4 L1598.1,500.3 L1615.1,418.1"/>
<path class="ld" d="M1727,370 L1598.1,500.3 L1762.4,440.8"/>
<text x="1370.6" y="619.9" textLength="121.3" lengthAdjust="spacingAndGlyphs">AXI223167</text>
<path class="ld" d="M1365.7,595.2 L1337.4,569.7"/>
<path d="M1589,596.9 L1915.4,404.3 L1939.9,399.4 L1970.9,410.8 L2316.2,609.9 L2339.1,634.4 L2348.8,696.4 L2353.7,755.2 L2345.6,791.1 L2283.6,849.8 L2264,864.5 L2234.6,781.3 L2211.8,758.4 L2139.9,804.1 L1993.7,924.9 L1892.5,892.3 L1686.9,765 L1685.3,720.9 L1579.2,667 L1575.9,631.1Z" fill="#fff" stroke="none"/>
<path d="M1589,596.9 L1915.4,404.3" stroke-width="2.86"/>
<path d="M1915.4,404.3 C1917,403.8 1921.1,401.8 1925.2,401 C1929.3,400.2 1935,398.8 1939.9,399.4 C1944.8,399.9 1949.3,402.4 1954.5,404.3 C1959.7,406.2 1968.2,409.7 1970.9,410.8" stroke-width="2.86"/>
<path d="M1589,596.9 L1580.8,605 L1579.2,621.3 L1575.9,631.1 L1579.2,667 L1685.3,720.9 L1686.9,765 L1894.2,892.3 L1892.5,840" stroke-width="2.64"/>
<path d="M1892.5,840 L1993.7,900.1" stroke-width="2.2"/>
<path d="M1589,596.9 L1988.8,827" stroke-width="2.42"/>
<path d="M1584.1,603.4 L1987.8,835.1" stroke-width="1.32"/>
<path d="M1988.8,827 L1990.4,830.9 L1992.1,905.3" stroke-width="1.76"/>
<path d="M1628.1,594.6 L1902.3,438.5" stroke-width="2.2"/>
<path d="M1902.3,438.5 C1903.9,438 1908.6,436.3 1912.1,435.3 C1915.6,434.3 1919.7,433.8 1923.5,432.7 C1927.3,431.6 1928.2,431.6 1935,428.8 C1941.8,426 1959.4,417.9 1964.3,415.7" stroke-width="2.2"/>
<path d="M1633,600.1 L1903.9,444.4" stroke-width="1.32"/>
<path d="M1903.9,444.4 C1905.8,443.7 1911.9,441.3 1915.4,440.2 C1919,439.1 1921.7,439 1925.2,437.9 C1928.7,436.8 1930.2,436.2 1936.6,433.6 C1943,431 1958.9,424.1 1963.4,422.2" stroke-width="1.32"/>
<path d="M1597.1,599.1 L1900.7,433.6" stroke-width="1.32"/>
<path d="M1900.7,433.6 C1902.3,433.1 1907,431.3 1910.5,430.4 C1914,429.5 1918.1,429 1921.9,428.1 C1925.7,427.2 1925.7,427.5 1933.3,424.8 C1940.9,422.1 1961.9,414 1967.6,411.8" stroke-width="1.32"/>
<path d="M1637.9,589.3 L1633,592 Q1628.1,594.6 1633.2,597.5 L1990.3,804.4 Q1995.3,807.4 2000.4,804.5 L2225.5,675.2" stroke-width="2.42"/>
<path d="M1637.9,600.1 L1997,800.9 L2225.5,668.7" stroke-width="1.43"/>
<path d="M1652.6,611.5 L1915.4,763.3" stroke-width="1.43"/>
<path d="M1990.4,830.2 L2225.5,694.8" stroke-width="2.42"/>
<path d="M1988.8,835.1 L2225.5,700.3" stroke-width="1.32"/>
<path d="M1970.9,410.8 L2316.2,609.9" stroke-width="2.64"/>
<path d="M1967.6,415.7 L2303.1,613.2" stroke-width="1.43"/>
<path d="M1964.3,419 L2293.4,618.7" stroke-width="1.43"/>
<path d="M1963.4,419 L1963.4,526.7" stroke-width="2.2"/>
<path d="M1963.4,526.7 C1959.8,527.8 1949,530.8 1941.5,533.2 C1934,535.7 1925.1,539.2 1918.6,541.4 C1912.1,543.6 1907.2,543.8 1902.3,546.3 C1897.4,548.8 1891.5,554.5 1889.3,556.1" stroke-width="1.76"/>
<path d="M1961.1,538.1 C1957.8,538.9 1948.6,540.5 1941.5,543 C1934.4,545.5 1925.1,549 1918.6,552.8 C1912.1,556.6 1905,563.6 1902.3,565.8" stroke-width="1.43"/>
<path d="M1961.1,538.1 L2221.5,676.8" stroke-width="1.98"/>
<path d="M1655.9,614.8 L1815.8,524.1" stroke-width="1.76"/>
<path d="M1815.8,524.1 C1817.7,523.8 1822,521 1827.2,522.1 C1832.4,523.2 1843.5,529.2 1846.8,530.6" stroke-width="1.76"/>
<path d="M1846.8,530.6 L1918.6,575.6" stroke-width="1.76"/>
<path d="M1918.6,575.6 C1920.2,578.9 1924.6,587.6 1928.4,595.2 C1932.2,602.8 1937.7,615.3 1941.5,621.3 C1945.3,627.3 1950.5,628.3 1951.3,631.1 C1952.1,633.9 1947.2,637.1 1946.4,638.3" stroke-width="1.76"/>
<path d="M1646.1,609.9 L1812.6,514.3" stroke-width="1.32"/>
<path d="M1812.6,514.3 C1814.2,513.8 1818.8,511.1 1822.3,511 C1825.8,510.9 1830,511.6 1833.8,513.6 C1837.6,515.6 1843.3,521.3 1845.2,522.8" stroke-width="1.32"/>
<path d="M1765.2,676.8 C1780.2,668.6 1899.4,603 1915.4,595.2 C1931.4,587.4 1923.1,595.9 1925.2,598.5 C1927.3,601.1 1934.5,617.3 1936.6,621.3 C1938.7,625.3 1945.4,636.6 1946.4,638.3" stroke-width="1.76"/>
<path d="M1784.8,688.2 C1796.2,681.4 1834.4,659.1 1853.4,647.4 C1872.5,635.7 1887.9,626.8 1899.1,618.1 C1910.2,609.4 1916.8,599 1920.3,595.2" stroke-width="1.43"/>
<path d="M1760.3,676.8 L1784.8,688.2 L1840.3,720.9" stroke-width="1.54"/>
<path d="M1840.3,720.9 C1844.7,718.5 1856.6,713.6 1866.4,706.2 C1876.2,698.9 1888.2,686.6 1899.1,676.8 C1910,667 1923.8,653.8 1931.7,647.4 C1939.6,641 1944,639.8 1946.4,638.3" stroke-width="1.54"/>
<path d="M1846.8,529.9 L1915.4,574" stroke-width="1.32"/>
<path d="M1922.4,576.5 Q1920.3,574 1923.1,572.5 L1961.5,551.7 Q1964.3,550.2 1967.2,551.8 L1974.6,556.1 Q1977.4,557.7 1974.6,559.3 L1932.9,583.8 Q1930.1,585.4 1927.9,583 Z" stroke-width="1.98"/>
<path d="M1927.1,578.7 L1968.9,554.9" stroke-width="1.32"/>
<path d="M1942.3,605.5 Q1939.9,603.4 1942.7,601.8 L1997.4,572.3 Q2000.2,570.7 2003,572.5 L2010.5,577.2 Q2013.3,578.9 2010.5,580.6 L1955.7,613.1 Q1952.9,614.8 1950.5,612.7 Z" stroke-width="1.98"/>
<path d="M1948.3,608.1 L2004.8,575.8" stroke-width="1.32"/>
<path d="M1968.4,631.6 Q1966,629.5 1968.8,628 L2033.3,593.5 Q2036.1,592 2039.1,593.4 L2046.3,597 Q2049.2,598.5 2046.4,600.1 L1980.2,637.7 Q1977.4,639.3 1974.9,637.2 Z" stroke-width="1.98"/>
<path d="M1973.6,633.4 L2040.7,596.2" stroke-width="1.32"/>
<path d="M1860.9,734.3 Q1858.2,732.3 1861.1,730.7 L2069.2,613.1 Q2072,611.5 2074.7,613.4 L2080.8,617.8 Q2083.5,619.7 2080.6,621.3 L1874.1,740.5 Q1871.3,742.1 1868.7,740.1 Z" stroke-width="1.98"/>
<path d="M1866.7,736.2 L2075.8,616.6" stroke-width="1.32"/>
<path d="M1899.9,754 Q1897.4,751.9 1900.3,750.3 L2103.5,634.4 Q2106.3,632.8 2109,634.7 L2115.1,639 Q2117.7,640.9 2114.9,642.6 L1911.7,760.1 Q1908.8,761.7 1906.4,759.6 Z" stroke-width="1.98"/>
<path d="M1905.1,755.8 L2110.1,637.8" stroke-width="1.32"/>
<path d="M2111.1,681 Q2108,680.1 2110.5,678.1 L2141.3,654.3 Q2143.9,652.3 2146.4,654.4 L2151.1,658.4 Q2153.6,660.5 2151.1,662.6 L2126.8,682.9 Q2124.3,685 2121.1,684 Z" stroke-width="1.98"/>
<path d="M2118.1,681.6 L2146.8,657.4" stroke-width="1.32"/>
<path d="M2134.9,698.5 Q2132.4,696.4 2135.3,694.8 L2173.6,673.5 Q2176.5,671.9 2179.2,673.8 L2185.3,678.2 Q2187.9,680.1 2185.1,681.8 L2146.7,704.5 Q2143.9,706.2 2141.4,704.1 Z" stroke-width="1.98"/>
<path d="M2140.1,700.3 L2180.3,677" stroke-width="1.32"/>
<path d="M1913.7,765 C1921.4,760.6 1973.9,729.3 1990.4,720.9 C2006.9,712.5 2068.2,684.8 2078.6,680.7 C2089,676.6 2087.1,677.1 2094.9,680.1 C2102.7,683.1 2150.7,708 2156.9,711.1" stroke-width="1.76"/>
<path d="M2156.9,711.1 L1997,805.8" stroke-width="1.54"/>
<path d="M1913.7,765 L1997,805.8" stroke-width="1.32"/>
<path d="M1993.7,900.1 C1995.3,898.2 1998,893.6 2003.5,889 C2009,884.4 2007.9,884.7 2026.4,872.7 C2044.9,860.7 2085.6,834.9 2114.5,817.2 C2143.4,799.5 2185.8,775 2200,766.6" stroke-width="1.98"/>
<ellipse cx="1611.8" cy="595.2" rx="1.14" ry="1.14" stroke-width="2.75"/>
<ellipse cx="1607.6" cy="647.4" rx="1.14" ry="1.14" stroke-width="2.75"/>
<ellipse cx="1936.6" cy="407.5" rx="1.14" ry="1.14" stroke-width="2.75"/>
<ellipse cx="1728.7" cy="743.7" rx="1.14" ry="1.14" stroke-width="2.75"/>
<ellipse cx="1851.1" cy="814.6" rx="1.14" ry="1.14" stroke-width="2.75"/>
<ellipse cx="1995.3" cy="817.2" rx="1.14" ry="1.14" stroke-width="2.75"/>
<ellipse cx="1964.3" cy="853.1" rx="1.14" ry="1.14" stroke-width="2.75"/>
<ellipse cx="1978" cy="611.5" rx="1.14" ry="1.14" stroke-width="2.75"/>
<ellipse cx="2057.4" cy="606.6" rx="1.14" ry="1.14" stroke-width="2.75"/>
<ellipse cx="2161.8" cy="667" rx="1.14" ry="1.14" stroke-width="2.75"/>
<ellipse cx="2116.1" cy="820.4" rx="2.28" ry="2.94" stroke-width="1.54"/>
<ellipse cx="2024.7" cy="876.6" rx="2.28" ry="2.94" stroke-width="1.54"/>
<path d="M2316.2,609.9 C2318.4,611.3 2325.5,614 2329.3,618.1 C2333.1,622.2 2336.4,626.8 2339.1,634.4 C2341.8,642 2344,653.5 2345.6,663.8 C2347.2,674.1 2348,684.4 2348.8,696.4 C2349.6,708.4 2349.7,725.8 2350.5,735.6 C2351.3,745.4 2353.4,746.5 2353.7,755.2 C2354,763.9 2353.4,781.8 2352.1,787.8 C2350.8,793.8 2346.7,790.5 2345.6,791.1" stroke-width="2.64"/>
<path d="M2283.6,631.1 L2270.5,644.2 L2139.9,716.6" stroke-width="1.76"/>
<path d="M2283.6,631.1 C2286.8,630.6 2297.4,626.3 2303.1,627.9 C2308.8,629.5 2313.2,639.5 2317.8,640.9 C2322.4,642.2 2328.7,636.8 2330.9,636" stroke-width="1.54"/>
<path d="M2330.9,637.7 L2139.9,745.4" stroke-width="1.43"/>
<path d="M2304.8,613.2 L2317.8,609.9" stroke-width="1.76"/>
<path d="M2293.4,618.7 L2283.6,631.1" stroke-width="1.54"/>
<path d="M2306.4,696.4 C2308.8,694.2 2314.6,687.2 2321.1,683.4 C2327.6,679.6 2341.5,675.2 2345.6,673.6" stroke-width="1.76"/>
<path d="M2306.4,696.4 C2306.4,704.6 2304.8,734.5 2306.4,745.4 C2308,756.3 2312.4,758.2 2316.2,761.7 C2320,765.2 2323.1,767.7 2329.3,766.6 C2335.6,765.5 2349.6,757.1 2353.7,755.2" stroke-width="1.98"/>
<path d="M2321.1,689.9 C2321.1,697.5 2319.7,726.6 2321.1,735.6 C2322.5,744.6 2324.7,743.2 2329.3,743.7 C2333.9,744.2 2345.6,739.6 2348.8,738.8" stroke-width="1.54"/>
<path d="M2139.9,804.1 C2145.3,799.2 2161.7,782 2172.6,774.7 C2183.5,767.4 2197.6,762.5 2205.2,760.1 C2212.8,757.7 2213.4,756.6 2218.3,760.1 C2223.2,763.6 2229.2,772.3 2234.6,781.3 C2240,790.3 2246,804.1 2250.9,813.9 C2255.8,823.7 2261.3,834 2264,840 C2266.7,846 2267.2,845.7 2267.2,849.8 C2267.2,853.9 2264.5,862 2264,864.5" stroke-width="2.42"/>
<path d="M2264,864.5 C2267.3,862 2276,856 2283.6,849.8 C2291.2,843.5 2301,834.1 2309.7,827 C2318.4,819.9 2330.1,813.4 2335.8,807.4 C2341.5,801.4 2342.3,796.5 2343.9,791.1 C2345.5,785.7 2345.3,777.4 2345.6,774.7" stroke-width="2.42"/>
<path d="M2139.9,794.3 C2146.4,789.9 2167.1,774.7 2179.1,768.2 C2191.1,761.7 2203.9,756.6 2211.8,755.2 C2219.7,753.9 2221,754.1 2226.4,760.1 C2231.8,766.1 2237.1,777.8 2244.4,791.1 C2251.8,804.4 2264,830.2 2270.5,840 C2277,849.8 2281.4,848.2 2283.6,849.8" stroke-width="1.43"/>
<ellipse cx="2213.4" cy="772.1" rx="2.28" ry="2.94" stroke-width="1.54"/>
<ellipse cx="2268.2" cy="849.8" rx="2.28" ry="2.94" stroke-width="1.54"/>
<ellipse cx="2318.8" cy="628.8" rx="1.14" ry="1.14" stroke-width="2.75"/>
<ellipse cx="2162.1" cy="667" rx="1.14" ry="1.14" stroke-width="2.75"/>
<text x="1914.1" y="362.8" textLength="121.1" lengthAdjust="spacingAndGlyphs">AXI230026</text>
<path class="ld" d="M1947,399.7 L1972.2,374.9 L1985.9,455.2"/>
<path d="M2249.3,523.4 L2252.6,518.5 L2280.4,515.3 L2296.7,495.7 L2309.7,494.7 L2342.4,513.6 L2453.4,575.6 L2455,583.8 L2521.9,621.3 L2528.4,629.5 L2526.8,636 L2518.6,640.9 L2499.1,636 L2443.6,627.9 L2424,626.2 L2264,539.7 L2251,539.7Z" stroke-width="2.64" fill="#fff"/>
<path d="M2251,533.2 L2265.7,533.2 L2427.2,621.3 L2443.6,621.3" stroke-width="1.76"/>
<path d="M2262.4,526 L2424,614.8" stroke-width="1.43"/>
<path d="M2275.6,524.9 Q2273.8,524.1 2275.8,524 L2329,520.9 Q2330.9,520.8 2330.1,522.6 L2320.3,544.5 Q2319.5,546.3 2317.8,545.4 Z" stroke-width="2.2"/>
<path d="M2283.8,528.6 Q2282.7,528.1 2284,528 L2325.9,525.6 Q2327.2,525.5 2326.7,526.7 L2318.9,544.2 Q2318.3,545.4 2317.1,544.8 Z" stroke-width="1.32"/>
<path d="M2334.9,557.7 Q2333.2,556.7 2333.9,554.9 L2344,527.9 Q2344.7,526 2346.4,527 L2429.5,574 Q2431.2,575 2429.2,575.2 L2378.6,581.3 Q2376.6,581.5 2374.9,580.5 Z" stroke-width="2.2"/>
<path d="M2344.1,560.6 Q2342.9,560 2343.4,558.8 L2351.4,537.3 Q2351.9,536.1 2353,536.7 L2418.2,573.6 Q2419.3,574.3 2418,574.4 L2378.1,579.2 Q2376.8,579.3 2375.7,578.7 Z" stroke-width="1.32"/>
<path d="M2388.7,589.8 Q2387.1,588.7 2389,588.4 L2434.4,582.4 Q2436.4,582.2 2435.8,584 L2427.2,612.3 Q2426.6,614.2 2424.9,613.1 Z" stroke-width="2.2"/>
<path d="M2396,593.4 Q2394.9,592.7 2396.2,592.5 L2432.1,587.8 Q2433.4,587.6 2433,588.9 L2426.1,611.3 Q2425.7,612.6 2424.6,611.8 Z" stroke-width="1.32"/>
<path d="M2449.7,600 Q2448.5,598.5 2449.3,596.7 L2453.2,587.9 Q2454,586.1 2455.7,587 L2513.7,619.7 Q2515.4,620.7 2513.5,621.2 L2500.9,624.7 Q2499.1,625.3 2497.3,624.5 L2455.8,606.4 Q2454,605.7 2452.8,604.1 Z" stroke-width="2.2"/>
<path d="M2456.2,604.1 Q2455.4,603 2456,601.8 L2459.2,594.5 Q2459.7,593.3 2460.9,594 L2506.5,619.7 Q2507.6,620.3 2506.4,620.7 L2496.1,623.5 Q2494.9,623.9 2493.7,623.4 L2460.9,609.1 Q2459.7,608.6 2459,607.6 Z" stroke-width="1.32"/>
<path d="M2288.2,513.6 Q2286.2,513.6 2287.7,512.4 L2301.7,500.5 Q2303.2,499.3 2304.9,500.3 L2325,512.6 Q2326.7,513.6 2324.7,513.6 Z" stroke-width="2.2"/>
<path d="M2293.1,515.2 Q2291.7,515.2 2292.7,514.3 L2304,504.8 Q2305,504 2306.1,504.7 L2322.2,514.5 Q2323.3,515.2 2322,515.2 Z" stroke-width="1.32"/>
<ellipse cx="2259.1" cy="520.8" rx="2.61" ry="1.96" stroke-width="1.76"/>
<ellipse cx="2339.1" cy="515.9" rx="2.61" ry="1.96" stroke-width="1.76"/>
<ellipse cx="2443.6" cy="576.3" rx="2.61" ry="1.96" stroke-width="1.76"/>
<ellipse cx="2433.8" cy="623" rx="2.61" ry="1.96" stroke-width="1.76"/>
<path d="M2424,626.2 L2424.6,640.9" stroke-width="2.2"/>
<path d="M2443.6,627.9 L2443.6,641.6" stroke-width="2.2"/>
<path d="M2424.6,640.9 C2426.1,641.7 2430.6,645.7 2433.8,645.8 C2437,645.9 2442,642.3 2443.6,641.6" stroke-width="2.2"/>
<path d="M2503,636 Q2499.1,636 2500,639.8 L2501.4,645.3 Q2502.3,649.1 2505.9,650.6 L2511.8,653.1 Q2515.4,654.6 2518.8,652.7 L2524.4,649.4 Q2527.8,647.4 2527.4,643.5 L2527.1,639.9 Q2526.8,636 2522.9,636 Z" stroke-width="2.42" fill="#fff"/>
<ellipse cx="2517" cy="647.4" rx="3.26" ry="2.61" stroke-width="1.76"/>
<path d="M2301.6,497.3 L2304.8,513.6" stroke-width="1.54"/>
<path d="M2304.8,513.6 L2293.4,507.1" stroke-width="1.32"/>
<path d="M2304.8,513.6 L2317.9,508.7" stroke-width="1.32"/>
<g transform="translate(2257.5 422.2) rotate(87.4)"><rect x="0" y="-4" width="21.9" height="8" rx="2.5" fill="#111" stroke="none"/></g>
<ellipse cx="2257.5" cy="420.6" rx="7.83" ry="5.55" stroke-width="2.42" fill="#fff"/>
<ellipse cx="2257.5" cy="419.6" rx="3.26" ry="2.28" stroke-width="1.65"/>
<g transform="translate(2338.5 414.7) rotate(87.6)"><rect x="0" y="-4" width="21.9" height="8" rx="2.5" fill="#111" stroke="none"/></g>
<ellipse cx="2338.5" cy="413.1" rx="7.83" ry="5.55" stroke-width="2.42" fill="#fff"/>
<ellipse cx="2338.5" cy="412.1" rx="3.26" ry="2.28" stroke-width="1.65"/>
<g transform="translate(2443.6 476.7) rotate(87.6)"><rect x="0" y="-4" width="21.9" height="8" rx="2.5" fill="#111" stroke="none"/></g>
<ellipse cx="2443.6" cy="475.1" rx="7.83" ry="5.55" stroke-width="2.42" fill="#fff"/>
<ellipse cx="2443.6" cy="474.1" rx="3.26" ry="2.28" stroke-width="1.65"/>
<g transform="translate(2433.8 523.4) rotate(87.6)"><rect x="0" y="-4" width="21.9" height="8" rx="2.5" fill="#111" stroke="none"/></g>
<ellipse cx="2433.8" cy="521.8" rx="7.83" ry="5.55" stroke-width="2.42" fill="#fff"/>
<ellipse cx="2433.8" cy="520.8" rx="3.26" ry="2.28" stroke-width="1.65"/>
<path class="ld" d="M2265.7,415.7 L2396.2,383.7 L2344,411.8"/>
<path class="ld" d="M2441.9,469.6 L2396.2,383.7 L2427.2,516.9"/>
<text x="2393.9" y="373.9" textLength="86.8" lengthAdjust="spacingAndGlyphs">AXA114</text>
<text x="2482.7" y="706.8" textLength="122.4" lengthAdjust="spacingAndGlyphs">AXI231024</text>
<path class="ld" d="M2476.2,681.7 L2441.9,644.2"/>
<text x="2555.2" y="418.9" textLength="121.8" lengthAdjust="spacingAndGlyphs">AXI230029</text>
<path class="ld" d="M2590.4,559.3 L2625.7,428.8 L2662.3,490.8"/>
<path class="ld" d="M2625.7,428.8 L2724.3,461.4"/>
<path d="M2719.4,481 L2727.5,440.2 L2737.3,435.3 L2766.7,448.3 L2774.9,464.7 L2776.5,513.6 L2727.5,529.9 L2720.4,520.1Z" stroke-width="2.64" fill="#fff"/>
<path d="M2727.5,440.2 C2727.8,444.8 2726.8,464.1 2729.2,467.9 C2731.6,471.7 2739.8,466 2742.2,463 C2744.6,460 2744.7,453.8 2743.9,450 C2743.1,446.2 2738.4,441.8 2737.3,440.2" stroke-width="1.98"/>
<path d="M2719.4,481 L2774.9,464.7" stroke-width="1.98"/>
<path d="M2722.6,491.4 L2776.5,473.8" stroke-width="1.54"/>
<path d="M2727.5,529.9 L2724.3,494" stroke-width="1.54"/>
<path d="M2660.9,503.8 Q2660.6,500.6 2662.4,497.8 L2667.1,490.3 Q2668.8,487.5 2671.8,486.3 L2685.4,480.6 Q2688.4,479.3 2691,481.3 L2692.3,482.3 Q2694.9,484.2 2695.8,487.4 L2703.8,517 Q2704.7,520.1 2704.4,523.4 L2703.3,536.5 Q2703.1,539.7 2700.2,538.1 L2694.5,534.8 Q2691.6,533.2 2688.4,533.8 L2678.5,535.8 Q2675.3,536.5 2673.3,533.9 L2664.3,522.7 Q2662.3,520.1 2662,516.9 Z" stroke-width="2.64" fill="#fff"/>
<path d="M2681.8,468.9 Q2681.8,466.3 2684.4,465.8 L2687.4,465.2 Q2690,464.7 2691.6,466.7 L2698.2,475.6 Q2699.8,477.7 2700.1,480.3 L2701.2,491.4 Q2701.4,494 2700,491.9 L2696.3,486.4 Q2694.9,484.2 2692.8,482.7 L2690.5,480.9 Q2688.4,479.3 2685.8,480 L2684.4,480.3 Q2681.8,481 2681.8,478.4 Z" stroke-width="2.2" fill="#fff"/>
<ellipse cx="2672.7" cy="511" rx="7.18" ry="8.49" stroke-width="3.3" stroke="#222"/>
<ellipse cx="2672.7" cy="511" rx="3.92" ry="4.9" stroke-width="1.76"/>
<ellipse cx="2675.3" cy="531.6" rx="2.61" ry="2.61" stroke-width="1.76"/>
<ellipse cx="2694.9" cy="491.4" rx="2.61" ry="2.61" stroke-width="1.76"/>
<path d="M2688.4,479.3 L2691.6,500.6 L2704.7,520.1" stroke-width="1.54"/>
<path d="M2605.4,540 Q2605.1,538.1 2607,537.4 L2611.5,535.6 Q2613.3,534.8 2614.5,536.4 L2617,539.8 Q2618.2,541.4 2620,540.6 L2627.8,537.2 Q2629.6,536.5 2631.2,537.6 L2632.9,538.6 Q2634.5,539.7 2634,541.6 L2633.4,544.4 Q2632.9,546.3 2631,546.9 L2621.7,550.5 Q2619.8,551.2 2617.9,551.5 L2612,552.5 Q2610,552.8 2609,551.1 L2607.1,547.9 Q2606.1,546.3 2605.9,544.3 Z" stroke-width="2.42" fill="#fff"/>
<path d="M2618.2,541.4 L2619.8,551.2" stroke-width="1.54"/>
<path d="M2626.4,537.1 L2628,547.9" stroke-width="1.54"/>
<ellipse cx="2587.8" cy="563.2" rx="9.79" ry="10.45" stroke-width="3.3" fill="#fff" transform="rotate(15 2587.8 563.2)"/>
<ellipse cx="2589.1" cy="564.5" rx="5.88" ry="6.53" stroke-width="3.85" stroke="#222" transform="rotate(15 2589.1 564.5)"/>
<path d="M2584.6,575 Q2584.6,572.4 2587.2,572 L2594.4,571.1 Q2597,570.7 2597.1,573.3 L2597.5,581.2 Q2597.6,583.8 2595.8,585.6 L2593.9,587.5 Q2592.1,589.3 2589.8,588.1 L2586.9,586.6 Q2584.6,585.4 2584.6,582.8 Z" stroke-width="2.42" fill="#fff"/>
<ellipse cx="2591.4" cy="582.8" rx="2.28" ry="2.28" stroke-width="1.65"/>
<g transform="translate(2640.1 520.8) rotate(-24.5)"><rect x="0" y="-3.8" width="25.1" height="7.5" rx="2.5" fill="#111" stroke="none"/></g>
<ellipse cx="2640.1" cy="520.8" rx="4.9" ry="5.55" stroke-width="2.64" fill="#fff" transform="rotate(-25 2640.1 520.8)"/>
<ellipse cx="2640.1" cy="520.8" rx="2.28" ry="2.61" stroke-width="3.3" stroke="#222" transform="rotate(-25 2640.1 520.8)"/>
<g transform="translate(2640.1 565.8) rotate(-26.0)"><rect x="0" y="-3.8" width="25.4" height="7.5" rx="2.5" fill="#111" stroke="none"/></g>
<ellipse cx="2640.1" cy="565.8" rx="4.9" ry="5.55" stroke-width="2.64" fill="#fff" transform="rotate(-25 2640.1 565.8)"/>
<ellipse cx="2640.1" cy="565.8" rx="2.28" ry="2.61" stroke-width="3.3" stroke="#222" transform="rotate(-25 2640.1 565.8)"/>
<g transform="translate(2560.1 596.9) rotate(-26.8)"><rect x="0" y="-3.8" width="25.5" height="7.5" rx="2.5" fill="#111" stroke="none"/></g>
<ellipse cx="2560.1" cy="596.9" rx="4.9" ry="5.55" stroke-width="2.64" fill="#fff" transform="rotate(-25 2560.1 596.9)"/>
<ellipse cx="2560.1" cy="596.9" rx="2.28" ry="2.61" stroke-width="3.3" stroke="#222" transform="rotate(-25 2560.1 596.9)"/>
<text x="2666.2" y="654.6" textLength="121.8" lengthAdjust="spacingAndGlyphs">AXI235014</text>
<path class="ld" d="M2654.1,515.3 L2708,621.3 L2649.2,564.2"/>
<path class="ld" d="M2708,621.3 L2567.6,600.1"/>
<text x="2051.7" y="281.3" textLength="122" lengthAdjust="spacingAndGlyphs">AXI235014</text>
<path class="ld" d="M2180.3,305.8 L2120.5,289.9 L2180.3,349.3"/>
<path class="ld" d="M2120.5,289.9 L2137.4,386.7"/>
<text x="2426.6" y="330.1" textLength="120.9" lengthAdjust="spacingAndGlyphs">AXI230029</text>
<path class="ld" d="M2377.1,277.8 L2412.3,315.2 L2273.7,310.8"/>
<path class="ld" d="M2412.3,315.2 L2169.3,369.5"/>
<path d="M2290.2,242.4 Q2290.2,239.4 2292.2,237 L2293.8,235.1 Q2295.7,232.8 2298.4,231.3 L2340.3,207.9 Q2343,206.4 2345.7,207.8 L2371.1,221.4 Q2373.8,222.9 2375.3,225.5 L2376.7,227.9 Q2378.2,230.6 2378.2,233.6 L2378.2,271.5 Q2378.2,274.5 2376,276.7 L2373.8,279 Q2371.6,281.1 2368.5,280.7 L2315.3,273.8 Q2312.2,273.4 2310,275.5 L2305.7,279.5 Q2303.4,281.6 2300.4,281 L2298.8,280.6 Q2295.7,280 2293.9,277.6 L2291.7,274.8 Q2289.8,272.3 2289.8,269.3 Z" stroke-width="2.86" fill="#fff"/>
<path d="M2295.7,276.7 C2295.1,273.8 2292.6,265.4 2292.4,259.2 C2292.2,253 2292,244.7 2294.6,239.4 C2297.2,234.1 2302.7,230.3 2307.8,227.3 C2312.9,224.3 2319.5,222.5 2325.4,221.3 C2331.3,220.1 2337.1,219.6 2343,220 C2348.9,220.4 2356,222.1 2360.6,224 C2365.2,225.9 2368.5,226.9 2370.5,231.7 C2372.5,236.5 2372.5,245.5 2372.7,252.6 C2372.9,259.7 2371.8,270.9 2371.6,274.5" stroke-width="1.43"/>
<path d="M2312.2,273.4 L2316.6,275.6" stroke-width="1.54"/>
<path d="M2228.2,292.5 Q2226.5,289.9 2226.7,286.9 L2227.3,279.8 Q2227.6,276.7 2230.7,276.7 L2238.8,276.7 Q2241.9,276.7 2244.9,277.5 L2260.9,281.5 Q2263.9,282.2 2266,284.4 L2271.6,290 Q2273.7,292.1 2273.7,295.2 L2273.7,330.8 Q2273.7,333.9 2271.2,335.6 L2269.7,336.6 Q2267.2,338.3 2264.4,336.8 L2257.8,333.2 Q2255.1,331.7 2253.3,329.2 Z" stroke-width="2.42" fill="#fff"/>
<path d="M2212.2,305.5 Q2212.2,302 2214.9,299.8 L2223.8,292.2 Q2226.5,289.9 2229.8,288.8 L2236.3,286.7 Q2239.7,285.5 2241.8,288.4 L2250.7,300.3 Q2252.9,303.1 2253.1,306.6 L2254.8,328.2 Q2255.1,331.7 2251.7,332.8 L2240.8,336.2 Q2237.5,337.2 2234.5,339.1 L2231.7,340.8 Q2228.7,342.7 2225.7,340.8 L2225,340.3 Q2222.1,338.3 2221.6,334.8 L2221.4,333 Q2221,329.5 2218.5,327 L2214.7,323.2 Q2212.2,320.7 2212.2,317.2 Z" stroke-width="2.86" fill="#fff"/>
<path d="M2233.1,283.3 C2235.3,282.9 2241.5,280.6 2246.3,281.1 C2251.1,281.7 2257.9,284.4 2261.7,286.6 C2265.5,288.8 2267.9,286.8 2269.3,294.3 C2270.8,301.8 2270.2,325.5 2270.4,331.7" stroke-width="1.43"/>
<path d="M2226.5,294.3 C2228.7,294.7 2236,294.3 2239.7,296.5 C2243.4,298.7 2246.3,302.7 2248.5,307.5 C2250.7,312.3 2252.2,322.2 2252.9,325.1" stroke-width="1.43"/>
<ellipse cx="2227.6" cy="318.1" rx="7.92" ry="9.23" stroke-width="2.86" fill="#fff"/>
<ellipse cx="2228.7" cy="318.1" rx="5.28" ry="7.04" stroke-width="2.42"/>
<ellipse cx="2230.4" cy="283.3" rx="1.76" ry="2.2" stroke-width="1.76"/>
<ellipse cx="2227.6" cy="336.6" rx="1.76" ry="2.2" stroke-width="1.76"/>
<g transform="translate(2186.9 309.3) rotate(-26.9)"><rect x="0" y="-3.8" width="23.4" height="7.5" rx="2.5" fill="#111" stroke="none"/></g>
<ellipse cx="2186.9" cy="309.3" rx="5.72" ry="6.6" stroke-width="2.64" fill="#fff" transform="rotate(-25 2186.9 309.3)"/>
<ellipse cx="2186.9" cy="309.3" rx="2.64" ry="3.08" stroke-width="3.3" stroke="#222" transform="rotate(-25 2186.9 309.3)"/>
<g transform="translate(2186.9 353.7) rotate(-26.9)"><rect x="0" y="-3.8" width="23.4" height="7.5" rx="2.5" fill="#111" stroke="none"/></g>
<ellipse cx="2186.9" cy="353.7" rx="5.72" ry="6.6" stroke-width="2.64" fill="#fff" transform="rotate(-25 2186.9 353.7)"/>
<ellipse cx="2186.9" cy="353.7" rx="2.64" ry="3.08" stroke-width="3.3" stroke="#222" transform="rotate(-25 2186.9 353.7)"/>
<g transform="translate(2130.8 394.4) rotate(-27.8)"><rect x="0" y="-3.8" width="23.6" height="7.5" rx="2.5" fill="#111" stroke="none"/></g>
<ellipse cx="2130.8" cy="394.4" rx="5.72" ry="6.6" stroke-width="2.64" fill="#fff" transform="rotate(-25 2130.8 394.4)"/>
<ellipse cx="2130.8" cy="394.4" rx="2.64" ry="3.08" stroke-width="3.3" stroke="#222" transform="rotate(-25 2130.8 394.4)"/>
<path d="M2086.2,352.1 Q2085.8,350.4 2087.4,349.7 L2091.8,347.8 Q2093.4,347.1 2094.6,348.5 L2097.8,352.4 Q2098.9,353.7 2100.4,352.7 L2108.5,347 Q2109.9,346 2111.6,346.6 L2114.9,347.6 Q2116.5,348.2 2116.2,349.9 L2115.8,352 Q2115.4,353.7 2113.9,354.5 L2103.8,359.5 Q2102.2,360.3 2100.8,361.3 L2098.2,363.2 Q2096.7,364.3 2095,363.9 L2090.8,362.9 Q2089.1,362.5 2088.6,360.8 Z" stroke-width="2.42" fill="#fff"/>
<path d="M2098.9,353.7 L2102.2,360.3" stroke-width="1.54"/>
<path d="M2106.6,348.2 L2108.8,357" stroke-width="1.54"/>
<path d="M2093.4,347.1 L2094.5,355.9" stroke-width="1.54"/>
<ellipse cx="2158.8" cy="358.5" rx="8.8" ry="9.67" stroke-width="2.86" fill="#fff" transform="rotate(15 2158.8 358.5)"/>
<ellipse cx="2160.1" cy="359.9" rx="5.72" ry="7.04" stroke-width="3.85" stroke="#222" transform="rotate(15 2160.1 359.9)"/>
<path d="M2155.2,372.4 Q2155,370.2 2157.2,370 L2163.8,369.3 Q2166,369.1 2166.2,371.3 L2166.5,376.8 Q2166.7,379 2165.3,380.7 L2164.1,382.3 Q2162.7,384 2160.7,383.2 L2158.1,382.1 Q2156.1,381.2 2155.9,379 Z" stroke-width="2.42" fill="#fff"/>
<ellipse cx="2160.9" cy="377.4" rx="1.76" ry="1.98" stroke-width="1.65"/>
<path d="M2156.6,350.4 L2158.8,370.2" stroke-width="1.76"/>
<path d="M2387.5,1251.2 C2389,1247.4 2392.5,1238.3 2396.5,1228.5 C2400.5,1218.7 2406.6,1204.4 2411.6,1192.3 C2416.6,1180.2 2421.7,1168.2 2426.7,1156.1 C2431.7,1144 2436.3,1132 2441.8,1119.9 C2447.3,1107.8 2453.9,1092.8 2459.9,1083.7 C2465.9,1074.7 2471,1071.6 2478,1065.6 C2485,1059.6 2488,1056.6 2502.1,1047.5 C2516.2,1038.4 2542.4,1023.3 2562.5,1011.2 C2582.6,999.1 2607.8,984 2622.9,975 C2638,966 2645,961.3 2653,956.9 C2661,952.5 2666.1,950.4 2671.1,948.5 C2676.1,946.6 2679.2,945.4 2683.2,945.5 C2687.2,945.6 2691.3,946.5 2695.3,949.4 C2699.3,952.3 2703.4,957.7 2707.4,963 C2711.4,968.3 2714.9,974.1 2719.4,981.1 C2723.9,988.1 2730,998.7 2734.5,1005.2 C2739,1011.7 2743.6,1015.3 2746.6,1020.3 C2749.6,1025.3 2752.1,1030.4 2752.6,1035.4 C2753.1,1040.4 2751.6,1045.5 2749.6,1050.5 C2747.6,1055.5 2744,1061.7 2740.5,1065.6 C2737,1069.5 2732,1073 2728.5,1074 C2725,1075 2720.9,1072 2719.4,1071.6" stroke-width="2.86"/>
<path d="M2719.4,1071.6 C2718.4,1069.1 2715.9,1062 2713.4,1056.5 C2710.9,1051 2707.3,1043.9 2704.3,1038.4 C2701.3,1032.9 2698.3,1027.6 2695.3,1023.3 C2692.3,1019 2689.2,1015.3 2686.2,1012.8 C2683.2,1010.3 2680.7,1008.5 2677.2,1008.2 C2673.7,1007.9 2674.1,1007.2 2665.1,1011.2 C2656.1,1015.2 2640,1023.3 2622.9,1032.4 C2605.8,1041.5 2577.6,1056.8 2562.5,1065.6 C2547.4,1074.4 2539.9,1079.2 2532.3,1085.2 C2524.8,1091.2 2522.2,1095 2517.2,1101.8 C2512.2,1108.6 2507.1,1116.9 2502.1,1125.9 C2497.1,1135 2492.1,1146 2487.1,1156.1 C2482.1,1166.2 2477,1176.2 2472,1186.3 C2467,1196.4 2461.4,1208 2456.9,1216.5 C2452.4,1225 2447.8,1231.6 2444.8,1237.6 C2441.8,1243.6 2441.3,1249.6 2438.8,1252.7 C2436.3,1255.8 2431.2,1255.7 2429.7,1256.3" stroke-width="2.64"/>
<path d="M2429.7,1256.3 L2392,1258.7 L2387.5,1251.2" stroke-width="2.64"/>
<path d="M2727,1044.4 C2724.7,1039.9 2717.7,1024.3 2713.4,1017.3 C2709.1,1010.3 2705.3,1006 2701.3,1002.2 C2697.3,998.4 2693.2,995.7 2689.2,994.7 C2685.2,993.7 2688.2,991.2 2677.2,996.2 C2666.1,1001.2 2642,1014.5 2622.9,1024.8 C2603.8,1035.1 2578.1,1049 2562.5,1058 C2546.9,1067 2537.9,1072.3 2529.3,1079.1 C2520.8,1085.9 2516.7,1091 2511.2,1098.8 C2505.7,1106.6 2501.6,1115.4 2496.1,1125.9 C2490.6,1136.5 2484,1149.5 2478,1162.1 C2472,1174.7 2465.9,1189.3 2459.9,1201.4 C2453.9,1213.5 2446.8,1227 2441.8,1234.6 C2436.8,1242.2 2438.2,1244.2 2429.7,1247.2 C2421.1,1250.2 2397,1251.8 2390.5,1252.7" stroke-width="1.54"/>
<path d="M2730,1039.9 C2727.6,1035.5 2720.3,1020.7 2715.8,1013.7 C2711.3,1006.7 2707.2,1001.5 2702.8,997.7 C2698.4,993.9 2693.7,991.6 2689.2,990.7 C2684.7,989.8 2686.8,987.5 2675.7,992.5 C2664.6,997.5 2641.8,1010.6 2622.9,1020.9 C2604,1031.2 2572.6,1048.6 2562.5,1054.1" stroke-width="1.21"/>
<path d="M2746.6,1020.3 L2731.5,1041.4 L2727,1044.4" stroke-width="1.76"/>
<path d="M2752.6,1036.9 L2736,1060.1 L2728.5,1062.6 L2719.4,1050.5" stroke-width="1.54"/>
<path d="M2354.3,985.6 C2355.8,984.4 2347.2,987.9 2363.3,978.1 C2379.4,968.3 2421.1,943.8 2450.8,926.7 C2480.5,909.6 2524.3,884.5 2541.4,875.4 C2558.5,866.3 2548.9,871.9 2553.4,872.4 C2557.9,872.9 2563,874 2568.5,878.5 C2574,883 2580.6,891.1 2586.6,899.6 C2592.6,908.1 2599.7,921.2 2604.7,929.8 C2609.7,938.3 2614.3,945.4 2616.8,950.9 C2619.3,956.4 2620.3,959.7 2619.8,963 C2619.3,966.3 2616.3,969.1 2613.8,970.5 C2611.3,971.9 2607.7,972.1 2604.7,971.1 C2601.7,970.1 2597.9,967.1 2595.7,964.5 C2593.4,961.9 2591.2,957.9 2591.2,955.4 C2591.2,952.9 2593.9,950.1 2595.7,949.4 C2597.4,948.6 2600.7,950.6 2601.7,950.9" stroke-width="2.64"/>
<path d="M2354.3,985.6 C2354.1,986.9 2351.8,990.7 2352.8,993.1 C2353.8,995.5 2357.5,998.8 2360.3,999.8 C2363.1,1000.8 2365.9,1001.1 2369.4,999.2 C2372.9,997.3 2379.4,990.4 2381.4,988.6" stroke-width="2.64"/>
<path d="M2381.4,988.6 L2447.8,947.9" stroke-width="2.42"/>
<path d="M2447.8,947.9 C2448.6,947.3 2450.8,944.9 2452.3,944.3 C2453.8,943.7 2455.1,944.7 2456.9,944.3 C2458.7,943.9 2461.2,943.2 2462.9,941.8 C2464.7,940.4 2466.7,936.8 2467.4,935.8" stroke-width="2.42"/>
<path d="M2467.4,935.8 L2541.4,891.1" stroke-width="2.42"/>
<path d="M2541.4,891.1 C2542.4,890.8 2545.4,888.8 2547.4,889.3 C2549.4,889.8 2550.9,893.8 2553.4,894.2 C2555.9,894.7 2560,892.6 2562.5,892 C2565,891.4 2565,887.2 2568.5,890.5 C2572,893.8 2578.6,903.7 2583.6,911.7 C2588.6,919.8 2595.7,932.3 2598.7,938.8 C2601.7,945.3 2601.2,948.9 2601.7,950.9" stroke-width="2.42"/>
<path d="M2364.8,984.7 L2544.4,881.5" stroke-width="1.43"/>
<path d="M2562.5,883 C2565.5,886.3 2574.6,894.3 2580.6,902.6 C2586.6,910.9 2593.7,924.2 2598.7,932.8 C2603.7,941.3 2608.8,950.4 2610.8,953.9" stroke-width="1.43"/>
<ellipse cx="2368.4" cy="990.7" rx="3.02" ry="3.62" stroke-width="1.98" transform="rotate(15 2368.4 990.7)"/>
<ellipse cx="2459.9" cy="932.8" rx="3.02" ry="3.62" stroke-width="1.98" transform="rotate(15 2459.9 932.8)"/>
<ellipse cx="2556.5" cy="886" rx="3.02" ry="3.62" stroke-width="1.98" transform="rotate(15 2556.5 886)"/>
<ellipse cx="2612.3" cy="963" rx="3.02" ry="3.62" stroke-width="1.98" transform="rotate(15 2612.3 963)"/>
<path d="M2393.5,950.9 C2393.5,949.1 2392.5,942.4 2393.5,940.3 C2394.5,938.2 2397.6,938.1 2399.5,938.2 C2401.4,938.4 2404.1,940.7 2405,941.2" stroke-width="2.42"/>
<path d="M2397.1,948.5 C2397.2,947.5 2396.8,943.3 2397.7,942.4 C2398.6,941.5 2401.8,942.9 2402.6,943" stroke-width="1.76"/>
<path d="M2497.6,890.5 C2497.6,888.8 2496.6,882.1 2497.6,880 C2498.6,877.9 2501.7,877.8 2503.6,877.9 C2505.5,878 2508.2,880.4 2509.1,880.9" stroke-width="2.42"/>
<path d="M2501.2,888.1 C2501.3,887.1 2500.9,883 2501.8,882.1 C2502.7,881.2 2505.9,882.6 2506.7,882.7" stroke-width="1.76"/>
<path d="M2449.3,929.8 C2449.3,928 2448.3,921.3 2449.3,919.2 C2450.3,917.1 2453.5,917 2455.4,917.1 C2457.3,917.2 2459.9,919.6 2460.8,920.1" stroke-width="2.42"/>
<path d="M2452.9,927.4 C2453,926.4 2452.7,922.2 2453.6,921.3 C2454.5,920.4 2457.6,921.8 2458.4,921.9" stroke-width="1.76"/>
<path d="M2582.1,890.5 C2582.6,889.2 2583.3,884 2585.1,883 C2586.9,882 2590.4,883.4 2592.7,884.5 C2595,885.6 2597.7,889 2598.7,889.9" stroke-width="2.42"/>
<g transform="translate(2502.1 854.3) rotate(27.1)"><ellipse cx="0" cy="0" rx="5.1" ry="8.5" fill="#fff" stroke="#111" stroke-width="2.4"/><rect x="0" y="-4" width="31.2" height="8" rx="2.5" fill="#111" stroke="none"/></g>
<g transform="translate(2408.6 902.6) rotate(27.7)"><ellipse cx="0" cy="0" rx="5.1" ry="8.5" fill="#fff" stroke="#111" stroke-width="2.4"/><rect x="0" y="-4" width="30.6" height="8" rx="2.5" fill="#111" stroke="none"/></g>
<g transform="translate(2316.5 959.3) rotate(29.5)"><ellipse cx="0" cy="0" rx="5.1" ry="8.5" fill="#fff" stroke="#111" stroke-width="2.4"/><rect x="0" y="-4" width="31.9" height="8" rx="2.5" fill="#111" stroke="none"/></g>
<g transform="translate(2553.4 929.2) rotate(25.9)"><ellipse cx="0" cy="0" rx="5.1" ry="8.5" fill="#fff" stroke="#111" stroke-width="2.4"/><rect x="0" y="-4" width="31.6" height="8" rx="2.5" fill="#111" stroke="none"/></g>
<g transform="translate(2327.1 1177.2) rotate(27.0)"><ellipse cx="0" cy="0" rx="5.1" ry="8.5" fill="#fff" stroke="#111" stroke-width="2.4"/><rect x="0" y="-4" width="22.7" height="8" rx="2.5" fill="#111" stroke="none"/></g>
<ellipse cx="2362.7" cy="1197.8" rx="9.05" ry="9.66" stroke-width="2.86" fill="#fff" transform="rotate(20 2362.7 1197.8)"/>
<ellipse cx="2363.3" cy="1198.4" rx="5.43" ry="6.04" stroke-width="4.4" fill="#888" stroke="#222" transform="rotate(20 2363.3 1198.4)"/>
<text x="2212.4" y="896.6" textLength="122.2" lengthAdjust="spacingAndGlyphs">AXI235169</text>
<path class="ld" d="M2496.1,855.8 L2340.7,896.6 L2402.6,904.1"/>
<path class="ld" d="M2340.7,896.6 L2318.1,953.9"/>
<text x="2450.8" y="988.3" textLength="122.2" lengthAdjust="spacingAndGlyphs">AXI235169</text>
<path class="ld" d="M2532.3,957.5 L2550.4,934.3"/>
<text x="2172.6" y="1032.4" textLength="122.2" lengthAdjust="spacingAndGlyphs">AXI230028</text>
<path class="ld" d="M2354.3,996.2 L2304.5,1017.9 L2467.4,1077"/>
<text x="2169.6" y="1144" textLength="120.7" lengthAdjust="spacingAndGlyphs">AXI223167</text>
<path class="ld" d="M2294.5,1147.7 L2324.1,1174.2"/>
<text x="2197.9" y="1228.5" textLength="122.2" lengthAdjust="spacingAndGlyphs">AXI230028</text>
<path class="ld" d="M2330.1,1212.8 L2354.9,1202.9"/>
<ellipse cx="1521.2" cy="697.5" rx="6.97" ry="8.71" stroke-width="2.2" fill="#fff" transform="rotate(-30 1521.2 697.5)"/>
<path d="M1493,705.3 L1500.3,699.5 L1519.1,689.3 L1526.4,692.2 L1529.3,702.4 L1523.5,708.2 L1877.6,895.4 L1884.8,902.7 L1886.3,909.9 L1866,923 L1857.3,923 L1850,915.7 L1752.8,885.3 L1745.5,885.3 L1738.3,880.9 L1735.4,872.2 L1628,814.1 L1620.7,813.6 L1614.9,808.3 L1614.9,801.1 L1500.3,716.9 L1493,711.1Z" stroke-width="2.64" fill="#fff"/>
<path d="M1503.2,712.6 L1863.1,902.7" stroke-width="1.43"/>
<path d="M1863.1,902.7 L1877.6,895.4" stroke-width="1.76"/>
<ellipse cx="1876.1" cy="902.7" rx="6.39" ry="8.71" stroke-width="1.76" transform="rotate(-30 1876.1 902.7)"/>
<path d="M1570.5,755.4 Q1569.9,753.2 1572,754.3 L1625.9,784 Q1628,785.1 1628.5,787.4 L1628.9,788.7 Q1629.4,790.9 1627.3,791.8 L1624.3,793 Q1622.2,793.8 1620.2,792.5 L1573.3,760.3 Q1571.4,759 1570.8,756.7 Z" stroke-width="2.2"/>
<path d="M1637.1,801.1 Q1636.7,798.2 1639.4,797.3 L1642.6,796.2 Q1645.4,795.3 1647.9,796.7 L1724.1,838.9 Q1726.6,840.3 1727.1,843.1 L1729.1,854.8 Q1729.6,857.7 1726.7,858.2 L1723.7,858.7 Q1720.8,859.1 1718.4,857.6 L1640.6,809.9 Q1638.1,808.3 1637.7,805.5 Z" stroke-width="2.2"/>
<path d="M1643.6,804.2 Q1643.9,802.5 1645.5,803.4 L1719.3,843.8 Q1720.8,844.6 1721.1,846.3 L1722,851.6 Q1722.3,853.3 1720.8,852.5 L1644,810.6 Q1642.5,809.8 1642.8,808.1 Z" stroke-width="1.32"/>
<path d="M1736.4,851 Q1735.4,849 1737.6,848.6 L1741.8,847.9 Q1744.1,847.5 1745.9,848.9 L1788.6,879.5 Q1790.5,880.9 1791.8,882.8 L1792.1,883.3 Q1793.4,885.3 1791.1,885 L1755.1,881.1 Q1752.8,880.9 1751.6,878.9 L1739.4,856.8 Q1738.3,854.8 1737.2,852.7 Z" stroke-width="2.2"/>
<path d="M1746.2,857.5 Q1745.5,856.2 1746.7,857.1 L1777.7,878.6 Q1778.9,879.4 1777.5,879.3 L1758.6,876.7 Q1757.1,876.5 1756.4,875.3 Z" stroke-width="1.43"/>
<ellipse cx="1500.3" cy="709.7" rx="2.61" ry="3.19" stroke-width="1.98" transform="rotate(-20 1500.3 709.7)"/>
<ellipse cx="1621.3" cy="806" rx="2.61" ry="3.19" stroke-width="1.98" transform="rotate(-20 1621.3 806)"/>
<ellipse cx="1744.1" cy="876.5" rx="2.61" ry="3.19" stroke-width="1.98" transform="rotate(-20 1744.1 876.5)"/>
<ellipse cx="1857.3" cy="915.1" rx="2.61" ry="3.19" stroke-width="1.98" transform="rotate(-20 1857.3 915.1)"/>
<path d="M1513.3,702.4 L1523.5,708.2" stroke-width="1.54"/>
<ellipse cx="1416.7" cy="755.5" rx="7.84" ry="9.87" stroke-width="2.64" fill="#fff" transform="rotate(-25 1416.7 755.5)"/>
<ellipse cx="1417.5" cy="756.1" rx="4.93" ry="6.97" stroke-width="1.76" transform="rotate(-25 1417.5 756.1)"/>
<ellipse cx="1778" cy="963.6" rx="8.71" ry="9.87" stroke-width="2.64" fill="#fff" transform="rotate(-25 1778 963.6)"/>
<ellipse cx="1777.4" cy="964.2" rx="5.51" ry="6.68" stroke-width="1.76" transform="rotate(-25 1777.4 964.2)"/>
<path d="M1423.4,748 L1503.2,802.5" stroke-width="2.42"/>
<path d="M1516.2,809.8 L1680.2,904.7" stroke-width="2.42"/>
<path d="M1691.2,912.2 L1772.5,954.9" stroke-width="2.42"/>
<path d="M1420.4,765.4 L1491.6,830.1" stroke-width="2.42"/>
<path d="M1507.5,833.9 L1532.2,863.5" stroke-width="2.2"/>
<path d="M1542.3,867 L1651.2,933.1" stroke-width="2.42"/>
<path d="M1686,939.5 L1768.7,966.5" stroke-width="2.42"/>
<path d="M1427.7,754.6 L1501.7,805.4" stroke-width="1.43"/>
<path d="M1424.8,760.4 L1491.6,818.5" stroke-width="1.43"/>
<path d="M1432.1,764.8 L1500.3,811.2" stroke-width="1.43"/>
<path d="M1517.7,815.6 L1674.4,908.5" stroke-width="1.43"/>
<path d="M1516.2,821.4 L1668.6,914.3" stroke-width="1.43"/>
<path d="M1549.6,844.6 L1648.3,905.6" stroke-width="1.43"/>
<path d="M1546.7,853.3 L1643.9,915.7" stroke-width="1.43"/>
<path d="M1552.5,849 L1645.4,909.9" stroke-width="1.43"/>
<path d="M1693.3,917.2 L1770.2,957.8" stroke-width="1.43"/>
<path d="M1690.4,923 L1764.4,960.7" stroke-width="1.43"/>
<path d="M1691.8,930.2 L1764.4,963.6" stroke-width="1.43"/>
<path d="M1490.1,814.1 L1497.4,806.9 L1513.3,808.3 L1516.2,814.1 L1509,822.3 L1508.1,833 L1500.3,835 L1491.6,830.1Z" stroke-width="2.64" fill="#fff"/>
<path d="M1490.1,814.1 L1498.8,820.5 L1509,822.3" stroke-width="1.76"/>
<path d="M1498.8,820.5 L1500.3,835" stroke-width="1.76"/>
<ellipse cx="1498.2" cy="811.8" rx="2.61" ry="2.03" stroke-width="1.76"/>
<path d="M1668,920.1 L1675.3,912.8 L1691.2,914.3 L1694.1,920.1 L1686.9,928.2 L1686,938.9 L1678.2,941 L1669.5,936Z" stroke-width="2.64" fill="#fff"/>
<path d="M1668,920.1 L1676.7,926.5 L1686.9,928.2" stroke-width="1.76"/>
<path d="M1676.7,926.5 L1678.2,941" stroke-width="1.76"/>
<ellipse cx="1676.1" cy="917.8" rx="2.61" ry="2.03" stroke-width="1.76"/>
<ellipse cx="1535.7" cy="858.3" rx="6.97" ry="8.13" stroke-width="2.42" fill="#fff" transform="rotate(-25 1535.7 858.3)"/>
<path d="M1529.3,853.3 C1529.8,852.7 1530.3,850.1 1532.2,849.6 C1534.1,849.1 1539.5,850.3 1540.9,850.4" stroke-width="1.76"/>
<ellipse cx="1659" cy="927.3" rx="7.55" ry="8.71" stroke-width="2.42" fill="#fff" transform="rotate(-25 1659 927.3)"/>
<ellipse cx="1659.9" cy="927.9" rx="3.77" ry="4.64" stroke-width="1.65" transform="rotate(-25 1659.9 927.9)"/>
<path d="M1641,895.4 L1655.5,918.6" stroke-width="2.2"/>
<path d="M1648.3,894 L1662.8,915.7" stroke-width="1.54"/>
<path d="M1548.2,844.6 L1542.3,851.9" stroke-width="1.76"/>
<path d="M1513.3,828.7 L1532.2,843.2" stroke-width="1.54"/>
<path d="M1520.6,825.8 L1546.7,840.3" stroke-width="1.54"/>
<g transform="translate(1372.6 782.8) rotate(-28.6)"><rect x="0" y="-4" width="37.6" height="8" rx="2.5" fill="#111" stroke="none"/><path d="M8.1,-4 L0,-9 L0,9 L8.1,4Z" fill="#111" stroke="none"/><ellipse cx="0" cy="0" rx="5.6" ry="9" fill="#fff" stroke="#111" stroke-width="2.2"/><ellipse cx="0" cy="0" rx="1.8" ry="2.9" fill="none" stroke="#111" stroke-width="1.6"/></g>
<g transform="translate(1490.1 880.9) rotate(-29.0)"><rect x="0" y="-4" width="37.2" height="8" rx="2.5" fill="#111" stroke="none"/><path d="M8.1,-4 L0,-9 L0,9 L8.1,4Z" fill="#111" stroke="none"/><ellipse cx="0" cy="0" rx="5.6" ry="9" fill="#fff" stroke="#111" stroke-width="2.2"/><ellipse cx="0" cy="0" rx="1.8" ry="2.9" fill="none" stroke="#111" stroke-width="1.6"/></g>
<g transform="translate(1612.9 952) rotate(-30.2)"><rect x="0" y="-4" width="37.6" height="8" rx="2.5" fill="#111" stroke="none"/><path d="M8.1,-4 L0,-9 L0,9 L8.1,4Z" fill="#111" stroke="none"/><ellipse cx="0" cy="0" rx="5.6" ry="9" fill="#fff" stroke="#111" stroke-width="2.2"/><ellipse cx="0" cy="0" rx="1.8" ry="2.9" fill="none" stroke="#111" stroke-width="1.6"/></g>
<g transform="translate(1730.1 988.3) rotate(-30.2)"><rect x="0" y="-4" width="37" height="8" rx="2.5" fill="#111" stroke="none"/><path d="M8.1,-4 L0,-9 L0,9 L8.1,4Z" fill="#111" stroke="none"/><ellipse cx="0" cy="0" rx="5.6" ry="9" fill="#fff" stroke="#111" stroke-width="2.2"/><ellipse cx="0" cy="0" rx="1.8" ry="2.9" fill="none" stroke="#111" stroke-width="1.6"/></g>
<g transform="translate(1498.8 759.9) rotate(90.0)"><rect x="0" y="-4" width="21.2" height="8" rx="2.5" fill="#111" stroke="none"/></g>
<ellipse cx="1498.8" cy="758.4" rx="8.71" ry="5.8" stroke-width="2.42" fill="#fff"/>
<ellipse cx="1498.8" cy="757.3" rx="3.48" ry="2.32" stroke-width="1.65"/>
<g transform="translate(1676.7 864.4) rotate(90.0)"><rect x="0" y="-4" width="21.1" height="8" rx="2.5" fill="#111" stroke="none"/></g>
<ellipse cx="1676.7" cy="862.9" rx="8.71" ry="5.8" stroke-width="2.42" fill="#fff"/>
<ellipse cx="1676.7" cy="861.7" rx="3.48" ry="2.32" stroke-width="1.65"/>
<text x="1401.6" y="680.7" textLength="88.5" lengthAdjust="spacingAndGlyphs">AXA114</text>
<path class="ld" d="M1493,754.6 L1453.8,689.9 L1671.5,859.1"/>
<text x="1319.7" y="971.5" textLength="122.5" lengthAdjust="spacingAndGlyphs">AXI235178</text>
<path class="ld" d="M1376,790.9 L1448.6,945.3 L1489.2,890.2"/>
<path class="ld" d="M1606.2,950.6 L1448.6,945.3 L1723.7,986.8"/>
<text x="1902.2" y="964.2" textLength="121.3" lengthAdjust="spacingAndGlyphs">AXI230027</text>
<path class="ld" d="M1864.5,925.9 L1892.1,950 L1789.1,962.2"/>
<path d="M2080.3,1627.1 C2086.7,1626.1 2110.8,1622.9 2118.7,1621.2 C2126.6,1619.5 2126.1,1617.5 2127.6,1616.8" stroke-width="2.42"/>
<path d="M2127.6,1616.8 L2378.8,1474.9" stroke-width="2.42"/>
<path d="M2378.8,1474.9 C2380.3,1473.4 2385.7,1469.3 2387.7,1466.1 C2389.7,1462.9 2390.1,1457.4 2390.6,1455.7" stroke-width="2.42"/>
<path d="M2078.8,1619.8 C2085.2,1618.3 2109.6,1613.1 2117.2,1610.9 C2124.8,1608.7 2123.4,1607.2 2124.6,1606.5" stroke-width="2.2"/>
<path d="M2124.6,1606.5 L2375.9,1466.1" stroke-width="2.2"/>
<path d="M2375.9,1466.1 C2377.4,1464.6 2383,1460.4 2384.7,1457.2 C2386.4,1454 2385.9,1448.5 2386.2,1446.8" stroke-width="2.2"/>
<path d="M2117.2,1610.9 L2120.2,1621.2" stroke-width="1.43"/>
<path d="M2376.5,1466.1 L2380.3,1474.9" stroke-width="1.43"/>
<path d="M2139.4,1551.8 L2319.7,1449.8 L2319.7,1497.1 L2312.3,1501.5 L2293.1,1511.9 L2290.1,1507.4 L2219.2,1547.3 L2217.7,1554.7 L2167.5,1582.8 L2166,1590.2 L2146.8,1599.1 L2140.9,1588.7 L2136.5,1573.9Z" stroke-width="2.2" fill="#fff"/>
<path d="M2137.9,1562.1 L2319.7,1460.1" stroke-width="1.54"/>
<path d="M2136.5,1576.9 L2319.7,1474" stroke-width="1.76"/>
<path d="M2140,1584.3 L2319.7,1481.7" stroke-width="1.43"/>
<path d="M2141.8,1590.2 L2319.7,1488.2" stroke-width="1.43"/>
<path d="M2173.4,1540.2 Q2173.4,1538.5 2174.9,1537.6 L2210.3,1517.2 Q2211.8,1516.3 2211.7,1518.1 L2210.5,1530.2 Q2210.3,1532 2208.8,1532.9 L2174.9,1552.9 Q2173.4,1553.8 2173.4,1552.1 Z" stroke-width="2.64"/>
<path d="M2245.8,1495.9 Q2245.8,1494.1 2247.3,1493.3 L2282.7,1472.9 Q2284.2,1472 2284.2,1473.7 L2284.2,1487 Q2284.2,1488.8 2282.7,1489.7 L2247.3,1510.4 Q2245.8,1511.3 2245.8,1509.5 Z" stroke-width="2.64"/>
<ellipse cx="2148.9" cy="1558.6" rx="2.07" ry="2.36" stroke-width="1.65"/>
<ellipse cx="2165.4" cy="1549.7" rx="2.07" ry="2.36" stroke-width="1.65"/>
<ellipse cx="2157.1" cy="1555.6" rx="2.07" ry="2.36" stroke-width="1.65"/>
<ellipse cx="2154.8" cy="1563.9" rx="2.07" ry="2.36" stroke-width="1.65"/>
<ellipse cx="2159.5" cy="1546.7" rx="2.07" ry="2.36" stroke-width="1.65"/>
<ellipse cx="2166" cy="1559.2" rx="2.07" ry="2.36" stroke-width="1.65"/>
<ellipse cx="2222.2" cy="1518.4" rx="2.07" ry="2.36" stroke-width="1.65"/>
<ellipse cx="2238.7" cy="1509.5" rx="2.07" ry="2.36" stroke-width="1.65"/>
<ellipse cx="2230.4" cy="1515.4" rx="2.07" ry="2.36" stroke-width="1.65"/>
<ellipse cx="2228.1" cy="1523.7" rx="2.07" ry="2.36" stroke-width="1.65"/>
<ellipse cx="2232.8" cy="1506.6" rx="2.07" ry="2.36" stroke-width="1.65"/>
<ellipse cx="2239.3" cy="1519" rx="2.07" ry="2.36" stroke-width="1.65"/>
<ellipse cx="2294.3" cy="1472" rx="2.07" ry="2.36" stroke-width="1.65"/>
<ellipse cx="2310.8" cy="1463.1" rx="2.07" ry="2.36" stroke-width="1.65"/>
<ellipse cx="2302.6" cy="1469" rx="2.07" ry="2.36" stroke-width="1.65"/>
<ellipse cx="2300.2" cy="1477.3" rx="2.07" ry="2.36" stroke-width="1.65"/>
<ellipse cx="2304.9" cy="1460.1" rx="2.07" ry="2.36" stroke-width="1.65"/>
<ellipse cx="2311.4" cy="1472.6" rx="2.07" ry="2.36" stroke-width="1.65"/>
<path d="M2171.9,1576.9 L2214.8,1553.3" stroke-width="3.3" stroke="#222"/>
<path d="M2244.3,1537 L2287.2,1513.3" stroke-width="3.3" stroke="#222"/>
<ellipse cx="2157.1" cy="1589.3" rx="2.07" ry="2.36" stroke-width="1.54"/>
<ellipse cx="2229.6" cy="1547.3" rx="2.07" ry="2.36" stroke-width="1.54"/>
<ellipse cx="2301.4" cy="1506" rx="2.07" ry="2.36" stroke-width="1.54"/>
<path d="M2089.2,1545.9 C2096.1,1545.4 2122.1,1544.2 2130.5,1542.9 C2138.9,1541.6 2137.9,1538.7 2139.4,1537.9" stroke-width="2.2"/>
<path d="M2139.4,1537.9 L2343.3,1420.2" stroke-width="2.2"/>
<path d="M2343.3,1420.2 C2344.8,1419.2 2350,1418.2 2352.2,1414.3 C2354.4,1410.4 2355.9,1399.5 2356.7,1396.6" stroke-width="2.2"/>
<path d="M2086.2,1557.7 C2094.1,1557.2 2123.7,1556.2 2133.5,1554.7 C2143.3,1553.2 2143.3,1549.8 2145.3,1548.8" stroke-width="2.2"/>
<path d="M2145.3,1548.8 L2346.3,1432.1" stroke-width="2.2"/>
<path d="M2346.3,1432.1 C2348.3,1430.6 2354.7,1428.6 2358.1,1423.2 C2361.5,1417.8 2365.5,1403.5 2367,1399.6" stroke-width="2.2"/>
<path d="M2130.5,1542.9 L2133.5,1554.7" stroke-width="1.43"/>
<path d="M2343.3,1420.2 L2347.8,1431.5" stroke-width="1.43"/>
<path d="M2069.1,1548.8 C2070.5,1546.6 2073.5,1539.7 2077.3,1535.5 C2081.1,1531.3 2087.2,1526.8 2092.1,1523.7 C2097,1520.7 2104.4,1518.3 2106.9,1517.2" stroke-width="2.64"/>
<path d="M2106.9,1517.2 L2340.4,1378.9" stroke-width="2.64"/>
<path d="M2340.4,1378.9 C2342.4,1377.9 2348.3,1373.9 2352.2,1373 C2356.1,1372.1 2360.6,1372.1 2364,1373.5 C2367.4,1374.9 2367,1374.4 2372.9,1381.2 C2378.8,1388 2394.1,1406.6 2399.5,1414.3 C2404.9,1422 2404.3,1423.4 2405.4,1427.6 C2406.5,1431.8 2405.9,1437.5 2406,1439.5" stroke-width="2.64"/>
<path d="M2084.7,1556.2 C2085.9,1554 2088.9,1546.6 2092.1,1542.9 C2095.3,1539.2 2100.4,1536.2 2103.9,1534 C2107.4,1531.8 2111.3,1530.3 2112.8,1529.6" stroke-width="2.42"/>
<path d="M2112.8,1529.6 L2343.3,1393.1" stroke-width="2.42"/>
<path d="M2343.3,1393.1 C2345,1392.7 2351,1390.2 2353.7,1390.7 C2356.4,1391.2 2358.6,1395.1 2359.6,1396" stroke-width="2.42"/>
<path d="M2367,1398.1 C2370.7,1403 2385.3,1420.7 2389.2,1427.6 C2393.1,1434.5 2390.4,1437.5 2390.6,1439.5" stroke-width="2.42"/>
<path d="M2098,1520.7 L2105.4,1533.2" stroke-width="1.43"/>
<path d="M2342.8,1378.3 L2346.3,1392.2" stroke-width="1.43"/>
<path d="M2372.9,1381.2 L2364,1395.1" stroke-width="1.43"/>
<path d="M2356.7,1392.2 L2368.5,1390.7" stroke-width="1.43"/>
<path d="M2108.4,1523.7 L2341.9,1385.4" stroke-width="1.21"/>
<path d="M2154.2,1492.1 C2154.3,1494.1 2153.6,1501.3 2154.8,1503.9 C2156,1506.5 2159.3,1507.7 2161.6,1507.7 C2163.9,1507.7 2167.2,1506 2168.4,1503.9 C2169.6,1501.8 2168.9,1496.5 2169,1495" stroke-width="2.2" fill="#fff"/>
<ellipse cx="2163.1" cy="1499.5" rx="2.96" ry="3.55" stroke-width="1.98"/>
<path d="M2154.2,1492.1 L2160.1,1488.2" stroke-width="1.76"/>
<path d="M2299,1409.3 C2299.1,1411.3 2298.4,1418.5 2299.6,1421.1 C2300.8,1423.7 2304.1,1425 2306.4,1425 C2308.7,1425 2312,1423.2 2313.2,1421.1 C2314.4,1419 2313.7,1413.8 2313.8,1412.3" stroke-width="2.2" fill="#fff"/>
<ellipse cx="2307.9" cy="1416.7" rx="2.96" ry="3.55" stroke-width="1.98"/>
<path d="M2299,1409.3 L2304.9,1405.5" stroke-width="1.76"/>
<path d="M2061.1,1615.3 C2061.2,1611.8 2061.3,1601 2062,1594.6 C2062.7,1588.2 2062.9,1582.8 2065.5,1576.9 C2068.1,1571 2073.9,1562.7 2077.3,1559.2 C2080.8,1555.8 2084.7,1556.7 2086.2,1556.2" stroke-width="2.42"/>
<path d="M2078.8,1619.8 C2078.8,1616.1 2078.5,1604.2 2078.8,1597.6 C2079.2,1590.9 2079.4,1585.8 2080.9,1579.9 C2082.4,1574 2086.6,1565.1 2087.7,1562.1" stroke-width="2.42"/>
<path d="M2061.1,1615.3 L2061.1,1631.6" stroke-width="2.42"/>
<path d="M2078.8,1619.8 L2078.8,1633.1" stroke-width="2.42"/>
<path d="M2061.1,1615.9 L2070,1619.8 L2078.8,1615.9" stroke-width="1.43"/>
<path d="M2053.7,1634.5 L2061.1,1630.1 L2084.7,1637.5 L2084.7,1643.4 L2068.5,1650.8 L2053.7,1640.4Z" stroke-width="2.42"/>
<path d="M2053.7,1634.5 L2068.5,1643.4 L2084.7,1637.5" stroke-width="1.65"/>
<path d="M2068.5,1643.4 L2068.5,1650.8" stroke-width="1.65"/>
<path d="M2044.8,1565.1 L2068.5,1553.3 L2080.3,1562.1 L2055.2,1578.4 L2046.3,1574.5Z" stroke-width="2.42" fill="#fff"/>
<ellipse cx="2052.2" cy="1571" rx="4.73" ry="5.91" stroke-width="1.98" transform="rotate(-20 2052.2 1571)"/>
<ellipse cx="2052.2" cy="1571" rx="2.36" ry="2.96" stroke-width="1.65" transform="rotate(-20 2052.2 1571)"/>
<path d="M2068.5,1553.3 L2070,1547.3" stroke-width="1.76"/>
<path d="M2386.2,1430.6 L2386.2,1458.7" stroke-width="2.2"/>
<path d="M2399.5,1429.1 L2399.5,1454.2" stroke-width="2.2"/>
<path d="M2386.2,1431.5 L2393,1435 L2399.5,1430.6" stroke-width="1.43"/>
<path d="M2402.5,1443.9 L2411.3,1449.8 L2409.9,1455.7 L2390.6,1464.6 L2384.7,1461.6" stroke-width="2.2"/>
<path d="M2378.8,1449.8 L2386.2,1447.4" stroke-width="1.76"/>
<g transform="translate(2244.3 1380.3) rotate(29.2)"><ellipse cx="0" cy="0" rx="3.9" ry="6.5" fill="#fff" stroke="#111" stroke-width="2.4"/><rect x="0" y="-3.2" width="39.6" height="6.5" rx="2.5" fill="#111" stroke="none"/></g>
<g transform="translate(2101 1463.1) rotate(30.1)"><ellipse cx="0" cy="0" rx="3.9" ry="6.5" fill="#fff" stroke="#111" stroke-width="2.4"/><rect x="0" y="-3.2" width="38.3" height="6.5" rx="2.5" fill="#111" stroke="none"/></g>
<ellipse cx="2025.6" cy="1591.1" rx="12.41" ry="13.0" stroke-width="2.64" fill="#fff"/>
<path d="M2013.2,1591.1 L2016.7,1576.9" stroke-width="2.42"/>
<path d="M2009.4,1582.8 C2009.9,1581.3 2009.8,1575.4 2012.3,1573.9 C2014.8,1572.4 2020.4,1572.4 2024.1,1573.9 C2027.8,1575.4 2032.2,1579.9 2034.5,1582.8 C2036.8,1585.7 2037.4,1589.7 2038,1591.1" stroke-width="2.64"/>
<ellipse cx="2021.8" cy="1585.2" rx="11.82" ry="11.82" stroke-width="2.42" fill="#fff"/>
<ellipse cx="2020.6" cy="1585.8" rx="7.68" ry="8.28" stroke-width="1.76"/>
<g transform="translate(1963.5 1622.7) rotate(-28.9)"><rect x="0" y="-4" width="37.9" height="8" rx="2.5" fill="#111" stroke="none"/><path d="M8.1,-4 L0,-9 L0,9 L8.1,4Z" fill="#111" stroke="none"/><ellipse cx="0" cy="0" rx="5.6" ry="9" fill="#fff" stroke="#111" stroke-width="2.2"/><ellipse cx="0" cy="0" rx="1.8" ry="2.9" fill="none" stroke="#111" stroke-width="1.6"/></g>
<ellipse cx="2069.1" cy="1682.7" rx="13.3" ry="7.09" stroke-width="2.42" fill="#fff"/>
<ellipse cx="2069.1" cy="1680.3" rx="13.3" ry="7.09" stroke-width="2.86" fill="#fff"/>
<ellipse cx="2069.1" cy="1679.8" rx="5.32" ry="2.66" stroke-width="4.4" fill="#888" stroke="#222"/>
<ellipse cx="2395.1" cy="1493.5" rx="13.3" ry="7.09" stroke-width="2.42" fill="#fff"/>
<ellipse cx="2395.1" cy="1491.2" rx="13.3" ry="7.09" stroke-width="2.86" fill="#fff"/>
<ellipse cx="2395.1" cy="1490.6" rx="5.32" ry="2.66" stroke-width="4.4" fill="#888" stroke="#222"/>
<g transform="translate(2070 1740.6) rotate(-90.0)"><ellipse cx="0" cy="0" rx="5.4" ry="9" fill="#fff" stroke="#111" stroke-width="2.4"/><rect x="0" y="-3.8" width="36.6" height="7.5" rx="2.5" fill="#111" stroke="none"/></g>
<g transform="translate(2395.1 1553.3) rotate(-90.0)"><ellipse cx="0" cy="0" rx="5.4" ry="9" fill="#fff" stroke="#111" stroke-width="2.4"/><rect x="0" y="-3.8" width="37" height="7.5" rx="2.5" fill="#111" stroke="none"/></g>
<text x="1916.3" y="1429.7" textLength="119.7" lengthAdjust="spacingAndGlyphs">AXI235231</text>
<path class="ld" d="M2239.9,1383.3 L2049.3,1418.8 L2096.6,1458.7"/>
<text x="2465.1" y="1442.1" textLength="120.6" lengthAdjust="spacingAndGlyphs">AXI230027</text>
<path class="ld" d="M2406.9,1436.5 L2452.7,1434.4 L2406.9,1488.2"/>
<text x="2421.7" y="1599.7" textLength="121.2" lengthAdjust="spacingAndGlyphs">AXI235168</text>
<path class="ld" d="M2418.7,1573.9 L2402.5,1554.7"/>
<text x="2144.7" y="1710.5" textLength="121.2" lengthAdjust="spacingAndGlyphs">AXI230027</text>
<path class="ld" d="M2034.5,1597.6 L2135,1695.1 L2083.3,1681.8"/>
<text x="1939" y="1806.6" textLength="122.1" lengthAdjust="spacingAndGlyphs">AXI235168</text>
<path class="ld" d="M1968.6,1631.6 L2009.4,1773.4 L2062,1743.9"/>
<path d="M2416.3,1491.6 L2452.9,1471.6 L2810.4,1677.8 L2785.4,1694.4 L2765.5,1702.7 L2748.9,1686.1 L2732.2,1672.8 L2466.2,1521.5 L2452.9,1514.8 L2422.9,1504.9Z" stroke-width="2.64" fill="#fff"/>
<path d="M2452.9,1471.6 L2810.4,1677.8" stroke-width="3.3"/>
<path d="M2447.9,1500.9 L2476.8,1484.2" stroke-width="1.54"/>
<path d="M2456.8,1505.9 L2485.4,1489.9" stroke-width="1.54"/>
<path d="M2459.5,1507.5 L2487.8,1491.2" stroke-width="1.21"/>
<path d="M2730.6,1669.5 L2769.5,1652.9" stroke-width="1.54"/>
<path d="M2745.5,1680.1 L2776.1,1662.2" stroke-width="1.54"/>
<path d="M2742.9,1678.1 L2773.5,1660.2" stroke-width="1.21"/>
<path d="M2489.4,1490.6 L2768.8,1652.9" stroke-width="1.32"/>
<path d="M2463.5,1513.8 L2732.2,1666.8" stroke-width="1.32"/>
<path d="M2419.6,1496.5 L2452.9,1479.2 L2472.8,1489.9" stroke-width="1.32"/>
<path d="M2765.5,1702.7 L2772.1,1696.1 L2785.4,1694.4" stroke-width="1.54"/>
<path d="M2776.1,1696.8 C2776.8,1697.3 2778.6,1700.2 2780.4,1700.1 C2782.2,1700 2786,1696.8 2787.1,1696.1" stroke-width="1.76"/>
<ellipse cx="2480.1" cy="1501.5" rx="12.64" ry="7.98" stroke-width="2.42" transform="rotate(8 2480.1 1501.5)"/>
<ellipse cx="2480.8" cy="1502.9" rx="9.98" ry="5.65" stroke-width="1.65" transform="rotate(8 2480.8 1502.9)"/>
<ellipse cx="2504.4" cy="1515.8" rx="12.64" ry="7.98" stroke-width="2.42" transform="rotate(8 2504.4 1515.8)"/>
<ellipse cx="2505.1" cy="1517.2" rx="9.98" ry="5.65" stroke-width="1.65" transform="rotate(8 2505.1 1517.2)"/>
<ellipse cx="2541" cy="1536.4" rx="12.64" ry="7.98" stroke-width="2.42" transform="rotate(8 2541 1536.4)"/>
<ellipse cx="2541.7" cy="1537.8" rx="9.98" ry="5.65" stroke-width="1.65" transform="rotate(8 2541.7 1537.8)"/>
<ellipse cx="2565.3" cy="1549.8" rx="12.64" ry="7.98" stroke-width="2.42" transform="rotate(8 2565.3 1549.8)"/>
<ellipse cx="2565.9" cy="1551.1" rx="9.98" ry="5.65" stroke-width="1.65" transform="rotate(8 2565.9 1551.1)"/>
<ellipse cx="2600.9" cy="1570.4" rx="12.64" ry="7.98" stroke-width="2.42" transform="rotate(8 2600.9 1570.4)"/>
<ellipse cx="2601.5" cy="1571.7" rx="9.98" ry="5.65" stroke-width="1.65" transform="rotate(8 2601.5 1571.7)"/>
<ellipse cx="2625.8" cy="1584.7" rx="12.64" ry="7.98" stroke-width="2.42" transform="rotate(8 2625.8 1584.7)"/>
<ellipse cx="2626.5" cy="1586" rx="9.98" ry="5.65" stroke-width="1.65" transform="rotate(8 2626.5 1586)"/>
<ellipse cx="2660.7" cy="1605.3" rx="12.64" ry="7.98" stroke-width="2.42" transform="rotate(8 2660.7 1605.3)"/>
<ellipse cx="2661.4" cy="1606.6" rx="9.98" ry="5.65" stroke-width="1.65" transform="rotate(8 2661.4 1606.6)"/>
<ellipse cx="2685.7" cy="1619.6" rx="12.64" ry="7.98" stroke-width="2.42" transform="rotate(8 2685.7 1619.6)"/>
<ellipse cx="2686.3" cy="1620.9" rx="9.98" ry="5.65" stroke-width="1.65" transform="rotate(8 2686.3 1620.9)"/>
<ellipse cx="2720.6" cy="1640.2" rx="12.64" ry="7.98" stroke-width="2.42" transform="rotate(8 2720.6 1640.2)"/>
<ellipse cx="2721.2" cy="1641.5" rx="9.98" ry="5.65" stroke-width="1.65" transform="rotate(8 2721.2 1641.5)"/>
<ellipse cx="2745.5" cy="1654.5" rx="12.64" ry="7.98" stroke-width="2.42" transform="rotate(8 2745.5 1654.5)"/>
<ellipse cx="2746.2" cy="1655.8" rx="9.98" ry="5.65" stroke-width="1.65" transform="rotate(8 2746.2 1655.8)"/>
<path d="M2515.4,1529.8 L2530.7,1521.5" stroke-width="4.95" stroke="#222"/>
<path d="M2516,1529.5 L2530,1521.8" stroke-width="1.76" stroke="#fff"/>
<path d="M2575.9,1564.4 L2591.2,1556.1" stroke-width="4.95" stroke="#222"/>
<path d="M2576.6,1564.1 L2590.5,1556.4" stroke-width="1.76" stroke="#fff"/>
<path d="M2635.8,1599 L2651.1,1590.7" stroke-width="4.95" stroke="#222"/>
<path d="M2636.4,1598.6 L2650.4,1591" stroke-width="1.76" stroke="#fff"/>
<path d="M2696.6,1634.2 L2711.9,1625.9" stroke-width="4.95" stroke="#222"/>
<path d="M2697.3,1633.9 L2711.3,1626.2" stroke-width="1.76" stroke="#fff"/>
<path d="M2271.6,1575.4 L2308.2,1555.4 L2665.7,1761.6 L2640.8,1778.2 L2620.8,1786.6 L2604.2,1769.9 L2587.6,1756.6 L2321.5,1605.3 L2308.2,1598.6 L2278.2,1588.7Z" stroke-width="2.64" fill="#fff"/>
<path d="M2308.2,1555.4 L2665.7,1761.6" stroke-width="3.3"/>
<path d="M2303.2,1584.7 L2332.1,1568" stroke-width="1.54"/>
<path d="M2312.2,1589.7 L2340.8,1573.7" stroke-width="1.54"/>
<path d="M2314.8,1591.3 L2343.1,1575" stroke-width="1.21"/>
<path d="M2585.9,1753.3 L2624.8,1736.7" stroke-width="1.54"/>
<path d="M2600.9,1763.9 L2631.5,1746" stroke-width="1.54"/>
<path d="M2598.2,1761.9 L2628.8,1744" stroke-width="1.21"/>
<path d="M2344.8,1574.4 L2624.1,1736.7" stroke-width="1.32"/>
<path d="M2318.8,1597.6 L2587.6,1750.6" stroke-width="1.32"/>
<path d="M2274.9,1580.4 L2308.2,1563.1 L2328.1,1573.7" stroke-width="1.32"/>
<path d="M2620.8,1786.6 L2627.5,1779.9 L2640.8,1778.2" stroke-width="1.54"/>
<path d="M2631.5,1780.6 C2632.2,1781.1 2634,1784 2635.8,1783.9 C2637.6,1783.8 2641.3,1780.6 2642.4,1779.9" stroke-width="1.76"/>
<ellipse cx="2335.5" cy="1585.3" rx="12.64" ry="7.98" stroke-width="2.42" transform="rotate(8 2335.5 1585.3)"/>
<ellipse cx="2336.1" cy="1586.7" rx="9.98" ry="5.65" stroke-width="1.65" transform="rotate(8 2336.1 1586.7)"/>
<ellipse cx="2359.7" cy="1599.6" rx="12.64" ry="7.98" stroke-width="2.42" transform="rotate(8 2359.7 1599.6)"/>
<ellipse cx="2360.4" cy="1601" rx="9.98" ry="5.65" stroke-width="1.65" transform="rotate(8 2360.4 1601)"/>
<ellipse cx="2396.3" cy="1620.3" rx="12.64" ry="7.98" stroke-width="2.42" transform="rotate(8 2396.3 1620.3)"/>
<ellipse cx="2397" cy="1621.6" rx="9.98" ry="5.65" stroke-width="1.65" transform="rotate(8 2397 1621.6)"/>
<ellipse cx="2420.6" cy="1633.6" rx="12.64" ry="7.98" stroke-width="2.42" transform="rotate(8 2420.6 1633.6)"/>
<ellipse cx="2421.3" cy="1634.9" rx="9.98" ry="5.65" stroke-width="1.65" transform="rotate(8 2421.3 1634.9)"/>
<ellipse cx="2456.2" cy="1654.2" rx="12.64" ry="7.98" stroke-width="2.42" transform="rotate(8 2456.2 1654.2)"/>
<ellipse cx="2456.8" cy="1655.5" rx="9.98" ry="5.65" stroke-width="1.65" transform="rotate(8 2456.8 1655.5)"/>
<ellipse cx="2481.1" cy="1668.5" rx="12.64" ry="7.98" stroke-width="2.42" transform="rotate(8 2481.1 1668.5)"/>
<ellipse cx="2481.8" cy="1669.8" rx="9.98" ry="5.65" stroke-width="1.65" transform="rotate(8 2481.8 1669.8)"/>
<ellipse cx="2516" cy="1689.1" rx="12.64" ry="7.98" stroke-width="2.42" transform="rotate(8 2516 1689.1)"/>
<ellipse cx="2516.7" cy="1690.4" rx="9.98" ry="5.65" stroke-width="1.65" transform="rotate(8 2516.7 1690.4)"/>
<ellipse cx="2541" cy="1703.4" rx="12.64" ry="7.98" stroke-width="2.42" transform="rotate(8 2541 1703.4)"/>
<ellipse cx="2541.7" cy="1704.7" rx="9.98" ry="5.65" stroke-width="1.65" transform="rotate(8 2541.7 1704.7)"/>
<ellipse cx="2575.9" cy="1724" rx="12.64" ry="7.98" stroke-width="2.42" transform="rotate(8 2575.9 1724)"/>
<ellipse cx="2576.6" cy="1725.4" rx="9.98" ry="5.65" stroke-width="1.65" transform="rotate(8 2576.6 1725.4)"/>
<ellipse cx="2600.9" cy="1738.3" rx="12.64" ry="7.98" stroke-width="2.42" transform="rotate(8 2600.9 1738.3)"/>
<ellipse cx="2601.5" cy="1739.7" rx="9.98" ry="5.65" stroke-width="1.65" transform="rotate(8 2601.5 1739.7)"/>
<path d="M2370.7,1613.6 L2386,1605.3" stroke-width="4.95" stroke="#222"/>
<path d="M2371.4,1613.3 L2385.3,1605.6" stroke-width="1.76" stroke="#fff"/>
<path d="M2431.2,1648.2 L2446.5,1639.9" stroke-width="4.95" stroke="#222"/>
<path d="M2431.9,1647.9 L2445.9,1640.2" stroke-width="1.76" stroke="#fff"/>
<path d="M2491.1,1682.8 L2506.4,1674.5" stroke-width="4.95" stroke="#222"/>
<path d="M2491.8,1682.5 L2505.7,1674.8" stroke-width="1.76" stroke="#fff"/>
<path d="M2552,1718 L2567.3,1709.7" stroke-width="4.95" stroke="#222"/>
<path d="M2552.6,1717.7 L2566.6,1710.1" stroke-width="1.76" stroke="#fff"/>
<path d="M2637.4,1922.2 C2639.6,1921.7 2647.1,1920.3 2650.7,1918.9 C2654.3,1917.5 2657.7,1914.7 2659.1,1913.9" stroke-width="2.42"/>
<path d="M2659.1,1913.9 L2911.8,1767.6" stroke-width="2.42"/>
<path d="M2911.8,1767.6 C2915.1,1767.9 2924.6,1768.2 2931.8,1769.3 C2939,1770.4 2951.2,1773.4 2955.1,1774.2" stroke-width="2.42"/>
<path d="M2644.1,1935.6 C2646,1935 2652.4,1933.6 2655.7,1932.2 C2659,1930.8 2662.6,1928 2664,1927.2" stroke-width="2.42"/>
<path d="M2664,1927.2 L2915.1,1780.9" stroke-width="2.42"/>
<path d="M2915.1,1780.9 C2917.9,1781.2 2926.5,1782 2931.8,1782.6 C2937.1,1783.1 2944.2,1783.9 2946.7,1784.2" stroke-width="2.2"/>
<path d="M2650.7,1918.9 L2655.7,1932.2" stroke-width="1.43"/>
<path d="M2911.8,1767.6 L2915.8,1780.9" stroke-width="1.43"/>
<path d="M2657.4,1922.2 L2913.5,1774.2" stroke-width="1.21"/>
<path d="M2662.4,1838.4 Q2662.4,1835.8 2664.8,1834.6 L2666.7,1833.6 Q2669,1832.4 2671.3,1831.1 L2843,1734 Q2845.3,1732.7 2846.5,1735.1 L2847.4,1736.9 Q2848.6,1739.3 2848.8,1742 L2851.8,1793.2 Q2852,1795.9 2849.8,1797.5 L2840.8,1804.2 Q2838.7,1805.8 2836.4,1807.3 L2820.9,1817.7 Q2818.7,1819.1 2816.1,1819.5 L2808,1820.5 Q2805.4,1820.8 2803.1,1822.2 L2707.9,1880.9 Q2705.6,1882.3 2704.8,1884.9 L2703.1,1889.8 Q2702.3,1892.3 2700.1,1893.8 L2684.6,1904.1 Q2682.3,1905.6 2680.1,1904.1 L2674.6,1900.4 Q2672.4,1899 2672.2,1896.3 L2670.8,1871.7 Q2670.7,1869 2669.7,1866.6 L2663.4,1851.5 Q2662.4,1849.1 2662.4,1846.4 Z" stroke-width="2.64" fill="#fff"/>
<path d="M2668.1,1841.7 Q2667.4,1839.1 2669.7,1837.8 L2839.7,1740.6 Q2842,1739.3 2842.2,1742 L2845.8,1789.9 Q2846,1792.5 2844,1794.3 L2837.3,1800.1 Q2835.3,1801.9 2833.1,1803.3 L2819.2,1812.7 Q2817,1814.2 2814.4,1814.5 L2806.4,1815.5 Q2803.7,1815.8 2801.5,1817.2 L2704.6,1876.9 Q2702.3,1878.3 2701.5,1880.9 L2699.8,1885.8 Q2699,1888.3 2696.8,1889.8 L2685.2,1897.5 Q2683,1899 2680.7,1897.6 L2678.6,1896.3 Q2676.4,1895 2676.2,1892.3 L2675.1,1870 Q2675,1867.4 2674.3,1864.8 Z" stroke-width="1.43"/>
<path d="M2704.4,1842.7 Q2704,1840.8 2705.7,1839.8 L2743.8,1820.1 Q2745.5,1819.1 2745.9,1821.1 L2748.5,1837.1 Q2748.9,1839.1 2747.2,1840.2 L2710.6,1863 Q2708.9,1864 2708.5,1862.1 Z" stroke-width="2.64"/>
<path d="M2708.6,1844.7 Q2708.3,1843.1 2709.7,1842.3 L2741.4,1825.3 Q2742.9,1824.5 2743.1,1826.1 L2744.6,1836.1 Q2744.9,1837.8 2743.4,1838.6 L2713,1857.5 Q2711.6,1858.4 2711.3,1856.8 Z" stroke-width="1.32"/>
<path d="M2775.7,1799.5 Q2775.5,1797.5 2777.2,1796.6 L2816.9,1776.8 Q2818.7,1775.9 2819,1777.9 L2821.1,1793.9 Q2821.4,1795.9 2819.6,1796.9 L2780.5,1819.8 Q2778.8,1820.8 2778.5,1818.8 Z" stroke-width="2.64"/>
<path d="M2780.1,1801.5 Q2779.8,1799.9 2781.3,1799.1 L2814.6,1782 Q2816,1781.2 2816.3,1782.9 L2817.8,1792.9 Q2818,1794.5 2816.6,1795.4 L2784.2,1814.3 Q2782.8,1815.2 2782.5,1813.5 Z" stroke-width="1.32"/>
<ellipse cx="2681.7" cy="1865.7" rx="2.0" ry="2.33" stroke-width="1.65"/>
<ellipse cx="2696.3" cy="1857.4" rx="2.0" ry="2.33" stroke-width="1.65"/>
<ellipse cx="2689" cy="1861.7" rx="2.0" ry="2.33" stroke-width="1.65"/>
<ellipse cx="2686.3" cy="1873" rx="2.0" ry="2.33" stroke-width="1.65"/>
<ellipse cx="2693" cy="1874" rx="2.0" ry="2.33" stroke-width="1.65"/>
<ellipse cx="2698.3" cy="1867.4" rx="2.0" ry="2.33" stroke-width="1.65"/>
<ellipse cx="2684" cy="1856.4" rx="2.0" ry="2.33" stroke-width="1.65"/>
<ellipse cx="2753.2" cy="1822.5" rx="2.0" ry="2.33" stroke-width="1.65"/>
<ellipse cx="2767.8" cy="1814.2" rx="2.0" ry="2.33" stroke-width="1.65"/>
<ellipse cx="2760.5" cy="1818.5" rx="2.0" ry="2.33" stroke-width="1.65"/>
<ellipse cx="2757.8" cy="1829.8" rx="2.0" ry="2.33" stroke-width="1.65"/>
<ellipse cx="2764.5" cy="1830.8" rx="2.0" ry="2.33" stroke-width="1.65"/>
<ellipse cx="2769.8" cy="1824.1" rx="2.0" ry="2.33" stroke-width="1.65"/>
<ellipse cx="2755.5" cy="1813.2" rx="2.0" ry="2.33" stroke-width="1.65"/>
<ellipse cx="2828" cy="1785.9" rx="2.0" ry="2.33" stroke-width="1.65"/>
<ellipse cx="2842.6" cy="1777.6" rx="2.0" ry="2.33" stroke-width="1.65"/>
<ellipse cx="2835.3" cy="1781.9" rx="2.0" ry="2.33" stroke-width="1.65"/>
<ellipse cx="2832.7" cy="1793.2" rx="2.0" ry="2.33" stroke-width="1.65"/>
<ellipse cx="2839.3" cy="1794.2" rx="2.0" ry="2.33" stroke-width="1.65"/>
<ellipse cx="2844.6" cy="1787.6" rx="2.0" ry="2.33" stroke-width="1.65"/>
<ellipse cx="2830.3" cy="1776.6" rx="2.0" ry="2.33" stroke-width="1.65"/>
<path d="M2692.3,1814.2 L2738.9,1789.2" stroke-width="4.4" stroke="#222"/>
<path d="M2763.8,1772.6 L2810.4,1747.6" stroke-width="4.4" stroke="#222"/>
<path d="M2669,1850.7 L2848.6,1749.3" stroke-width="1.32"/>
<path d="M2664,1844.1 L2847,1741" stroke-width="1.32"/>
<ellipse cx="2680.7" cy="1825.8" rx="2.0" ry="2.33" stroke-width="1.54"/>
<ellipse cx="2752.2" cy="1783.2" rx="2.0" ry="2.33" stroke-width="1.54"/>
<ellipse cx="2822" cy="1741" rx="2.0" ry="2.33" stroke-width="1.54"/>
<ellipse cx="2690.7" cy="1897.3" rx="2.0" ry="2.33" stroke-width="1.54"/>
<ellipse cx="2762.8" cy="1855.7" rx="2.0" ry="2.33" stroke-width="1.54"/>
<ellipse cx="2835.3" cy="1813.2" rx="2.0" ry="2.33" stroke-width="1.54"/>
<path d="M2612.5,1850.7 C2613.6,1848.2 2615.5,1840 2619.1,1835.8 C2622.7,1831.6 2629.1,1828.3 2634.1,1825.8 C2639.1,1823.3 2646.6,1821.6 2649.1,1820.8" stroke-width="2.64"/>
<path d="M2649.1,1820.8 L2871.9,1687.8" stroke-width="2.64"/>
<path d="M2871.9,1687.8 C2874.7,1687 2883.2,1683.1 2888.5,1682.8 C2893.8,1682.5 2899.6,1683.9 2903.5,1686.1 C2907.4,1688.3 2910.4,1694.4 2911.8,1696.1" stroke-width="2.64"/>
<path d="M2911.8,1696.1 C2920.1,1703.3 2952,1730.1 2961.7,1739.3 C2971.4,1748.5 2968.6,1746.3 2970,1751 C2971.4,1755.7 2970,1764.8 2970,1767.6" stroke-width="2.64"/>
<path d="M2630.8,1859.1 C2631.9,1856.6 2634.1,1848 2637.4,1844.1 C2640.7,1840.2 2648.5,1837.2 2650.7,1835.8" stroke-width="2.42"/>
<path d="M2650.7,1835.8 L2878.6,1702.7" stroke-width="2.42"/>
<path d="M2878.6,1702.7 C2880.5,1702.2 2887.1,1698.8 2890.2,1699.4 C2893.2,1700 2895.8,1705 2896.9,1706.1" stroke-width="2.42"/>
<path d="M2896.9,1706.1 C2905.2,1713 2937.3,1738.7 2946.7,1747.6 C2956.1,1756.5 2952.3,1755.7 2953.4,1759.3 C2954.5,1762.9 2953.4,1767.6 2953.4,1769.3" stroke-width="2.42"/>
<path d="M2634.1,1825.8 L2639.1,1842.4" stroke-width="1.43"/>
<path d="M2873.6,1687.8 L2878.6,1702.7" stroke-width="1.43"/>
<path d="M2911.8,1696.1 L2897.9,1706.7" stroke-width="1.43"/>
<path d="M2961.7,1739.3 L2947.7,1748.6" stroke-width="1.43"/>
<path d="M2649.7,1828.5 L2875.2,1695.4" stroke-width="1.21"/>
<path d="M2678,1800.2 C2678.4,1798.9 2679,1794 2680.7,1792.5 C2682.4,1791 2686.1,1790.3 2688,1790.9 C2689.9,1791.5 2691.6,1795.1 2692.3,1795.9" stroke-width="2.2"/>
<path d="M2819.4,1717 C2819.8,1715.7 2820.3,1711 2822,1709.4 C2823.7,1707.9 2827.4,1707.2 2829.3,1707.7 C2831.2,1708.2 2833,1711.9 2833.7,1712.7" stroke-width="2.2"/>
<path d="M2692.3,1812.5 C2692.8,1811.1 2693.6,1805.9 2695,1804.2 C2696.4,1802.5 2699.7,1802.8 2700.6,1802.5" stroke-width="2.2"/>
<path d="M2837,1727.7 C2837.4,1726.4 2838.3,1721.5 2839.6,1720 C2840.9,1718.5 2843.8,1718.9 2844.6,1718.7" stroke-width="2.2"/>
<path d="M2612.5,1850.7 C2611.7,1853.8 2608.1,1863.7 2607.5,1869 C2606.9,1874.3 2608.9,1880.1 2609.2,1882.3" stroke-width="2.42"/>
<path d="M2609.2,1882.3 L2621.8,1942.2 L2622.5,1967.1" stroke-width="2.42"/>
<path d="M2627.5,1872.4 L2637.8,1938.9 L2639.1,1968.8" stroke-width="2.42"/>
<path d="M2630.8,1859.1 C2630.1,1860.2 2627.1,1863.5 2626.5,1865.7 C2625.9,1867.9 2627.3,1871.3 2627.5,1872.4" stroke-width="2.2"/>
<path d="M2621.8,1942.2 L2629.8,1945.5 L2637.8,1938.9" stroke-width="1.43"/>
<path d="M2637.8,1938.9 L2644.1,1923.9" stroke-width="1.76"/>
<path d="M2639.1,1948.9 L2646.4,1934.9" stroke-width="1.76"/>
<path d="M2615.8,1963.8 L2623.1,1960.5" stroke-width="2.2"/>
<path d="M2639.1,1962.8 L2647.4,1965.5 L2647.4,1972.1 L2630.8,1980.1 L2615.8,1972.1 L2615.8,1963.8 L2630.8,1970.5 L2647.4,1965.5" stroke-width="2.2"/>
<path d="M2630.8,1970.5 L2630.8,1980.1" stroke-width="1.65"/>
<path d="M2590.9,1879 L2609.2,1869 L2625.8,1875.7 L2599.2,1892.3 L2590.9,1887.3Z" stroke-width="2.42" fill="#fff"/>
<ellipse cx="2596.5" cy="1884" rx="4.66" ry="5.65" stroke-width="1.98" transform="rotate(-20 2596.5 1884)"/>
<ellipse cx="2596.5" cy="1884" rx="2.0" ry="2.66" stroke-width="1.65" transform="rotate(-20 2596.5 1884)"/>
<path d="M2954.4,1769.3 L2955.1,1776.6" stroke-width="2.2"/>
<path d="M2970,1767.6 L2970,1776.6" stroke-width="2.2"/>
<path d="M2943.4,1777.6 L2953.4,1772.6" stroke-width="2.2"/>
<path d="M2970,1775.2 L2973.3,1777.6 L2971.7,1784.2 L2958.4,1789.2 L2945.1,1782.6 L2943.4,1777.6 L2958.4,1782.6 L2973.3,1777.6" stroke-width="2.2"/>
<ellipse cx="2958.4" cy="1803.2" rx="12.64" ry="6.98" stroke-width="2.42" fill="#fff"/>
<ellipse cx="2958.4" cy="1800.9" rx="12.64" ry="6.98" stroke-width="2.86" fill="#fff"/>
<ellipse cx="2958.4" cy="1800.2" rx="4.99" ry="2.66" stroke-width="3.85" fill="#888" stroke="#222"/>
<g transform="translate(2958.4 1859.1) rotate(-90.0)"><ellipse cx="0" cy="0" rx="5.4" ry="9" fill="#fff" stroke="#111" stroke-width="2.4"/><rect x="0" y="-3.8" width="36.6" height="7.5" rx="2.5" fill="#111" stroke="none"/></g>
<text x="2256" y="1839.7" textLength="120.4" lengthAdjust="spacingAndGlyphs">AXI230027</text>
<path class="ld" d="M2469.5,1692.8 L2391.3,1829.1 L2610.8,1844.1"/>
<path class="ld" d="M2391.3,1829.1 L2554.3,1889"/>
<ellipse cx="2564.3" cy="1904" rx="9.98" ry="11.97" stroke-width="2.64" fill="#fff" transform="rotate(-15 2564.3 1904)"/>
<path d="M2554.3,1899 C2554.9,1897.6 2555.4,1892.4 2557.6,1890.7 C2559.8,1889 2565.1,1887.9 2567.6,1889 C2570.1,1890.1 2571.3,1893.7 2572.6,1897.3 C2573.9,1900.9 2574.8,1908.4 2575.2,1910.6" stroke-width="2.42"/>
<ellipse cx="2560.9" cy="1900.6" rx="8.65" ry="10.64" stroke-width="2.42" fill="#fff" transform="rotate(-15 2560.9 1900.6)"/>
<ellipse cx="2560.3" cy="1901.3" rx="5.65" ry="7.32" stroke-width="1.65" transform="rotate(-15 2560.3 1901.3)"/>
<g transform="translate(2506.1 1937.2) rotate(-29.1)"><rect x="0" y="-4" width="38.8" height="8" rx="2.5" fill="#111" stroke="none"/><path d="M8.1,-4 L0,-9 L0,9 L8.1,4Z" fill="#111" stroke="none"/><ellipse cx="0" cy="0" rx="5.6" ry="9" fill="#fff" stroke="#111" stroke-width="2.2"/><ellipse cx="0" cy="0" rx="1.8" ry="2.9" fill="none" stroke="#111" stroke-width="1.6"/></g>
<text x="2349.8" y="1980.7" textLength="121.4" lengthAdjust="spacingAndGlyphs">AXI235168</text>
<g transform="translate(2934.4 1817.5) rotate(-150.2)"><ellipse cx="0" cy="0" rx="3.9" ry="6.5" fill="#fff" stroke="#111" stroke-width="2.4"/><rect x="0" y="-3.2" width="38.3" height="6.5" rx="2.5" fill="#111" stroke="none"/></g>
<g transform="translate(2822 1881.7) rotate(-148.2)"><ellipse cx="0" cy="0" rx="3.9" ry="6.5" fill="#fff" stroke="#111" stroke-width="2.4"/><rect x="0" y="-3.2" width="37.9" height="6.5" rx="2.5" fill="#111" stroke="none"/></g>
<text x="2780.4" y="1961.1" textLength="119.7" lengthAdjust="spacingAndGlyphs">AXI235231</text>
<path class="ld" d="M2824.7,1887.3 L2852,1926.2 L2933.4,1824.1"/>
<text x="2954.9" y="1637.2" textLength="121.9" lengthAdjust="spacingAndGlyphs">AXI230027</text>
<path class="ld" d="M2793.4,1663.9 L3010.2,1647.8 L2946.7,1720.7"/>
<path class="ld" d="M3010.2,1647.8 L2971,1801.1"/>
<text x="2959.7" y="1922.4" textLength="121.5" lengthAdjust="spacingAndGlyphs">AXI235168</text>
<path class="ld" d="M2978.4,1889.7 L2961.6,1864.6"/>
<path class="ld" d="M2508.6,1945 L2483.2,1967.4 L2627.1,2019"/>
<text x="2705.6" y="2020.4" textLength="121.5" lengthAdjust="spacingAndGlyphs">AXI230027</text>
<path class="ld" d="M2695.5,2005.6 L2645.8,1991.7"/>
<ellipse cx="2631.9" cy="1992.1" rx="13.08" ry="7.1" stroke-width="2.42" fill="#fff"/>
<ellipse cx="2631.9" cy="1989.9" rx="13.08" ry="7.1" stroke-width="2.86" fill="#fff"/>
<ellipse cx="2631.9" cy="1989.1" rx="5.23" ry="2.62" stroke-width="3.85" fill="#888" stroke="#222"/>
<g transform="translate(2631.9 2046.7) rotate(-90.0)"><ellipse cx="0" cy="0" rx="5.4" ry="9" fill="#fff" stroke="#111" stroke-width="2.4"/><rect x="0" y="-3.8" width="36.3" height="7.5" rx="2.5" fill="#111" stroke="none"/></g>
</g>
</svg>
</body></html>
